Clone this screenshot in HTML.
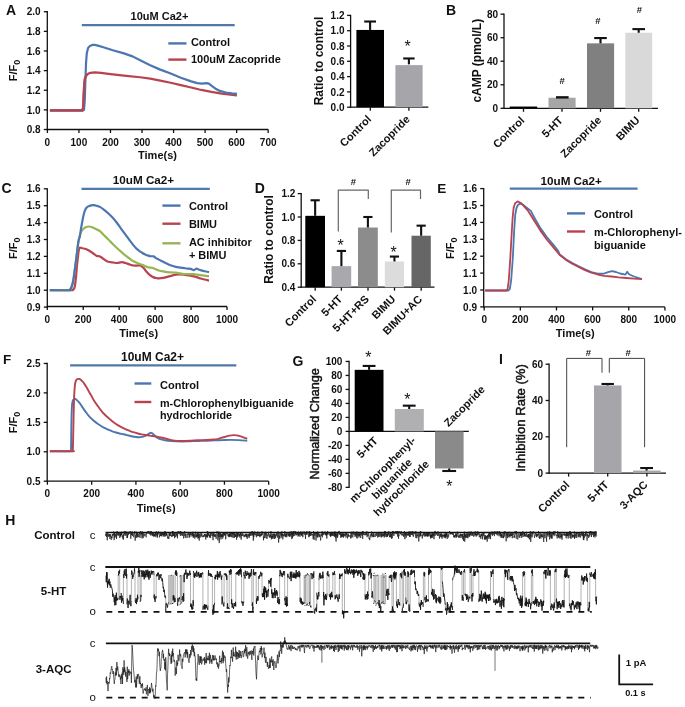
<!DOCTYPE html>
<html><head><meta charset="utf-8"><style>
html,body{margin:0;padding:0;background:#fff;}
svg{display:block;will-change:transform;}
text{font-family:"Liberation Sans", sans-serif;}
</style></head><body>
<svg width="685" height="707" viewBox="0 0 685 707">
<rect width="685" height="707" fill="#fff"/>
<text x="6.0" y="15.2" font-size="14" font-weight="bold" text-anchor="start" fill="#111">A</text>
<line x1="47.30" y1="11.10" x2="47.30" y2="130.10" stroke="#111" stroke-width="1.3"/>
<line x1="43.80" y1="129.50" x2="47.30" y2="129.50" stroke="#111" stroke-width="1.3"/>
<text x="40.6" y="133.1" font-size="10" font-weight="bold" text-anchor="end" fill="#111">0.8</text>
<line x1="43.80" y1="109.87" x2="47.30" y2="109.87" stroke="#111" stroke-width="1.3"/>
<text x="40.6" y="113.5" font-size="10" font-weight="bold" text-anchor="end" fill="#111">1.0</text>
<line x1="43.80" y1="90.24" x2="47.30" y2="90.24" stroke="#111" stroke-width="1.3"/>
<text x="40.6" y="93.8" font-size="10" font-weight="bold" text-anchor="end" fill="#111">1.2</text>
<line x1="43.80" y1="70.61" x2="47.30" y2="70.61" stroke="#111" stroke-width="1.3"/>
<text x="40.6" y="74.2" font-size="10" font-weight="bold" text-anchor="end" fill="#111">1.4</text>
<line x1="43.80" y1="50.98" x2="47.30" y2="50.98" stroke="#111" stroke-width="1.3"/>
<text x="40.6" y="54.6" font-size="10" font-weight="bold" text-anchor="end" fill="#111">1.6</text>
<line x1="43.80" y1="31.35" x2="47.30" y2="31.35" stroke="#111" stroke-width="1.3"/>
<text x="40.6" y="35.0" font-size="10" font-weight="bold" text-anchor="end" fill="#111">1.8</text>
<line x1="43.80" y1="11.72" x2="47.30" y2="11.72" stroke="#111" stroke-width="1.3"/>
<text x="40.6" y="15.3" font-size="10" font-weight="bold" text-anchor="end" fill="#111">2.0</text>
<line x1="46.70" y1="129.50" x2="268.20" y2="129.50" stroke="#111" stroke-width="1.3"/>
<line x1="47.40" y1="129.50" x2="47.40" y2="133.00" stroke="#111" stroke-width="1.3"/>
<text x="47.4" y="145.9" font-size="10" font-weight="bold" text-anchor="middle" fill="#111">0</text>
<line x1="78.94" y1="129.50" x2="78.94" y2="133.00" stroke="#111" stroke-width="1.3"/>
<text x="78.9" y="145.9" font-size="10" font-weight="bold" text-anchor="middle" fill="#111">100</text>
<line x1="110.48" y1="129.50" x2="110.48" y2="133.00" stroke="#111" stroke-width="1.3"/>
<text x="110.5" y="145.9" font-size="10" font-weight="bold" text-anchor="middle" fill="#111">200</text>
<line x1="142.02" y1="129.50" x2="142.02" y2="133.00" stroke="#111" stroke-width="1.3"/>
<text x="142.0" y="145.9" font-size="10" font-weight="bold" text-anchor="middle" fill="#111">300</text>
<line x1="173.56" y1="129.50" x2="173.56" y2="133.00" stroke="#111" stroke-width="1.3"/>
<text x="173.6" y="145.9" font-size="10" font-weight="bold" text-anchor="middle" fill="#111">400</text>
<line x1="205.10" y1="129.50" x2="205.10" y2="133.00" stroke="#111" stroke-width="1.3"/>
<text x="205.1" y="145.9" font-size="10" font-weight="bold" text-anchor="middle" fill="#111">500</text>
<line x1="236.64" y1="129.50" x2="236.64" y2="133.00" stroke="#111" stroke-width="1.3"/>
<text x="236.6" y="145.9" font-size="10" font-weight="bold" text-anchor="middle" fill="#111">600</text>
<line x1="268.18" y1="129.50" x2="268.18" y2="133.00" stroke="#111" stroke-width="1.3"/>
<text x="268.2" y="145.9" font-size="10" font-weight="bold" text-anchor="middle" fill="#111">700</text>
<text x="157.5" y="158.6" font-size="11" font-weight="bold" text-anchor="middle" fill="#111">Time(s)</text>
<text transform="translate(16.6,70.5) rotate(-90)" font-size="11" font-weight="bold" text-anchor="middle" fill="#111">F/F<tspan font-size="9.0" dy="3.2">0</tspan></text>
<line x1="81.80" y1="25.10" x2="234.70" y2="25.10" stroke="#5079aa" stroke-width="2.2"/>
<text x="159.5" y="19.8" font-size="11" font-weight="bold" text-anchor="middle" fill="#111">10uM Ca2+</text>
<line x1="168.30" y1="43.40" x2="186.50" y2="43.40" stroke="#4b76b0" stroke-width="2.4"/>
<text x="190.9" y="46.3" font-size="11" font-weight="bold" text-anchor="start" fill="#111">Control</text>
<line x1="168.30" y1="59.60" x2="186.50" y2="59.60" stroke="#b8434e" stroke-width="2.4"/>
<text x="190.9" y="63.4" font-size="11" font-weight="bold" text-anchor="start" fill="#111">100uM Zacopride</text>
<path d="M49.92,110.46 L82.41,110.46 L83.20,106.93 L83.67,95.15 L84.14,85.33 L84.77,79.44 L85.88,76.01 L87.77,74.05 L90.29,72.87 L94.71,72.38 L101.02,72.87 L110.48,74.05 L126.25,75.81 L140.13,77.28 L150.22,78.66 L160.31,80.62 L170.72,82.78 L180.81,85.14 L191.22,87.49 L201.32,89.95 L211.41,91.91 L221.82,93.68 L236.96,95.44" fill="none" stroke="#b8434e" stroke-width="2.2" stroke-linejoin="round" stroke-linecap="butt"/>
<path d="M49.92,110.46 L82.72,110.46 L83.99,109.87 L84.77,100.05 L85.41,80.43 L86.04,62.76 L86.83,52.94 L88.09,48.04 L89.98,45.88 L92.19,44.89 L94.71,44.89 L97.86,45.58 L102.59,47.05 L107.33,48.53 L113.63,50.49 L123.10,53.14 L132.56,56.38 L140.13,60.30 L150.22,65.21 L160.31,69.63 L170.72,73.55 L180.81,77.68 L191.22,81.41 L197.22,83.17 L201.95,83.57 L206.68,83.17 L208.88,83.57 L211.72,85.82 L216.14,89.06 L219.92,90.93 L225.92,92.50 L231.91,93.38 L236.96,93.87" fill="none" stroke="#4b76b0" stroke-width="2.2" stroke-linejoin="round" stroke-linecap="butt"/>
<path d="M49.92,110.46 L82.41,110.46 L83.20,106.93 L83.67,95.15 L84.14,85.33 L84.77,79.44 L85.88,76.01 L87.77,74.05" fill="none" stroke="#b8434e" stroke-width="2.2" stroke-linejoin="round" stroke-linecap="butt"/>
<line x1="350.60" y1="14.80" x2="350.60" y2="107.80" stroke="#111" stroke-width="1.3"/>
<line x1="347.10" y1="107.20" x2="350.60" y2="107.20" stroke="#111" stroke-width="1.3"/>
<text x="344.5" y="110.8" font-size="10" font-weight="bold" text-anchor="end" fill="#111">0.0</text>
<line x1="347.10" y1="91.90" x2="350.60" y2="91.90" stroke="#111" stroke-width="1.3"/>
<text x="344.5" y="95.5" font-size="10" font-weight="bold" text-anchor="end" fill="#111">0.2</text>
<line x1="347.10" y1="76.60" x2="350.60" y2="76.60" stroke="#111" stroke-width="1.3"/>
<text x="344.5" y="80.2" font-size="10" font-weight="bold" text-anchor="end" fill="#111">0.4</text>
<line x1="347.10" y1="61.30" x2="350.60" y2="61.30" stroke="#111" stroke-width="1.3"/>
<text x="344.5" y="64.9" font-size="10" font-weight="bold" text-anchor="end" fill="#111">0.6</text>
<line x1="347.10" y1="46.00" x2="350.60" y2="46.00" stroke="#111" stroke-width="1.3"/>
<text x="344.5" y="49.6" font-size="10" font-weight="bold" text-anchor="end" fill="#111">0.8</text>
<line x1="347.10" y1="30.70" x2="350.60" y2="30.70" stroke="#111" stroke-width="1.3"/>
<text x="344.5" y="34.3" font-size="10" font-weight="bold" text-anchor="end" fill="#111">1.0</text>
<line x1="347.10" y1="15.40" x2="350.60" y2="15.40" stroke="#111" stroke-width="1.3"/>
<text x="344.5" y="19.0" font-size="10" font-weight="bold" text-anchor="end" fill="#111">1.2</text>
<line x1="350.00" y1="107.20" x2="428.30" y2="107.20" stroke="#111" stroke-width="1.3"/>
<line x1="370.30" y1="107.20" x2="370.30" y2="110.70" stroke="#111" stroke-width="1.3"/>
<line x1="408.90" y1="107.20" x2="408.90" y2="110.70" stroke="#111" stroke-width="1.3"/>
<rect x="356.40" y="29.94" width="27.60" height="77.27" fill="#000"/>
<line x1="370.10" y1="29.94" x2="370.10" y2="21.52" stroke="#111" stroke-width="2.1"/>
<line x1="364.20" y1="21.52" x2="376.00" y2="21.52" stroke="#111" stroke-width="2.1"/>
<rect x="395.40" y="65.12" width="27.20" height="42.08" fill="#a5a5aa"/>
<line x1="408.90" y1="64.36" x2="408.90" y2="58.47" stroke="#111" stroke-width="2.1"/>
<line x1="403.20" y1="58.47" x2="414.60" y2="58.47" stroke="#111" stroke-width="2.1"/>
<text x="407.5" y="52.0" font-size="16" font-weight="normal" text-anchor="middle" fill="#111">*</text>
<text transform="translate(323.0,61.0) rotate(-90)" font-size="12" font-weight="bold" text-anchor="middle" fill="#111">Ratio to control</text>
<text transform="translate(372.0,119.9) rotate(-45)" font-size="11" font-weight="bold" text-anchor="end" fill="#111">Control</text>
<text transform="translate(410.6,119.9) rotate(-45)" font-size="11" font-weight="bold" text-anchor="end" fill="#111">Zacopride</text>
<text x="446.1" y="15.3" font-size="14" font-weight="bold" text-anchor="start" fill="#111">B</text>
<line x1="504.00" y1="13.60" x2="504.00" y2="108.90" stroke="#111" stroke-width="1.3"/>
<line x1="500.50" y1="108.30" x2="504.00" y2="108.30" stroke="#111" stroke-width="1.3"/>
<text x="498.1" y="111.9" font-size="10" font-weight="bold" text-anchor="end" fill="#111">0</text>
<line x1="500.50" y1="84.77" x2="504.00" y2="84.77" stroke="#111" stroke-width="1.3"/>
<text x="498.1" y="88.4" font-size="10" font-weight="bold" text-anchor="end" fill="#111">20</text>
<line x1="500.50" y1="61.24" x2="504.00" y2="61.24" stroke="#111" stroke-width="1.3"/>
<text x="498.1" y="64.8" font-size="10" font-weight="bold" text-anchor="end" fill="#111">40</text>
<line x1="500.50" y1="37.71" x2="504.00" y2="37.71" stroke="#111" stroke-width="1.3"/>
<text x="498.1" y="41.3" font-size="10" font-weight="bold" text-anchor="end" fill="#111">60</text>
<line x1="500.50" y1="14.18" x2="504.00" y2="14.18" stroke="#111" stroke-width="1.3"/>
<text x="498.1" y="17.8" font-size="10" font-weight="bold" text-anchor="end" fill="#111">80</text>
<line x1="503.40" y1="108.30" x2="658.00" y2="108.30" stroke="#111" stroke-width="1.3"/>
<line x1="523.50" y1="108.30" x2="523.50" y2="111.80" stroke="#111" stroke-width="1.3"/>
<line x1="562.00" y1="108.30" x2="562.00" y2="111.80" stroke="#111" stroke-width="1.3"/>
<line x1="600.50" y1="108.30" x2="600.50" y2="111.80" stroke="#111" stroke-width="1.3"/>
<line x1="638.70" y1="108.30" x2="638.70" y2="111.80" stroke="#111" stroke-width="1.3"/>
<rect x="509.70" y="106.54" width="27.50" height="1.76" fill="#000"/>
<rect x="548.50" y="97.71" width="27.10" height="10.59" fill="#a6a6a6"/>
<line x1="556.00" y1="97.36" x2="568.60" y2="97.36" stroke="#111" stroke-width="2.4"/>
<rect x="587.00" y="43.36" width="27.10" height="64.94" fill="#808080"/>
<line x1="600.50" y1="43.36" x2="600.50" y2="38.06" stroke="#111" stroke-width="2.1"/>
<line x1="594.20" y1="38.06" x2="606.80" y2="38.06" stroke="#111" stroke-width="2.1"/>
<rect x="625.30" y="32.77" width="26.90" height="75.53" fill="#d9d9d9"/>
<line x1="638.70" y1="32.77" x2="638.70" y2="29.12" stroke="#111" stroke-width="2.1"/>
<line x1="632.40" y1="29.12" x2="645.00" y2="29.12" stroke="#111" stroke-width="2.1"/>
<text x="562.2" y="83.8" font-size="9.5" font-weight="bold" text-anchor="middle" fill="#111">#</text>
<text x="597.8" y="23.7" font-size="9.5" font-weight="bold" text-anchor="middle" fill="#111">#</text>
<text x="639.5" y="13.1" font-size="9.5" font-weight="bold" text-anchor="middle" fill="#111">#</text>
<text transform="translate(480.8,60.7) rotate(-90)" font-size="12" font-weight="bold" text-anchor="middle" fill="#111">cAMP (pmol/L)</text>
<text transform="translate(525.1,121.0) rotate(-45)" font-size="11" font-weight="bold" text-anchor="end" fill="#111">Control</text>
<text transform="translate(563.6,121.0) rotate(-45)" font-size="11" font-weight="bold" text-anchor="end" fill="#111">5-HT</text>
<text transform="translate(602.1,121.0) rotate(-45)" font-size="11" font-weight="bold" text-anchor="end" fill="#111">Zacopride</text>
<text transform="translate(640.3,121.0) rotate(-45)" font-size="11" font-weight="bold" text-anchor="end" fill="#111">BIMU</text>
<text x="1.4" y="193.0" font-size="14" font-weight="bold" text-anchor="start" fill="#111">C</text>
<line x1="47.30" y1="188.20" x2="47.30" y2="307.70" stroke="#111" stroke-width="1.3"/>
<line x1="43.80" y1="307.10" x2="47.30" y2="307.10" stroke="#111" stroke-width="1.3"/>
<text x="40.6" y="310.7" font-size="10" font-weight="bold" text-anchor="end" fill="#111">0.9</text>
<line x1="43.80" y1="290.20" x2="47.30" y2="290.20" stroke="#111" stroke-width="1.3"/>
<text x="40.6" y="293.8" font-size="10" font-weight="bold" text-anchor="end" fill="#111">1.0</text>
<line x1="43.80" y1="273.30" x2="47.30" y2="273.30" stroke="#111" stroke-width="1.3"/>
<text x="40.6" y="276.9" font-size="10" font-weight="bold" text-anchor="end" fill="#111">1.1</text>
<line x1="43.80" y1="256.40" x2="47.30" y2="256.40" stroke="#111" stroke-width="1.3"/>
<text x="40.6" y="260.0" font-size="10" font-weight="bold" text-anchor="end" fill="#111">1.2</text>
<line x1="43.80" y1="239.50" x2="47.30" y2="239.50" stroke="#111" stroke-width="1.3"/>
<text x="40.6" y="243.1" font-size="10" font-weight="bold" text-anchor="end" fill="#111">1.3</text>
<line x1="43.80" y1="222.60" x2="47.30" y2="222.60" stroke="#111" stroke-width="1.3"/>
<text x="40.6" y="226.2" font-size="10" font-weight="bold" text-anchor="end" fill="#111">1.4</text>
<line x1="43.80" y1="205.70" x2="47.30" y2="205.70" stroke="#111" stroke-width="1.3"/>
<text x="40.6" y="209.3" font-size="10" font-weight="bold" text-anchor="end" fill="#111">1.5</text>
<line x1="43.80" y1="188.80" x2="47.30" y2="188.80" stroke="#111" stroke-width="1.3"/>
<text x="40.6" y="192.4" font-size="10" font-weight="bold" text-anchor="end" fill="#111">1.6</text>
<line x1="46.70" y1="306.50" x2="227.00" y2="306.50" stroke="#111" stroke-width="1.3"/>
<line x1="47.30" y1="306.50" x2="47.30" y2="310.00" stroke="#111" stroke-width="1.3"/>
<text x="47.3" y="322.7" font-size="10" font-weight="bold" text-anchor="middle" fill="#111">0</text>
<line x1="83.24" y1="306.50" x2="83.24" y2="310.00" stroke="#111" stroke-width="1.3"/>
<text x="83.2" y="322.7" font-size="10" font-weight="bold" text-anchor="middle" fill="#111">200</text>
<line x1="119.18" y1="306.50" x2="119.18" y2="310.00" stroke="#111" stroke-width="1.3"/>
<text x="119.2" y="322.7" font-size="10" font-weight="bold" text-anchor="middle" fill="#111">400</text>
<line x1="155.12" y1="306.50" x2="155.12" y2="310.00" stroke="#111" stroke-width="1.3"/>
<text x="155.1" y="322.7" font-size="10" font-weight="bold" text-anchor="middle" fill="#111">600</text>
<line x1="191.06" y1="306.50" x2="191.06" y2="310.00" stroke="#111" stroke-width="1.3"/>
<text x="191.1" y="322.7" font-size="10" font-weight="bold" text-anchor="middle" fill="#111">800</text>
<line x1="227.00" y1="306.50" x2="227.00" y2="310.00" stroke="#111" stroke-width="1.3"/>
<text x="227.0" y="322.7" font-size="10" font-weight="bold" text-anchor="middle" fill="#111">1000</text>
<text x="138.6" y="336.5" font-size="11" font-weight="bold" text-anchor="middle" fill="#111">Time(s)</text>
<text transform="translate(16.6,248.2) rotate(-90)" font-size="11" font-weight="bold" text-anchor="middle" fill="#111">F/F<tspan font-size="9.0" dy="3.2">0</tspan></text>
<line x1="81.50" y1="188.90" x2="209.80" y2="188.90" stroke="#5079aa" stroke-width="2.2"/>
<text x="143.5" y="184.0" font-size="11.7" font-weight="bold" text-anchor="middle" fill="#111">10uM Ca2+</text>
<line x1="162.40" y1="205.60" x2="180.50" y2="205.60" stroke="#4b76b0" stroke-width="2.4"/>
<text x="188.9" y="210.4" font-size="11" font-weight="bold" text-anchor="start" fill="#111">Control</text>
<line x1="162.40" y1="223.70" x2="180.50" y2="223.70" stroke="#b8434e" stroke-width="2.4"/>
<text x="188.9" y="228.2" font-size="11" font-weight="bold" text-anchor="start" fill="#111">BIMU</text>
<line x1="162.40" y1="243.30" x2="180.50" y2="243.30" stroke="#95b653" stroke-width="2.4"/>
<text x="188.9" y="245.8" font-size="11" font-weight="bold" text-anchor="start" fill="#111">AC inhibitor</text>
<text x="188.9" y="258.6" font-size="11" font-weight="bold" text-anchor="start" fill="#111">+ BIMU</text>
<path d="M49.82,290.20 C53.29,290.20 66.83,290.28 70.66,290.20 C74.49,290.12 72.22,290.03 72.82,289.69 C73.42,289.36 73.90,288.88 74.25,288.17 C74.61,287.47 74.67,287.38 74.97,285.47 C75.27,283.55 75.72,279.98 76.05,276.68 C76.38,273.38 76.65,268.79 76.95,265.70 C77.25,262.60 77.58,260.43 77.85,258.09 C78.12,255.75 78.24,253.41 78.57,251.67 C78.90,249.92 79.20,248.18 79.83,247.61 C80.45,247.05 81.47,248.09 82.34,248.29 C83.21,248.49 84.29,248.60 85.04,248.80 C85.79,248.99 86.06,249.10 86.83,249.47 C87.61,249.84 88.75,250.40 89.71,250.99 C90.67,251.58 91.42,252.20 92.58,253.02 C93.75,253.84 95.49,255.33 96.72,255.89 C97.95,256.46 98.87,255.92 99.95,256.40 C101.03,256.88 102.23,258.09 103.19,258.77 C104.15,259.44 104.83,259.95 105.70,260.46 C106.57,260.96 107.11,261.47 108.40,261.81 C109.69,262.15 112.02,262.29 113.43,262.48 C114.84,262.68 115.44,263.05 116.84,262.99 C118.25,262.93 120.47,262.15 121.88,262.15 C123.28,262.15 123.88,262.57 125.29,262.99 C126.70,263.41 128.94,264.26 130.32,264.68 C131.70,265.10 132.42,265.39 133.56,265.53 C134.69,265.67 136.04,265.53 137.15,265.53 C138.26,265.53 139.13,265.10 140.20,265.53 C141.28,265.95 142.63,267.10 143.62,268.06 C144.61,269.02 145.30,270.29 146.13,271.27 C146.97,272.26 147.81,273.19 148.65,273.98 C149.49,274.76 150.33,275.44 151.17,276.00 C152.01,276.57 152.84,277.02 153.68,277.36 C154.52,277.69 155.33,277.86 156.20,278.03 C157.07,278.20 157.73,278.40 158.89,278.37 C160.06,278.34 161.80,278.12 163.21,277.86 C164.61,277.61 165.99,277.19 167.34,276.85 C168.69,276.51 169.89,276.20 171.29,275.84 C172.70,275.47 174.35,274.88 175.79,274.65 C177.22,274.43 178.57,274.48 179.92,274.48 C181.27,274.48 182.31,274.48 183.87,274.65 C185.43,274.82 187.59,275.22 189.26,275.50 C190.94,275.78 192.59,276.03 193.94,276.34 C195.28,276.65 196.21,276.99 197.35,277.36 C198.49,277.72 199.57,278.17 200.76,278.54 C201.96,278.91 203.16,279.22 204.54,279.55 C205.92,279.89 208.28,280.40 209.03,280.57" fill="none" stroke="#b8434e" stroke-width="2.2" stroke-linejoin="round"/>
<path d="M49.82,290.20 C52.99,290.20 65.51,290.28 68.86,290.20 C72.22,290.12 69.49,290.26 69.94,289.69 C70.39,289.13 70.99,288.45 71.56,286.82 C72.13,285.19 72.58,284.59 73.36,279.89 C74.14,275.19 75.39,264.96 76.23,258.60 C77.07,252.23 77.67,245.92 78.39,241.70 C79.11,237.47 79.80,235.30 80.54,233.25 C81.29,231.19 82.01,230.37 82.88,229.36 C83.75,228.35 84.74,227.64 85.76,227.16 C86.77,226.68 87.91,226.49 88.99,226.49 C90.07,226.49 91.09,226.74 92.22,227.16 C93.36,227.59 94.53,228.37 95.82,229.02 C97.11,229.67 98.57,230.01 99.95,231.05 C101.33,232.09 102.68,233.87 104.09,235.28 C105.49,236.68 106.99,238.09 108.40,239.50 C109.81,240.91 111.12,242.32 112.53,243.73 C113.94,245.13 115.44,246.63 116.84,247.95 C118.25,249.27 119.57,250.43 120.98,251.67 C122.38,252.91 123.88,254.26 125.29,255.39 C126.70,256.51 128.05,257.44 129.42,258.43 C130.80,259.41 132.18,260.51 133.56,261.30 C134.93,262.09 136.28,262.60 137.69,263.16 C139.10,263.72 140.74,264.17 142.00,264.68 C143.26,265.19 144.13,265.72 145.24,266.20 C146.34,266.68 147.51,267.30 148.65,267.55 C149.79,267.81 150.99,267.50 152.07,267.72 C153.14,267.95 153.98,268.46 155.12,268.91 C156.26,269.36 157.55,270.00 158.89,270.43 C160.24,270.85 161.80,271.16 163.21,271.44 C164.61,271.72 165.99,271.95 167.34,272.12 C168.69,272.29 169.89,272.37 171.29,272.46 C172.70,272.54 174.35,272.48 175.79,272.62 C177.22,272.76 178.57,273.07 179.92,273.30 C181.27,273.53 182.31,273.84 183.87,273.98 C185.43,274.12 187.59,274.12 189.26,274.15 C190.94,274.17 192.59,274.06 193.94,274.15 C195.28,274.23 196.21,274.48 197.35,274.65 C198.49,274.82 199.57,274.99 200.76,275.16 C201.96,275.33 203.16,275.47 204.54,275.67 C205.92,275.86 208.28,276.23 209.03,276.34" fill="none" stroke="#95b653" stroke-width="2.2" stroke-linejoin="round"/>
<path d="M49.82,290.20 C52.99,290.20 65.51,290.28 68.86,290.20 C72.22,290.12 69.49,290.26 69.94,289.69 C70.39,289.13 70.99,288.45 71.56,286.82 C72.13,285.19 72.58,284.59 73.36,279.89 C74.14,275.19 75.39,264.96 76.23,258.60 C77.07,252.23 77.79,245.39 78.39,241.70 C78.99,238.01 79.41,238.51 79.83,236.46 C80.25,234.40 80.54,231.56 80.90,229.36 C81.26,227.16 81.56,225.53 81.98,223.28 C82.40,221.02 82.94,217.95 83.42,215.84 C83.90,213.73 84.35,211.95 84.86,210.60 C85.37,209.25 85.91,208.43 86.47,207.73 C87.04,207.02 87.49,206.77 88.27,206.38 C89.05,205.98 90.19,205.56 91.15,205.36 C92.11,205.16 93.06,205.11 94.02,205.19 C94.98,205.28 95.91,205.59 96.90,205.87 C97.89,206.15 98.75,206.24 99.95,206.88 C101.15,207.53 102.68,208.66 104.09,209.76 C105.49,210.85 106.99,212.18 108.40,213.47 C109.81,214.77 111.12,215.98 112.53,217.53 C113.94,219.08 115.44,220.94 116.84,222.77 C118.25,224.60 119.57,226.57 120.98,228.52 C122.38,230.46 123.88,232.51 125.29,234.43 C126.70,236.35 128.05,238.18 129.42,240.01 C130.80,241.84 132.45,244.03 133.56,245.42 C134.66,246.80 135.23,247.44 136.07,248.29 C136.91,249.13 137.60,249.75 138.59,250.49 C139.58,251.22 140.89,252.01 142.00,252.68 C143.11,253.36 144.25,254.06 145.24,254.54 C146.22,255.02 147.06,255.27 147.93,255.56 C148.80,255.84 149.49,256.09 150.45,256.23 C151.41,256.37 152.75,256.09 153.68,256.40 C154.61,256.71 155.15,257.55 156.02,258.09 C156.89,258.63 157.70,258.99 158.89,259.61 C160.09,260.23 161.80,261.10 163.21,261.81 C164.61,262.51 165.99,263.22 167.34,263.84 C168.69,264.46 169.89,265.02 171.29,265.53 C172.70,266.03 174.29,266.54 175.79,266.88 C177.28,267.22 178.93,267.36 180.28,267.55 C181.63,267.75 182.67,267.89 183.87,268.06 C185.07,268.23 186.33,268.43 187.47,268.57 C188.60,268.71 189.62,268.65 190.70,268.91 C191.78,269.16 192.98,270.15 193.94,270.09 C194.89,270.03 195.67,268.65 196.45,268.57 C197.23,268.48 197.89,269.30 198.61,269.58 C199.33,269.86 199.78,269.98 200.76,270.26 C201.75,270.54 203.16,270.96 204.54,271.27 C205.92,271.58 208.28,271.98 209.03,272.12" fill="none" stroke="#4b76b0" stroke-width="2.2" stroke-linejoin="round"/>
<text x="254.7" y="193.0" font-size="14" font-weight="bold" text-anchor="start" fill="#111">D</text>
<line x1="301.20" y1="193.00" x2="301.20" y2="287.80" stroke="#111" stroke-width="1.3"/>
<line x1="297.70" y1="287.20" x2="301.20" y2="287.20" stroke="#111" stroke-width="1.3"/>
<text x="295.3" y="290.8" font-size="10" font-weight="bold" text-anchor="end" fill="#111">0.4</text>
<line x1="297.70" y1="263.80" x2="301.20" y2="263.80" stroke="#111" stroke-width="1.3"/>
<text x="295.3" y="267.4" font-size="10" font-weight="bold" text-anchor="end" fill="#111">0.6</text>
<line x1="297.70" y1="240.40" x2="301.20" y2="240.40" stroke="#111" stroke-width="1.3"/>
<text x="295.3" y="244.0" font-size="10" font-weight="bold" text-anchor="end" fill="#111">0.8</text>
<line x1="297.70" y1="217.00" x2="301.20" y2="217.00" stroke="#111" stroke-width="1.3"/>
<text x="295.3" y="220.6" font-size="10" font-weight="bold" text-anchor="end" fill="#111">1.0</text>
<line x1="297.70" y1="193.60" x2="301.20" y2="193.60" stroke="#111" stroke-width="1.3"/>
<text x="295.3" y="197.2" font-size="10" font-weight="bold" text-anchor="end" fill="#111">1.2</text>
<line x1="300.60" y1="287.20" x2="434.50" y2="287.20" stroke="#111" stroke-width="1.3"/>
<line x1="315.20" y1="287.20" x2="315.20" y2="290.70" stroke="#111" stroke-width="1.3"/>
<line x1="341.40" y1="287.20" x2="341.40" y2="290.70" stroke="#111" stroke-width="1.3"/>
<line x1="368.00" y1="287.20" x2="368.00" y2="290.70" stroke="#111" stroke-width="1.3"/>
<line x1="394.50" y1="287.20" x2="394.50" y2="290.70" stroke="#111" stroke-width="1.3"/>
<line x1="421.20" y1="287.20" x2="421.20" y2="290.70" stroke="#111" stroke-width="1.3"/>
<rect x="305.30" y="215.83" width="19.70" height="71.37" fill="#000"/>
<line x1="315.15" y1="215.83" x2="315.15" y2="200.27" stroke="#111" stroke-width="2.1"/>
<line x1="310.55" y1="200.27" x2="319.75" y2="200.27" stroke="#111" stroke-width="2.1"/>
<rect x="331.60" y="266.14" width="19.60" height="21.06" fill="#a9a9ad"/>
<line x1="341.40" y1="266.14" x2="341.40" y2="250.93" stroke="#111" stroke-width="2.1"/>
<line x1="336.80" y1="250.93" x2="346.00" y2="250.93" stroke="#111" stroke-width="2.1"/>
<rect x="358.00" y="227.53" width="19.80" height="59.67" fill="#8c8c8c"/>
<line x1="367.90" y1="227.53" x2="367.90" y2="217.00" stroke="#111" stroke-width="2.1"/>
<line x1="363.30" y1="217.00" x2="372.50" y2="217.00" stroke="#111" stroke-width="2.1"/>
<rect x="384.80" y="261.46" width="19.30" height="25.74" fill="#dcdcdc"/>
<line x1="394.45" y1="261.46" x2="394.45" y2="256.55" stroke="#111" stroke-width="2.1"/>
<line x1="389.85" y1="256.55" x2="399.05" y2="256.55" stroke="#111" stroke-width="2.1"/>
<rect x="411.50" y="235.72" width="19.30" height="51.48" fill="#666"/>
<line x1="421.15" y1="235.72" x2="421.15" y2="225.66" stroke="#111" stroke-width="2.1"/>
<line x1="416.55" y1="225.66" x2="425.75" y2="225.66" stroke="#111" stroke-width="2.1"/>
<text x="340.5" y="251.0" font-size="16" font-weight="normal" text-anchor="middle" fill="#111">*</text>
<text x="393.5" y="257.6" font-size="16" font-weight="normal" text-anchor="middle" fill="#111">*</text>
<path d="M338.30,231.60 L338.30,190.20 L368.30,190.20 L368.30,199.00" fill="none" stroke="#666" stroke-width="1.2" stroke-linejoin="round" stroke-linecap="butt"/>
<path d="M391.30,232.50 L391.30,190.20 L420.50,190.20 L420.50,199.00" fill="none" stroke="#666" stroke-width="1.2" stroke-linejoin="round" stroke-linecap="butt"/>
<text x="353.5" y="184.5" font-size="9.5" font-weight="bold" text-anchor="middle" fill="#111">#</text>
<text x="408.2" y="184.5" font-size="9.5" font-weight="bold" text-anchor="middle" fill="#111">#</text>
<text transform="translate(273.0,239.4) rotate(-90)" font-size="12" font-weight="bold" text-anchor="middle" fill="#111">Ratio to control</text>
<text transform="translate(316.8,299.8) rotate(-45)" font-size="11" font-weight="bold" text-anchor="end" fill="#111">Control</text>
<text transform="translate(343.0,299.8) rotate(-45)" font-size="11" font-weight="bold" text-anchor="end" fill="#111">5-HT</text>
<text transform="translate(369.6,299.8) rotate(-45)" font-size="11" font-weight="bold" text-anchor="end" fill="#111">5-HT+RS</text>
<text transform="translate(396.1,299.8) rotate(-45)" font-size="11" font-weight="bold" text-anchor="end" fill="#111">BIMU</text>
<text transform="translate(422.8,299.8) rotate(-45)" font-size="11" font-weight="bold" text-anchor="end" fill="#111">BIMU+AC</text>
<text x="437.2" y="192.8" font-size="13.5" font-weight="bold" text-anchor="start" fill="#111">E</text>
<line x1="483.70" y1="188.00" x2="483.70" y2="307.50" stroke="#111" stroke-width="1.3"/>
<line x1="480.20" y1="306.90" x2="483.70" y2="306.90" stroke="#111" stroke-width="1.3"/>
<text x="477.0" y="310.5" font-size="10" font-weight="bold" text-anchor="end" fill="#111">0.9</text>
<line x1="480.20" y1="290.00" x2="483.70" y2="290.00" stroke="#111" stroke-width="1.3"/>
<text x="477.0" y="293.6" font-size="10" font-weight="bold" text-anchor="end" fill="#111">1.0</text>
<line x1="480.20" y1="273.10" x2="483.70" y2="273.10" stroke="#111" stroke-width="1.3"/>
<text x="477.0" y="276.7" font-size="10" font-weight="bold" text-anchor="end" fill="#111">1.1</text>
<line x1="480.20" y1="256.20" x2="483.70" y2="256.20" stroke="#111" stroke-width="1.3"/>
<text x="477.0" y="259.8" font-size="10" font-weight="bold" text-anchor="end" fill="#111">1.2</text>
<line x1="480.20" y1="239.30" x2="483.70" y2="239.30" stroke="#111" stroke-width="1.3"/>
<text x="477.0" y="242.9" font-size="10" font-weight="bold" text-anchor="end" fill="#111">1.3</text>
<line x1="480.20" y1="222.40" x2="483.70" y2="222.40" stroke="#111" stroke-width="1.3"/>
<text x="477.0" y="226.0" font-size="10" font-weight="bold" text-anchor="end" fill="#111">1.4</text>
<line x1="480.20" y1="205.50" x2="483.70" y2="205.50" stroke="#111" stroke-width="1.3"/>
<text x="477.0" y="209.1" font-size="10" font-weight="bold" text-anchor="end" fill="#111">1.5</text>
<line x1="480.20" y1="188.60" x2="483.70" y2="188.60" stroke="#111" stroke-width="1.3"/>
<text x="477.0" y="192.2" font-size="10" font-weight="bold" text-anchor="end" fill="#111">1.6</text>
<line x1="483.10" y1="306.90" x2="664.90" y2="306.90" stroke="#111" stroke-width="1.3"/>
<line x1="484.20" y1="306.90" x2="484.20" y2="310.40" stroke="#111" stroke-width="1.3"/>
<text x="484.2" y="323.0" font-size="10" font-weight="bold" text-anchor="middle" fill="#111">0</text>
<line x1="520.34" y1="306.90" x2="520.34" y2="310.40" stroke="#111" stroke-width="1.3"/>
<text x="520.3" y="323.0" font-size="10" font-weight="bold" text-anchor="middle" fill="#111">200</text>
<line x1="556.48" y1="306.90" x2="556.48" y2="310.40" stroke="#111" stroke-width="1.3"/>
<text x="556.5" y="323.0" font-size="10" font-weight="bold" text-anchor="middle" fill="#111">400</text>
<line x1="592.62" y1="306.90" x2="592.62" y2="310.40" stroke="#111" stroke-width="1.3"/>
<text x="592.6" y="323.0" font-size="10" font-weight="bold" text-anchor="middle" fill="#111">600</text>
<line x1="628.76" y1="306.90" x2="628.76" y2="310.40" stroke="#111" stroke-width="1.3"/>
<text x="628.8" y="323.0" font-size="10" font-weight="bold" text-anchor="middle" fill="#111">800</text>
<line x1="664.90" y1="306.90" x2="664.90" y2="310.40" stroke="#111" stroke-width="1.3"/>
<text x="664.9" y="323.0" font-size="10" font-weight="bold" text-anchor="middle" fill="#111">1000</text>
<text x="575.3" y="336.6" font-size="11" font-weight="bold" text-anchor="middle" fill="#111">Time(s)</text>
<text transform="translate(453.5,248.2) rotate(-90)" font-size="11" font-weight="bold" text-anchor="middle" fill="#111">F/F<tspan font-size="9.0" dy="3.2">0</tspan></text>
<line x1="509.80" y1="188.60" x2="637.60" y2="188.60" stroke="#5079aa" stroke-width="2.2"/>
<text x="571.2" y="185.2" font-size="11.7" font-weight="bold" text-anchor="middle" fill="#111">10uM Ca2+</text>
<line x1="567.00" y1="213.40" x2="585.10" y2="213.40" stroke="#4b76b0" stroke-width="2.4"/>
<text x="593.9" y="218.2" font-size="11" font-weight="bold" text-anchor="start" fill="#111">Control</text>
<line x1="567.00" y1="231.50" x2="585.10" y2="231.50" stroke="#b8434e" stroke-width="2.4"/>
<text x="593.9" y="235.6" font-size="11" font-weight="bold" text-anchor="start" fill="#111">m-Chlorophenyl-</text>
<text x="593.9" y="248.6" font-size="11" font-weight="bold" text-anchor="start" fill="#111">biguanide</text>
<path d="M485.20,290.50 L508.60,290.50 L509.80,289.00 L511.20,280.00 L512.80,258.00 L514.10,232.00 L515.20,215.00 L516.50,208.00 L518.00,205.00 L519.80,203.70 L522.60,204.50 L527.70,208.40 L530.90,210.90 L534.10,217.30 L540.40,228.10 L546.80,237.00 L553.20,244.60 L558.30,251.00 L559.50,254.20 L565.90,259.20 L572.30,263.10 L578.60,266.20 L585.00,269.40 L591.30,272.00 L597.70,273.60 L604.00,273.60 L608.00,272.20 L612.00,271.20 L616.00,272.00 L620.00,273.50 L625.50,274.60 L627.20,271.80 L629.00,274.20 L634.00,276.50 L642.00,279.00" fill="none" stroke="#4b76b0" stroke-width="1.8" stroke-linejoin="round" stroke-linecap="butt"/>
<path d="M485.20,290.50 L506.60,290.50 L507.60,289.00 L508.80,280.00 L510.30,258.00 L511.60,235.00 L512.60,218.00 L513.60,208.00 L515.00,203.50 L517.50,201.40 L521.40,203.30 L527.70,210.30 L534.10,220.40 L540.40,230.60 L546.80,239.50 L553.20,247.20 L559.50,254.80 L565.90,259.90 L572.30,263.70 L578.60,266.90 L585.00,270.10 L591.30,272.60 L597.70,274.50 L604.00,275.80 L611.40,276.50 L618.70,277.40 L626.00,278.00 L634.00,278.60 L642.00,279.00" fill="none" stroke="#b8434e" stroke-width="1.8" stroke-linejoin="round" stroke-linecap="butt"/>
<text x="3.0" y="364.0" font-size="13.5" font-weight="bold" text-anchor="start" fill="#111">F</text>
<line x1="47.20" y1="362.86" x2="47.20" y2="481.80" stroke="#111" stroke-width="1.3"/>
<line x1="43.70" y1="481.20" x2="47.20" y2="481.20" stroke="#111" stroke-width="1.3"/>
<text x="40.5" y="484.8" font-size="10" font-weight="bold" text-anchor="end" fill="#111">0.5</text>
<line x1="43.70" y1="451.76" x2="47.20" y2="451.76" stroke="#111" stroke-width="1.3"/>
<text x="40.5" y="455.4" font-size="10" font-weight="bold" text-anchor="end" fill="#111">1.0</text>
<line x1="43.70" y1="422.33" x2="47.20" y2="422.33" stroke="#111" stroke-width="1.3"/>
<text x="40.5" y="425.9" font-size="10" font-weight="bold" text-anchor="end" fill="#111">1.5</text>
<line x1="43.70" y1="392.89" x2="47.20" y2="392.89" stroke="#111" stroke-width="1.3"/>
<text x="40.5" y="396.5" font-size="10" font-weight="bold" text-anchor="end" fill="#111">2.0</text>
<line x1="43.70" y1="363.46" x2="47.20" y2="363.46" stroke="#111" stroke-width="1.3"/>
<text x="40.5" y="367.1" font-size="10" font-weight="bold" text-anchor="end" fill="#111">2.5</text>
<line x1="46.60" y1="481.20" x2="268.70" y2="481.20" stroke="#111" stroke-width="1.3"/>
<line x1="47.40" y1="481.20" x2="47.40" y2="484.70" stroke="#111" stroke-width="1.3"/>
<text x="47.4" y="496.6" font-size="10" font-weight="bold" text-anchor="middle" fill="#111">0</text>
<line x1="91.66" y1="481.20" x2="91.66" y2="484.70" stroke="#111" stroke-width="1.3"/>
<text x="91.7" y="496.6" font-size="10" font-weight="bold" text-anchor="middle" fill="#111">200</text>
<line x1="135.92" y1="481.20" x2="135.92" y2="484.70" stroke="#111" stroke-width="1.3"/>
<text x="135.9" y="496.6" font-size="10" font-weight="bold" text-anchor="middle" fill="#111">400</text>
<line x1="180.18" y1="481.20" x2="180.18" y2="484.70" stroke="#111" stroke-width="1.3"/>
<text x="180.2" y="496.6" font-size="10" font-weight="bold" text-anchor="middle" fill="#111">600</text>
<line x1="224.44" y1="481.20" x2="224.44" y2="484.70" stroke="#111" stroke-width="1.3"/>
<text x="224.4" y="496.6" font-size="10" font-weight="bold" text-anchor="middle" fill="#111">800</text>
<line x1="268.70" y1="481.20" x2="268.70" y2="484.70" stroke="#111" stroke-width="1.3"/>
<text x="268.7" y="496.6" font-size="10" font-weight="bold" text-anchor="middle" fill="#111">1000</text>
<text x="156.2" y="511.8" font-size="11" font-weight="bold" text-anchor="middle" fill="#111">Time(s)</text>
<text transform="translate(16.6,422.5) rotate(-90)" font-size="11" font-weight="bold" text-anchor="middle" fill="#111">F/F<tspan font-size="9.0" dy="3.2">0</tspan></text>
<line x1="70.10" y1="365.30" x2="236.30" y2="365.30" stroke="#5079aa" stroke-width="2.2"/>
<text x="152.5" y="361.4" font-size="12" font-weight="bold" text-anchor="middle" fill="#111">10uM Ca2+</text>
<line x1="134.50" y1="383.50" x2="151.30" y2="383.50" stroke="#4b76b0" stroke-width="2.4"/>
<text x="160.0" y="388.6" font-size="11" font-weight="bold" text-anchor="start" fill="#111">Control</text>
<line x1="134.50" y1="402.00" x2="151.30" y2="402.00" stroke="#b8434e" stroke-width="2.4"/>
<text x="160.0" y="407.2" font-size="10.8" font-weight="bold" text-anchor="start" fill="#111">m-Chlorophenylbiguanide</text>
<text x="160.0" y="419.4" font-size="10.8" font-weight="bold" text-anchor="start" fill="#111">hydrochloride</text>
<path d="M49.83,451.18 C53.26,451.18 66.91,451.27 70.42,451.18 C73.92,451.08 70.75,451.47 70.86,450.59 C70.97,449.70 71.01,449.61 71.08,445.88 C71.15,442.15 71.21,433.61 71.30,428.22 C71.39,422.82 71.50,417.42 71.63,413.50 C71.76,409.57 71.87,406.83 72.07,404.67 C72.28,402.51 72.54,401.46 72.85,400.55 C73.16,399.64 73.55,399.47 73.96,399.19 C74.36,398.92 74.73,398.67 75.28,398.90 C75.84,399.13 76.57,399.90 77.28,400.55 C77.98,401.20 78.75,401.85 79.49,402.79 C80.23,403.72 80.96,405.04 81.70,406.14 C82.44,407.24 83.18,408.33 83.91,409.38 C84.65,410.43 85.39,411.46 86.13,412.44 C86.87,413.42 87.49,414.26 88.34,415.27 C89.19,416.27 90.26,417.47 91.22,418.44 C92.18,419.42 93.02,420.20 94.09,421.09 C95.16,421.99 96.42,422.95 97.64,423.80 C98.85,424.66 100.18,425.48 101.40,426.22 C102.61,426.95 103.72,427.60 104.94,428.22 C106.16,428.84 107.48,429.40 108.70,429.92 C109.92,430.44 111.02,430.91 112.24,431.34 C113.46,431.77 114.79,432.16 116.00,432.51 C117.22,432.87 118.33,433.17 119.54,433.46 C120.76,433.74 122.05,433.95 123.31,434.22 C124.56,434.50 125.85,434.81 127.07,435.10 C128.29,435.40 129.43,435.72 130.61,435.99 C131.79,436.25 132.93,436.49 134.15,436.69 C135.37,436.90 136.81,437.15 137.91,437.22 C139.02,437.30 139.79,437.30 140.79,437.17 C141.78,437.03 143.00,436.71 143.89,436.40 C144.77,436.09 145.40,435.64 146.10,435.28 C146.80,434.92 147.46,434.59 148.09,434.22 C148.72,433.85 149.35,433.28 149.86,433.04 C150.38,432.81 150.75,432.73 151.19,432.81 C151.63,432.89 152.04,433.15 152.52,433.52 C153.00,433.88 153.44,434.40 154.07,434.99 C154.69,435.58 155.54,436.50 156.28,437.05 C157.02,437.60 157.64,437.89 158.49,438.28 C159.34,438.68 160.12,439.02 161.37,439.40 C162.62,439.78 164.36,440.29 166.02,440.58 C167.68,440.87 168.64,441.02 171.33,441.17 C174.02,441.32 179.04,441.45 182.17,441.46 C185.31,441.47 187.48,441.31 190.14,441.23 C192.79,441.15 195.34,441.08 198.11,440.99 C200.87,440.90 204.04,440.80 206.74,440.70 C209.43,440.60 211.68,440.50 214.26,440.40 C216.84,440.30 219.57,440.20 222.23,440.11 C224.88,440.02 227.43,439.87 230.19,439.87 C232.96,439.87 235.98,439.97 238.82,440.11 C241.66,440.25 245.83,440.60 247.23,440.70" fill="none" stroke="#4b76b0" stroke-width="1.9" stroke-linejoin="round"/>
<path d="M49.83,451.18 C53.56,451.18 68.39,451.27 72.19,451.18 C75.98,451.08 72.50,451.47 72.63,450.59 C72.76,449.70 72.85,449.12 72.96,445.88 C73.07,442.64 73.16,437.05 73.29,431.16 C73.42,425.27 73.59,416.44 73.73,410.56 C73.88,404.67 73.99,399.96 74.18,395.84 C74.36,391.72 74.58,388.28 74.84,385.83 C75.10,383.38 75.36,382.22 75.73,381.12 C76.10,380.02 76.61,379.61 77.05,379.24 C77.50,378.86 77.98,378.92 78.38,378.88 C78.79,378.84 79.05,378.83 79.49,379.00 C79.93,379.18 80.56,379.54 81.04,379.94 C81.52,380.35 81.89,380.89 82.37,381.42 C82.84,381.95 83.29,382.24 83.91,383.12 C84.54,384.01 85.39,385.50 86.13,386.71 C86.87,387.93 87.49,388.95 88.34,390.42 C89.19,391.89 90.26,393.83 91.22,395.54 C92.18,397.26 93.02,399.01 94.09,400.72 C95.16,402.44 96.42,404.15 97.64,405.85 C98.85,407.54 100.18,409.42 101.40,410.91 C102.61,412.40 103.72,413.58 104.94,414.79 C106.16,416.01 107.48,417.13 108.70,418.21 C109.92,419.29 111.02,420.31 112.24,421.27 C113.46,422.23 114.79,423.16 116.00,423.98 C117.22,424.79 118.33,425.47 119.54,426.16 C120.76,426.84 122.05,427.49 123.31,428.10 C124.56,428.71 125.85,429.28 127.07,429.81 C128.29,430.34 129.43,430.84 130.61,431.28 C131.79,431.72 132.93,432.08 134.15,432.46 C135.37,432.83 136.69,433.20 137.91,433.52 C139.13,433.83 140.24,434.09 141.45,434.34 C142.67,434.58 143.92,434.79 145.21,434.99 C146.51,435.18 147.98,435.35 149.20,435.52 C150.42,435.68 151.04,435.75 152.52,435.99 C153.99,436.22 156.39,436.64 158.05,436.93 C159.71,437.22 161.15,437.45 162.48,437.75 C163.80,438.06 164.54,438.36 166.02,438.75 C167.49,439.15 169.45,439.74 171.33,440.11 C173.21,440.48 175.27,440.86 177.30,440.99 C179.33,441.12 181.36,440.92 183.50,440.87 C185.64,440.82 187.74,440.80 190.14,440.70 C192.54,440.60 195.19,440.41 197.88,440.29 C200.58,440.16 203.71,440.06 206.29,439.93 C208.88,439.80 211.53,439.66 213.38,439.52 C215.22,439.38 216.07,439.37 217.36,439.11 C218.65,438.84 219.76,438.33 221.12,437.93 C222.49,437.53 224.18,437.07 225.55,436.69 C226.91,436.32 227.98,435.96 229.31,435.69 C230.64,435.43 232.26,435.15 233.51,435.10 C234.77,435.06 235.76,435.22 236.83,435.40 C237.90,435.58 238.82,435.84 239.93,436.16 C241.04,436.49 242.25,436.91 243.47,437.34 C244.69,437.77 246.61,438.52 247.23,438.75" fill="none" stroke="#b8434e" stroke-width="1.9" stroke-linejoin="round"/>
<text x="292.4" y="365.5" font-size="14" font-weight="bold" text-anchor="start" fill="#111">G</text>
<line x1="349.10" y1="360.85" x2="349.10" y2="487.96" stroke="#111" stroke-width="1.3"/>
<line x1="345.60" y1="361.45" x2="349.10" y2="361.45" stroke="#111" stroke-width="1.3"/>
<text x="342.4" y="365.1" font-size="10" font-weight="bold" text-anchor="end" fill="#111">100</text>
<line x1="345.60" y1="375.44" x2="349.10" y2="375.44" stroke="#111" stroke-width="1.3"/>
<text x="342.4" y="379.0" font-size="10" font-weight="bold" text-anchor="end" fill="#111">80</text>
<line x1="345.60" y1="389.43" x2="349.10" y2="389.43" stroke="#111" stroke-width="1.3"/>
<text x="342.4" y="393.0" font-size="10" font-weight="bold" text-anchor="end" fill="#111">60</text>
<line x1="345.60" y1="403.42" x2="349.10" y2="403.42" stroke="#111" stroke-width="1.3"/>
<text x="342.4" y="407.0" font-size="10" font-weight="bold" text-anchor="end" fill="#111">40</text>
<line x1="345.60" y1="417.41" x2="349.10" y2="417.41" stroke="#111" stroke-width="1.3"/>
<text x="342.4" y="421.0" font-size="10" font-weight="bold" text-anchor="end" fill="#111">20</text>
<line x1="345.60" y1="431.40" x2="349.10" y2="431.40" stroke="#111" stroke-width="1.3"/>
<text x="342.4" y="435.0" font-size="10" font-weight="bold" text-anchor="end" fill="#111">0</text>
<line x1="345.60" y1="445.39" x2="349.10" y2="445.39" stroke="#111" stroke-width="1.3"/>
<text x="342.4" y="449.0" font-size="10" font-weight="bold" text-anchor="end" fill="#111">-20</text>
<line x1="345.60" y1="459.38" x2="349.10" y2="459.38" stroke="#111" stroke-width="1.3"/>
<text x="342.4" y="463.0" font-size="10" font-weight="bold" text-anchor="end" fill="#111">-40</text>
<line x1="345.60" y1="473.37" x2="349.10" y2="473.37" stroke="#111" stroke-width="1.3"/>
<text x="342.4" y="477.0" font-size="10" font-weight="bold" text-anchor="end" fill="#111">-60</text>
<line x1="345.60" y1="487.36" x2="349.10" y2="487.36" stroke="#111" stroke-width="1.3"/>
<text x="342.4" y="491.0" font-size="10" font-weight="bold" text-anchor="end" fill="#111">-80</text>
<line x1="349.10" y1="431.40" x2="468.80" y2="431.40" stroke="#111" stroke-width="1.3"/>
<rect x="354.70" y="369.84" width="28.80" height="61.56" fill="#000"/>
<line x1="369.10" y1="369.84" x2="369.10" y2="365.93" stroke="#111" stroke-width="2.1"/>
<line x1="362.70" y1="365.93" x2="375.50" y2="365.93" stroke="#111" stroke-width="2.1"/>
<rect x="394.80" y="409.02" width="29.00" height="22.38" fill="#b0b0b2"/>
<line x1="409.20" y1="409.02" x2="409.20" y2="405.66" stroke="#111" stroke-width="2.1"/>
<line x1="402.80" y1="405.66" x2="415.60" y2="405.66" stroke="#111" stroke-width="2.1"/>
<rect x="435.00" y="431.40" width="28.60" height="37.07" fill="#8a8a8a"/>
<line x1="449.20" y1="468.47" x2="449.20" y2="470.99" stroke="#111" stroke-width="2.1"/>
<line x1="442.30" y1="470.99" x2="456.10" y2="470.99" stroke="#111" stroke-width="2.1"/>
<text x="368.4" y="362.8" font-size="16" font-weight="normal" text-anchor="middle" fill="#111">*</text>
<text x="407.4" y="404.5" font-size="16" font-weight="normal" text-anchor="middle" fill="#111">*</text>
<text x="449.3" y="491.5" font-size="16" font-weight="normal" text-anchor="middle" fill="#111">*</text>
<text transform="translate(318.6,423.9) rotate(-90)" font-size="12.6" font-weight="normal" text-anchor="middle" fill="#111" stroke="#111" stroke-width="0.45">Normalized Change</text>
<text transform="translate(378.5,441.5) rotate(-45)" font-size="11" font-weight="bold" text-anchor="end" fill="#111">5-HT</text>
<text transform="translate(394.5,481.5) rotate(-45)" x="0" y="-13.2" font-size="11" font-weight="bold" text-anchor="middle" fill="#111">m-Chlorophenyl-</text>
<text transform="translate(394.5,481.5) rotate(-45)" x="0" y="0.0" font-size="11" font-weight="bold" text-anchor="middle" fill="#111">biguanide</text>
<text transform="translate(394.5,481.5) rotate(-45)" x="0" y="13.2" font-size="11" font-weight="bold" text-anchor="middle" fill="#111">hydrochloride</text>
<text transform="translate(448.5,427.3) rotate(-45)" font-size="11" font-weight="bold" text-anchor="start" fill="#111">Zacopride</text>
<text x="499.0" y="364.2" font-size="14" font-weight="bold" text-anchor="start" fill="#111">I</text>
<line x1="549.10" y1="363.60" x2="549.10" y2="473.70" stroke="#111" stroke-width="1.3"/>
<line x1="545.60" y1="473.10" x2="549.10" y2="473.10" stroke="#111" stroke-width="1.3"/>
<text x="543.0" y="476.7" font-size="10" font-weight="bold" text-anchor="end" fill="#111">0</text>
<line x1="545.60" y1="436.80" x2="549.10" y2="436.80" stroke="#111" stroke-width="1.3"/>
<text x="543.0" y="440.4" font-size="10" font-weight="bold" text-anchor="end" fill="#111">20</text>
<line x1="545.60" y1="400.50" x2="549.10" y2="400.50" stroke="#111" stroke-width="1.3"/>
<text x="543.0" y="404.1" font-size="10" font-weight="bold" text-anchor="end" fill="#111">40</text>
<line x1="545.60" y1="364.20" x2="549.10" y2="364.20" stroke="#111" stroke-width="1.3"/>
<text x="543.0" y="367.8" font-size="10" font-weight="bold" text-anchor="end" fill="#111">60</text>
<line x1="548.50" y1="473.10" x2="666.00" y2="473.10" stroke="#111" stroke-width="1.3"/>
<line x1="568.60" y1="473.10" x2="568.60" y2="476.60" stroke="#111" stroke-width="1.3"/>
<line x1="607.70" y1="473.10" x2="607.70" y2="476.60" stroke="#111" stroke-width="1.3"/>
<line x1="646.90" y1="473.10" x2="646.90" y2="476.60" stroke="#111" stroke-width="1.3"/>
<rect x="594.00" y="385.44" width="27.50" height="87.66" fill="#a6a6aa"/>
<line x1="607.70" y1="385.44" x2="607.70" y2="383.98" stroke="#111" stroke-width="2.1"/>
<line x1="601.50" y1="383.98" x2="613.90" y2="383.98" stroke="#111" stroke-width="2.1"/>
<rect x="633.10" y="470.56" width="27.50" height="2.54" fill="#a6a6aa"/>
<line x1="646.60" y1="470.56" x2="646.60" y2="468.02" stroke="#111" stroke-width="2.1"/>
<line x1="640.20" y1="468.02" x2="653.00" y2="468.02" stroke="#111" stroke-width="2.1"/>
<path d="M566.70,447.20 L566.70,358.40 L602.00,358.40 L602.00,372.70" fill="none" stroke="#444" stroke-width="1.0" stroke-linejoin="round" stroke-linecap="butt"/>
<path d="M609.30,372.70 L609.30,358.40 L644.60,358.40 L644.60,447.20" fill="none" stroke="#444" stroke-width="1.0" stroke-linejoin="round" stroke-linecap="butt"/>
<text x="588.3" y="355.8" font-size="9.5" font-weight="bold" text-anchor="middle" fill="#111">#</text>
<text x="628.2" y="355.8" font-size="9.5" font-weight="bold" text-anchor="middle" fill="#111">#</text>
<text transform="translate(524.6,418.0) rotate(-90)" font-size="13.1" font-weight="normal" text-anchor="middle" fill="#111" stroke="#111" stroke-width="0.45">Inhibition Rate (%)</text>
<text transform="translate(570.1,485.5) rotate(-45)" font-size="11" font-weight="bold" text-anchor="end" fill="#111">Control</text>
<text transform="translate(609.2,485.5) rotate(-45)" font-size="11" font-weight="bold" text-anchor="end" fill="#111">5-HT</text>
<text transform="translate(648.4,485.5) rotate(-45)" font-size="11" font-weight="bold" text-anchor="end" fill="#111">3-AQC</text>
<text x="5.3" y="524.5" font-size="14" font-weight="bold" text-anchor="start" fill="#111">H</text>
<text x="34.2" y="539.2" font-size="11.5" font-weight="bold" text-anchor="start" fill="#111">Control</text>
<text x="40.8" y="594.6" font-size="11.5" font-weight="bold" text-anchor="start" fill="#111">5-HT</text>
<text x="35.7" y="672.5" font-size="11.5" font-weight="bold" text-anchor="start" fill="#111">3-AQC</text>
<text x="89.8" y="538.8" font-size="11.5" font-weight="normal" text-anchor="start" fill="#111">c</text>
<text x="89.8" y="571.4" font-size="11.5" font-weight="normal" text-anchor="start" fill="#111">c</text>
<text x="89.8" y="647.3" font-size="11.5" font-weight="normal" text-anchor="start" fill="#111">c</text>
<text x="89.6" y="614.7" font-size="11.5" font-weight="normal" text-anchor="start" fill="#111">o</text>
<text x="89.6" y="701.0" font-size="11.5" font-weight="normal" text-anchor="start" fill="#111">o</text>
<line x1="105.50" y1="532.60" x2="596.50" y2="532.60" stroke="#111" stroke-width="1.5"/>
<line x1="105.30" y1="567.00" x2="590.30" y2="567.00" stroke="#111" stroke-width="1.8"/>
<line x1="105.90" y1="643.30" x2="590.20" y2="643.30" stroke="#111" stroke-width="1.8"/>
<line x1="106.30" y1="611.80" x2="591.80" y2="611.80" stroke="#111" stroke-width="1.8" stroke-dasharray="6.0 5.8"/>
<line x1="106.30" y1="697.60" x2="590.80" y2="697.60" stroke="#111" stroke-width="1.8" stroke-dasharray="6.0 5.8"/>
<path d="M619.20,654.40 L619.20,684.40 L653.10,684.40" fill="none" stroke="#111" stroke-width="1.8" stroke-linejoin="round" stroke-linecap="butt"/>
<text x="625.8" y="665.6" font-size="9.5" font-weight="bold" text-anchor="start" fill="#111">1 pA</text>
<text x="625.2" y="696.2" font-size="9.2" font-weight="bold" text-anchor="start" fill="#111">0.1 s</text>
<path d="M105.50,534.85 L105.72,534.27 L105.94,536.03 L106.16,533.38 L106.38,536.50 L106.60,537.01 L106.82,533.25 L107.04,535.86 L107.26,540.28 L107.48,536.18 L107.70,532.98 L107.92,534.73 L108.14,534.95 L108.36,536.09 L108.58,536.72 L108.80,534.06 L109.02,535.39 L109.24,534.60 L109.46,535.89 L109.68,534.03 L109.90,538.93 L110.12,535.98 L110.34,536.78 L110.56,534.43 L110.78,534.12 L111.00,536.55 L111.22,539.86 L111.44,538.34 L111.66,536.43 L111.88,538.34 L112.10,538.15 L112.32,535.64 L112.54,534.04 L112.76,535.86 L112.98,534.23 L113.20,535.08 L113.42,533.05 L113.64,531.50 L113.86,533.84 L114.08,540.09 L114.30,537.63 L114.52,532.84 L114.74,537.79 L114.96,537.51 L115.18,533.99 L115.40,535.25 L115.62,534.99 L115.84,536.17 L116.06,536.88 L116.28,531.45 L116.50,539.00 L116.72,535.76 L116.94,533.55 L117.16,533.50 L117.38,531.65 L117.60,531.29 L117.82,535.47 L118.04,532.30 L118.26,532.27 L118.48,535.36 L118.70,535.52 L118.92,532.73 L119.14,532.31 L119.36,534.10 L119.58,535.65 L119.80,537.97 L120.02,531.88 L120.24,534.96 L120.46,535.94 L120.68,533.01 L120.90,536.77 L121.12,535.22 L121.34,532.97 L121.56,535.03 L121.78,531.56 L122.00,534.37 L122.22,534.97 L122.44,535.41 L122.66,537.05 L122.88,538.66 L123.10,535.17 L123.32,539.61 L123.54,534.31 L123.76,535.24 L123.98,532.60 L124.20,531.02 L124.42,532.62 L124.64,534.07 L124.86,532.75 L125.08,535.92 L125.30,531.29 L125.52,531.59 L125.74,533.04 L125.96,534.51 L126.18,535.18 L126.40,531.62 L126.62,532.83 L126.84,531.77 L127.06,538.09 L127.28,534.47 L127.50,538.01 L127.72,534.98 L127.94,532.87 L128.16,535.11 L128.38,533.55 L128.60,533.69 L128.82,533.79 L129.04,531.61 L129.26,533.80 L129.48,533.56 L129.70,531.94 L129.92,532.86 L130.14,531.11 L130.36,531.12 L130.58,533.84 L130.80,538.78 L131.02,533.45 L131.24,532.55 L131.46,534.78 L131.68,533.62 L131.90,534.68 L132.12,531.29 L132.34,535.79 L132.56,534.44 L132.78,535.24 L133.00,533.44 L133.22,534.17 L133.44,536.54 L133.66,537.23 L133.88,536.13 L134.10,535.95 L134.32,532.93 L134.54,531.80 L134.76,531.09 L134.98,535.46 L135.20,540.65 L135.42,535.53 L135.64,535.34 L135.86,535.50 L136.08,537.79 L136.30,531.61 L136.52,535.25 L136.74,533.33 L136.96,537.67 L137.18,533.07 L137.40,534.63 L137.62,534.17 L137.84,536.92 L138.06,533.61 L138.28,534.59 L138.50,535.53 L138.72,537.19 L138.94,535.78 L139.16,534.98 L139.38,532.48 L139.60,533.51 L139.82,533.68 L140.04,537.81 L140.26,531.10 L140.48,532.43 L140.70,531.68 L140.92,534.02 L141.14,534.69 L141.36,532.39 L141.58,533.92 L141.80,532.59 L142.02,538.33 L142.24,531.27 L142.46,534.32 L142.68,535.83 L142.90,535.83 L143.12,538.13 L143.34,533.12 L143.56,533.89 L143.78,535.57 L144.00,536.40 L144.22,535.16 L144.44,534.44 L144.66,535.49 L144.88,535.37 L145.10,533.49 L145.32,534.36 L145.54,534.60 L145.76,536.22 L145.98,536.53 L146.20,537.25 L146.42,535.17 L146.64,533.06 L146.86,533.81 L147.08,532.32 L147.30,533.14 L147.52,532.65 L147.74,531.07 L147.96,531.73 L148.18,531.27 L148.40,531.20 L148.62,531.15 L148.84,533.80 L149.06,531.50 L149.28,531.50 L149.50,533.13 L149.72,534.01 L149.94,534.63 L150.16,533.29 L150.38,531.35 L150.60,534.70 L150.82,535.52 L151.04,533.77 L151.26,531.05 L151.48,533.61 L151.70,534.71 L151.92,534.79 L152.14,532.37 L152.36,536.09 L152.58,535.60 L152.80,532.95 L153.02,535.16 L153.24,535.60 L153.46,533.34 L153.68,536.61 L153.90,536.69 L154.12,533.40 L154.34,536.05 L154.56,536.31 L154.78,534.02 L155.00,535.89 L155.22,535.20 L155.44,532.43 L155.66,533.95 L155.88,537.16 L156.10,533.53 L156.32,531.20 L156.54,532.41 L156.76,535.40 L156.98,535.74 L157.20,531.85 L157.42,537.59 L157.64,532.82 L157.86,534.59 L158.08,533.86 L158.30,533.90 L158.52,531.42 L158.74,531.60 L158.96,532.87 L159.18,532.90 L159.40,537.38 L159.62,535.60 L159.84,535.23 L160.06,535.40 L160.28,531.95 L160.50,535.58 L160.72,534.62 L160.94,536.11 L161.16,532.45 L161.38,536.25 L161.60,533.34 L161.82,533.15 L162.04,532.98 L162.26,533.31 L162.48,535.22 L162.70,533.08 L162.92,534.32 L163.14,536.64 L163.36,536.25 L163.58,533.18 L163.80,535.05 L164.02,533.12 L164.24,535.67 L164.46,533.48 L164.68,531.29 L164.90,536.87 L165.12,533.95 L165.34,531.36 L165.56,531.61 L165.78,535.92 L166.00,533.14 L166.22,532.62 L166.44,535.00 L166.66,532.60 L166.88,535.68 L167.10,534.51 L167.32,535.63 L167.54,537.75 L167.76,536.80 L167.98,538.78 L168.20,537.47 L168.42,537.11 L168.64,536.68 L168.86,538.79 L169.08,533.30 L169.30,535.57 L169.52,532.20 L169.74,536.16 L169.96,535.13 L170.18,536.00 L170.40,534.11 L170.62,532.17 L170.84,535.44 L171.06,534.93 L171.28,534.99 L171.50,535.01 L171.72,537.07 L171.94,536.05 L172.16,532.58 L172.38,531.01 L172.60,536.26 L172.82,531.91 L173.04,531.06 L173.26,533.86 L173.48,535.61 L173.70,533.28 L173.92,536.07 L174.14,534.56 L174.36,533.66 L174.58,538.17 L174.80,532.25 L175.02,533.29 L175.24,536.99 L175.46,536.89 L175.68,535.23 L175.90,534.46 L176.12,532.49 L176.34,535.33 L176.56,534.53 L176.78,533.69 L177.00,536.49 L177.22,533.76 L177.44,538.33 L177.66,534.72 L177.88,531.36 L178.10,533.61 L178.32,532.00 L178.54,531.30 L178.76,532.38 L178.98,533.37 L179.20,531.75 L179.42,532.04 L179.64,534.24 L179.86,533.54 L180.08,531.46 L180.30,535.21 L180.52,535.97 L180.74,531.06 L180.96,532.94 L181.18,531.91 L181.40,532.76 L181.62,533.74 L181.84,535.27 L182.06,532.32 L182.28,535.95 L182.50,535.61 L182.72,534.06 L182.94,534.06 L183.16,532.79 L183.38,533.32 L183.60,538.35 L183.82,537.61 L184.04,534.81 L184.26,533.55 L184.48,533.35 L184.70,531.07 L184.92,535.85 L185.14,533.96 L185.36,537.76 L185.58,536.61 L185.80,533.78 L186.02,533.77 L186.24,534.22 L186.46,535.21 L186.68,535.56 L186.90,538.09 L187.12,537.64 L187.34,536.83 L187.56,535.60 L187.78,533.58 L188.00,535.05 L188.22,533.46 L188.44,532.75 L188.66,532.89 L188.88,534.96 L189.10,537.59 L189.32,535.96 L189.54,533.59 L189.76,537.25 L189.98,535.88 L190.20,533.03 L190.42,534.95 L190.64,535.09 L190.86,533.72 L191.08,533.07 L191.30,535.09 L191.52,534.84 L191.74,533.95 L191.96,536.53 L192.18,535.81 L192.40,532.27 L192.62,535.62 L192.84,534.70 L193.06,531.70 L193.28,537.81 L193.50,533.82 L193.72,536.16 L193.94,536.80 L194.16,534.11 L194.38,534.65 L194.60,534.63 L194.82,538.65 L195.04,535.05 L195.26,531.83 L195.48,534.14 L195.70,534.08 L195.92,537.15 L196.14,534.91 L196.36,537.23 L196.58,536.01 L196.80,533.42 L197.02,536.07 L197.24,535.16 L197.46,536.56 L197.68,533.30 L197.90,538.63 L198.12,532.28 L198.34,535.60 L198.56,537.81 L198.78,533.71 L199.00,536.36 L199.22,540.62 L199.44,536.25 L199.66,533.74 L199.88,534.06 L200.10,537.59 L200.32,536.61 L200.54,535.80 L200.76,534.42 L200.98,532.44 L201.20,536.25 L201.42,536.58 L201.64,533.63 L201.86,533.96 L202.08,534.84 L202.30,536.13 L202.52,536.03 L202.74,537.07 L202.96,535.92 L203.18,537.17 L203.40,536.92 L203.62,535.06 L203.84,535.67 L204.06,534.93 L204.28,535.18 L204.50,534.09 L204.72,536.67 L204.94,534.62 L205.16,534.52 L205.38,533.98 L205.60,538.42 L205.82,539.54 L206.04,534.11 L206.26,534.27 L206.48,537.20 L206.70,534.97 L206.92,537.04 L207.14,533.69 L207.36,531.11 L207.58,537.54 L207.80,531.65 L208.02,534.27 L208.24,533.24 L208.46,535.56 L208.68,533.96 L208.90,535.18 L209.12,534.77 L209.34,536.46 L209.56,535.11 L209.78,537.67 L210.00,535.30 L210.22,533.20 L210.44,537.74 L210.66,537.18 L210.88,532.72 L211.10,532.21 L211.32,533.80 L211.54,533.41 L211.76,535.22 L211.98,534.98 L212.20,535.91 L212.42,533.43 L212.64,534.60 L212.86,538.11 L213.08,540.16 L213.30,535.19 L213.52,531.91 L213.74,536.31 L213.96,534.86 L214.18,533.50 L214.40,535.28 L214.62,536.60 L214.84,534.82 L215.06,536.79 L215.28,536.89 L215.50,535.40 L215.72,534.06 L215.94,537.04 L216.16,538.76 L216.38,536.36 L216.60,535.90 L216.82,533.83 L217.04,531.21 L217.26,533.25 L217.48,536.03 L217.70,536.78 L217.92,540.36 L218.14,535.59 L218.36,532.81 L218.58,537.07 L218.80,531.51 L219.02,534.93 L219.24,543.07 L219.46,537.13 L219.68,532.20 L219.90,533.41 L220.12,534.05 L220.34,537.16 L220.56,532.33 L220.78,535.43 L221.00,539.49 L221.22,535.11 L221.44,534.11 L221.66,536.95 L221.88,534.49 L222.10,536.51 L222.32,536.11 L222.54,534.57 L222.76,538.62 L222.98,532.86 L223.20,536.75 L223.42,532.67 L223.64,534.13 L223.86,532.53 L224.08,534.95 L224.30,532.38 L224.52,534.84 L224.74,532.63 L224.96,535.91 L225.18,532.72 L225.40,534.54 L225.62,539.30 L225.84,538.81 L226.06,534.62 L226.28,534.25 L226.50,532.97 L226.72,533.28 L226.94,534.34 L227.16,534.53 L227.38,533.10 L227.60,531.93 L227.82,533.31 L228.04,536.10 L228.26,535.38 L228.48,534.27 L228.70,536.74 L228.92,534.21 L229.14,537.18 L229.36,533.51 L229.58,534.76 L229.80,536.75 L230.02,532.34 L230.24,536.44 L230.46,535.23 L230.68,533.25 L230.90,534.80 L231.12,535.87 L231.34,536.99 L231.56,533.41 L231.78,534.02 L232.00,532.90 L232.22,537.62 L232.44,532.29 L232.66,534.04 L232.88,533.27 L233.10,534.92 L233.32,534.10 L233.54,533.22 L233.76,537.75 L233.98,535.40 L234.20,532.95 L234.42,537.71 L234.64,536.48 L234.86,533.50 L235.08,534.86 L235.30,534.95 L235.52,536.86 L235.74,534.46 L235.96,536.84 L236.18,532.29 L236.40,534.49 L236.62,539.67 L236.84,534.95 L237.06,533.50 L237.28,531.97 L237.50,537.33 L237.72,533.23 L237.94,535.22 L238.16,534.66 L238.38,533.95 L238.60,533.06 L238.82,536.51 L239.04,536.33 L239.26,533.85 L239.48,535.78 L239.70,534.20 L239.92,537.56 L240.14,535.35 L240.36,532.78 L240.58,535.15 L240.80,532.55 L241.02,539.57 L241.24,539.48 L241.46,534.59 L241.68,535.90 L241.90,534.66 L242.12,531.86 L242.34,533.66 L242.56,535.25 L242.78,536.05 L243.00,534.27 L243.22,534.15 L243.44,535.27 L243.66,535.00 L243.88,535.20 L244.10,537.17 L244.32,534.70 L244.54,535.17 L244.76,536.52 L244.98,536.88 L245.20,536.32 L245.42,533.82 L245.64,535.85 L245.86,535.43 L246.08,536.43 L246.30,534.18 L246.52,537.30 L246.74,533.74 L246.96,535.48 L247.18,538.83 L247.40,536.96 L247.62,535.94 L247.84,534.37 L248.06,535.26 L248.28,534.48 L248.50,536.34 L248.72,536.54 L248.94,533.88 L249.16,538.02 L249.38,533.57 L249.60,532.77 L249.82,535.77 L250.04,535.50 L250.26,533.29 L250.48,532.52 L250.70,535.78 L250.92,534.57 L251.14,532.23 L251.36,531.38 L251.58,531.72 L251.80,535.14 L252.02,535.74 L252.24,533.66 L252.46,534.76 L252.68,531.07 L252.90,532.07 L253.12,536.35 L253.34,540.61 L253.56,532.03 L253.78,537.24 L254.00,533.02 L254.22,535.09 L254.44,533.27 L254.66,531.36 L254.88,531.69 L255.10,531.89 L255.32,532.04 L255.54,534.27 L255.76,535.30 L255.98,533.90 L256.20,535.89 L256.42,537.24 L256.64,532.49 L256.86,532.92 L257.08,532.27 L257.30,533.38 L257.52,536.11 L257.74,531.60 L257.96,533.16 L258.18,533.80 L258.40,533.47 L258.62,535.86 L258.84,534.67 L259.06,536.25 L259.28,536.06 L259.50,532.00 L259.72,534.95 L259.94,537.19 L260.16,534.89 L260.38,535.54 L260.60,534.26 L260.82,533.58 L261.04,536.14 L261.26,534.01 L261.48,535.38 L261.70,533.19 L261.92,531.31 L262.14,535.01 L262.36,533.27 L262.58,531.87 L262.80,532.33 L263.02,534.01 L263.24,534.20 L263.46,540.28 L263.68,536.90 L263.90,536.57 L264.12,538.06 L264.34,535.65 L264.56,533.03 L264.78,533.30 L265.00,538.13 L265.22,536.01 L265.44,531.76 L265.66,534.13 L265.88,535.61 L266.10,534.60 L266.32,532.69 L266.54,538.30 L266.76,538.16 L266.98,537.61 L267.20,538.55 L267.42,534.92 L267.64,535.58 L267.86,534.39 L268.08,535.08 L268.30,535.23 L268.52,531.86 L268.74,534.89 L268.96,536.61 L269.18,536.23 L269.40,536.37 L269.62,537.61 L269.84,534.13 L270.06,535.20 L270.28,536.35 L270.50,534.92 L270.72,537.59 L270.94,531.05 L271.16,532.95 L271.38,539.34 L271.60,536.29 L271.82,536.24 L272.04,537.17 L272.26,533.74 L272.48,538.59 L272.70,535.97 L272.92,536.73 L273.14,536.58 L273.36,533.77 L273.58,534.76 L273.80,538.67 L274.02,533.92 L274.24,534.78 L274.46,533.55 L274.68,538.94 L274.90,537.23 L275.12,534.40 L275.34,538.11 L275.56,537.04 L275.78,534.73 L276.00,534.35 L276.22,535.95 L276.44,532.92 L276.66,532.97 L276.88,533.91 L277.10,533.71 L277.32,537.59 L277.54,535.16 L277.76,531.72 L277.98,533.63 L278.20,531.62 L278.42,538.02 L278.64,542.62 L278.86,537.32 L279.08,533.13 L279.30,536.80 L279.52,535.93 L279.74,538.92 L279.96,536.45 L280.18,535.84 L280.40,533.21 L280.62,533.59 L280.84,535.07 L281.06,535.30 L281.28,537.76 L281.50,532.93 L281.72,536.04 L281.94,531.21 L282.16,533.48 L282.38,534.89 L282.60,533.98 L282.82,539.38 L283.04,534.20 L283.26,535.84 L283.48,536.26 L283.70,535.50 L283.92,534.59 L284.14,535.83 L284.36,534.99 L284.58,532.13 L284.80,531.08 L285.02,536.64 L285.24,533.99 L285.46,534.78 L285.68,537.20 L285.90,536.92 L286.12,532.16 L286.34,535.71 L286.56,534.15 L286.78,537.24 L287.00,536.12 L287.22,532.90 L287.44,532.25 L287.66,533.56 L287.88,534.48 L288.10,535.42 L288.32,533.83 L288.54,533.73 L288.76,535.82 L288.98,533.43 L289.20,536.64 L289.42,531.83 L289.64,535.76 L289.86,536.46 L290.08,536.92 L290.30,533.96 L290.52,535.64 L290.74,531.41 L290.96,531.80 L291.18,533.11 L291.40,534.56 L291.62,531.47 L291.84,539.11 L292.06,532.23 L292.28,535.56 L292.50,537.87 L292.72,531.94 L292.94,534.86 L293.16,531.23 L293.38,536.42 L293.60,531.26 L293.82,531.40 L294.04,532.95 L294.26,532.74 L294.48,531.48 L294.70,535.93 L294.92,535.19 L295.14,531.29 L295.36,532.38 L295.58,534.00 L295.80,531.48 L296.02,534.96 L296.24,534.01 L296.46,535.26 L296.68,533.76 L296.90,534.97 L297.12,533.04 L297.34,534.03 L297.56,533.65 L297.78,532.96 L298.00,536.59 L298.22,535.17 L298.44,531.55 L298.66,535.94 L298.88,533.53 L299.10,534.79 L299.32,532.41 L299.54,532.25 L299.76,532.82 L299.98,536.74 L300.20,533.32 L300.42,532.91 L300.64,534.43 L300.86,531.36 L301.08,533.86 L301.30,535.15 L301.52,532.34 L301.74,536.04 L301.96,534.76 L302.18,534.12 L302.40,532.87 L302.62,532.30 L302.84,537.23 L303.06,531.63 L303.28,533.21 L303.50,532.91 L303.72,531.87 L303.94,533.12 L304.16,534.18 L304.38,534.74 L304.60,531.63 L304.82,532.04 L305.04,532.19 L305.26,532.39 L305.48,538.95 L305.70,533.76 L305.92,532.34 L306.14,533.13 L306.36,534.55 L306.58,531.16 L306.80,531.42 L307.02,534.74 L307.24,531.89 L307.46,532.42 L307.68,532.74 L307.90,531.98 L308.12,531.58 L308.34,532.89 L308.56,536.57 L308.78,537.19 L309.00,537.11 L309.22,533.66 L309.44,536.41 L309.66,531.01 L309.88,534.11 L310.10,532.48 L310.32,535.90 L310.54,535.50 L310.76,533.45 L310.98,535.60 L311.20,531.96 L311.42,532.43 L311.64,533.70 L311.86,534.92 L312.08,535.44 L312.30,535.35 L312.52,534.08 L312.74,534.06 L312.96,535.29 L313.18,539.06 L313.40,534.81 L313.62,531.10 L313.84,535.88 L314.06,539.89 L314.28,535.23 L314.50,532.96 L314.72,535.30 L314.94,535.93 L315.16,534.08 L315.38,534.17 L315.60,533.29 L315.82,534.21 L316.04,540.47 L316.26,533.08 L316.48,533.90 L316.70,532.52 L316.92,534.04 L317.14,537.08 L317.36,531.45 L317.58,535.70 L317.80,537.63 L318.02,533.33 L318.24,534.34 L318.46,532.00 L318.68,531.80 L318.90,536.44 L319.12,534.46 L319.34,536.55 L319.56,536.92 L319.78,535.20 L320.00,534.07 L320.22,537.42 L320.44,538.18 L320.66,540.45 L320.88,536.58 L321.10,535.13 L321.32,534.37 L321.54,535.76 L321.76,534.91 L321.98,531.55 L322.20,536.88 L322.42,537.27 L322.64,531.51 L322.86,534.59 L323.08,532.14 L323.30,533.42 L323.52,534.40 L323.74,535.11 L323.96,534.52 L324.18,533.36 L324.40,531.99 L324.62,533.32 L324.84,531.82 L325.06,531.39 L325.28,534.51 L325.50,532.78 L325.72,534.63 L325.94,532.06 L326.16,535.77 L326.38,532.34 L326.60,533.93 L326.82,538.55 L327.04,533.44 L327.26,534.12 L327.48,531.11 L327.70,534.67 L327.92,533.45 L328.14,533.24 L328.36,531.83 L328.58,532.60 L328.80,533.36 L329.02,534.56 L329.24,534.18 L329.46,533.92 L329.68,533.90 L329.90,533.48 L330.12,535.97 L330.34,532.31 L330.56,536.74 L330.78,533.70 L331.00,536.27 L331.22,533.68 L331.44,535.60 L331.66,533.00 L331.88,531.70 L332.10,535.11 L332.32,532.89 L332.54,535.82 L332.76,534.61 L332.98,532.50 L333.20,532.42 L333.42,534.84 L333.64,536.19 L333.86,533.31 L334.08,532.35 L334.30,533.68 L334.52,536.66 L334.74,531.41 L334.96,535.71 L335.18,531.67 L335.40,537.59 L335.62,533.62 L335.84,536.28 L336.06,541.51 L336.28,533.31 L336.50,535.39 L336.72,534.63 L336.94,536.90 L337.16,537.82 L337.38,532.98 L337.60,537.44 L337.82,534.62 L338.04,535.27 L338.26,532.23 L338.48,531.53 L338.70,531.62 L338.92,533.59 L339.14,531.20 L339.36,531.08 L339.58,534.67 L339.80,534.16 L340.02,534.62 L340.24,532.63 L340.46,534.18 L340.68,536.97 L340.90,537.87 L341.12,533.00 L341.34,536.64 L341.56,533.87 L341.78,536.87 L342.00,535.89 L342.22,536.24 L342.44,535.48 L342.66,532.02 L342.88,536.65 L343.10,534.07 L343.32,537.65 L343.54,533.62 L343.76,536.20 L343.98,536.53 L344.20,533.41 L344.42,535.43 L344.64,535.25 L344.86,536.05 L345.08,534.76 L345.30,535.32 L345.52,533.12 L345.74,534.85 L345.96,537.59 L346.18,535.49 L346.40,532.02 L346.62,535.10 L346.84,533.32 L347.06,533.90 L347.28,534.81 L347.50,538.46 L347.72,537.00 L347.94,533.90 L348.16,533.63 L348.38,536.57 L348.60,534.65 L348.82,536.23 L349.04,536.50 L349.26,536.25 L349.48,536.56 L349.70,535.94 L349.92,535.31 L350.14,535.91 L350.36,535.70 L350.58,536.50 L350.80,538.56 L351.02,533.27 L351.24,537.59 L351.46,531.92 L351.68,532.41 L351.90,534.09 L352.12,531.65 L352.34,532.36 L352.56,534.61 L352.78,537.38 L353.00,533.75 L353.22,533.81 L353.44,533.60 L353.66,531.46 L353.88,534.55 L354.10,533.25 L354.32,533.78 L354.54,534.57 L354.76,533.72 L354.98,536.72 L355.20,535.54 L355.42,534.53 L355.64,532.73 L355.86,535.76 L356.08,532.22 L356.30,536.69 L356.52,537.47 L356.74,535.23 L356.96,531.29 L357.18,538.54 L357.40,533.53 L357.62,533.34 L357.84,534.46 L358.06,533.95 L358.28,536.03 L358.50,534.25 L358.72,533.08 L358.94,537.50 L359.16,535.63 L359.38,533.82 L359.60,536.02 L359.82,533.33 L360.04,535.00 L360.26,532.12 L360.48,537.25 L360.70,538.05 L360.92,536.36 L361.14,535.96 L361.36,534.20 L361.58,532.25 L361.80,535.26 L362.02,533.45 L362.24,533.05 L362.46,531.23 L362.68,538.88 L362.90,531.91 L363.12,534.76 L363.34,531.39 L363.56,531.86 L363.78,534.54 L364.00,534.16 L364.22,534.36 L364.44,533.65 L364.66,534.85 L364.88,535.27 L365.10,533.90 L365.32,534.43 L365.54,533.50 L365.76,533.94 L365.98,535.17 L366.20,531.92 L366.42,532.12 L366.64,534.69 L366.86,531.31 L367.08,537.12 L367.30,534.37 L367.52,534.56 L367.74,535.00 L367.96,535.80 L368.18,533.32 L368.40,532.13 L368.62,534.74 L368.84,536.98 L369.06,538.85 L369.28,538.25 L369.50,537.96 L369.72,540.13 L369.94,536.80 L370.16,535.22 L370.38,534.25 L370.60,534.47 L370.82,536.69 L371.04,537.32 L371.26,534.89 L371.48,531.65 L371.70,535.37 L371.92,532.93 L372.14,535.74 L372.36,534.90 L372.58,535.09 L372.80,537.14 L373.02,534.43 L373.24,533.88 L373.46,537.10 L373.68,533.03 L373.90,534.33 L374.12,534.83 L374.34,534.70 L374.56,536.68 L374.78,536.71 L375.00,536.32 L375.22,536.86 L375.44,536.08 L375.66,533.78 L375.88,534.81 L376.10,533.73 L376.32,533.11 L376.54,534.23 L376.76,536.05 L376.98,535.03 L377.20,532.13 L377.42,535.20 L377.64,537.40 L377.86,537.55 L378.08,535.75 L378.30,536.37 L378.52,532.61 L378.74,536.45 L378.96,535.16 L379.18,531.84 L379.40,533.57 L379.62,534.19 L379.84,536.91 L380.06,535.88 L380.28,532.96 L380.50,534.14 L380.72,536.13 L380.94,536.13 L381.16,536.15 L381.38,537.47 L381.60,532.80 L381.82,536.26 L382.04,534.79 L382.26,535.52 L382.48,536.51 L382.70,533.54 L382.92,535.07 L383.14,533.57 L383.36,534.99 L383.58,536.17 L383.80,533.72 L384.02,533.49 L384.24,537.52 L384.46,531.14 L384.68,535.24 L384.90,531.77 L385.12,536.74 L385.34,532.98 L385.56,531.18 L385.78,533.89 L386.00,533.15 L386.22,535.48 L386.44,537.17 L386.66,533.83 L386.88,534.41 L387.10,535.85 L387.32,534.01 L387.54,536.84 L387.76,531.93 L387.98,535.15 L388.20,535.50 L388.42,533.40 L388.64,531.50 L388.86,534.61 L389.08,531.57 L389.30,533.08 L389.52,537.24 L389.74,535.89 L389.96,535.20 L390.18,537.03 L390.40,533.00 L390.62,536.29 L390.84,537.36 L391.06,534.60 L391.28,533.51 L391.50,535.64 L391.72,538.89 L391.94,533.79 L392.16,537.89 L392.38,531.17 L392.60,534.34 L392.82,531.33 L393.04,532.76 L393.26,531.27 L393.48,533.16 L393.70,533.90 L393.92,536.01 L394.14,531.74 L394.36,532.48 L394.58,532.09 L394.80,533.36 L395.02,533.90 L395.24,531.91 L395.46,531.30 L395.68,532.70 L395.90,531.77 L396.12,531.10 L396.34,534.19 L396.56,533.97 L396.78,531.32 L397.00,531.74 L397.22,532.38 L397.44,531.06 L397.66,536.64 L397.88,532.08 L398.10,532.19 L398.32,531.04 L398.54,538.73 L398.76,535.06 L398.98,535.85 L399.20,533.55 L399.42,532.96 L399.64,531.26 L399.86,532.01 L400.08,533.28 L400.30,533.20 L400.52,531.97 L400.74,534.40 L400.96,533.13 L401.18,531.01 L401.40,533.60 L401.62,533.94 L401.84,535.22 L402.06,534.28 L402.28,535.58 L402.50,534.44 L402.72,534.56 L402.94,533.44 L403.16,532.89 L403.38,534.97 L403.60,536.72 L403.82,534.28 L404.04,534.60 L404.26,534.94 L404.48,531.01 L404.70,536.25 L404.92,539.21 L405.14,533.62 L405.36,535.61 L405.58,532.46 L405.80,534.54 L406.02,534.87 L406.24,537.61 L406.46,532.49 L406.68,534.69 L406.90,535.27 L407.12,534.83 L407.34,534.09 L407.56,535.33 L407.78,533.49 L408.00,532.60 L408.22,535.57 L408.44,534.08 L408.66,532.42 L408.88,535.48 L409.10,531.05 L409.32,531.84 L409.54,535.41 L409.76,537.06 L409.98,533.11 L410.20,536.77 L410.42,535.48 L410.64,534.77 L410.86,531.21 L411.08,533.94 L411.30,532.87 L411.52,534.93 L411.74,534.04 L411.96,533.73 L412.18,531.23 L412.40,534.39 L412.62,535.00 L412.84,531.11 L413.06,536.24 L413.28,535.50 L413.50,536.57 L413.72,534.66 L413.94,532.15 L414.16,533.12 L414.38,533.62 L414.60,533.22 L414.82,533.51 L415.04,534.08 L415.26,531.06 L415.48,535.57 L415.70,535.27 L415.92,537.97 L416.14,531.75 L416.36,531.61 L416.58,532.68 L416.80,538.23 L417.02,536.75 L417.24,535.07 L417.46,534.66 L417.68,536.22 L417.90,532.52 L418.12,532.86 L418.34,533.32 L418.56,534.89 L418.78,541.45 L419.00,536.11 L419.22,533.33 L419.44,534.11 L419.66,536.76 L419.88,535.95 L420.10,535.37 L420.32,531.42 L420.54,536.24 L420.76,531.10 L420.98,534.27 L421.20,535.45 L421.42,534.93 L421.64,535.34 L421.86,535.30 L422.08,537.64 L422.30,538.49 L422.52,535.97 L422.74,534.42 L422.96,536.23 L423.18,534.80 L423.40,533.24 L423.62,532.72 L423.84,534.95 L424.06,532.54 L424.28,532.54 L424.50,534.72 L424.72,536.57 L424.94,533.45 L425.16,533.78 L425.38,533.10 L425.60,536.22 L425.82,533.84 L426.04,534.51 L426.26,536.08 L426.48,532.04 L426.70,533.96 L426.92,533.93 L427.14,536.58 L427.36,532.96 L427.58,536.32 L427.80,533.32 L428.02,535.10 L428.24,536.40 L428.46,532.59 L428.68,534.72 L428.90,535.08 L429.12,535.88 L429.34,532.42 L429.56,534.32 L429.78,534.16 L430.00,532.27 L430.22,536.92 L430.44,534.90 L430.66,538.50 L430.88,534.90 L431.10,537.71 L431.32,533.53 L431.54,537.73 L431.76,534.66 L431.98,535.99 L432.20,535.75 L432.42,532.66 L432.64,537.82 L432.86,535.15 L433.08,533.60 L433.30,533.94 L433.52,536.01 L433.74,533.24 L433.96,539.16 L434.18,535.60 L434.40,531.41 L434.62,531.44 L434.84,532.59 L435.06,535.94 L435.28,533.49 L435.50,531.26 L435.72,533.63 L435.94,534.36 L436.16,534.38 L436.38,534.35 L436.60,532.54 L436.82,532.77 L437.04,534.75 L437.26,535.27 L437.48,535.96 L437.70,532.41 L437.92,531.27 L438.14,531.87 L438.36,535.56 L438.58,535.43 L438.80,532.97 L439.02,532.51 L439.24,535.07 L439.46,538.60 L439.68,536.42 L439.90,534.32 L440.12,534.11 L440.34,536.47 L440.56,534.71 L440.78,533.67 L441.00,537.25 L441.22,533.06 L441.44,536.44 L441.66,535.81 L441.88,536.62 L442.10,538.69 L442.32,534.34 L442.54,536.26 L442.76,536.80 L442.98,536.19 L443.20,534.66 L443.42,535.61 L443.64,536.02 L443.86,534.98 L444.08,537.60 L444.30,533.52 L444.52,537.43 L444.74,534.49 L444.96,536.32 L445.18,536.49 L445.40,534.47 L445.62,538.24 L445.84,532.96 L446.06,536.86 L446.28,533.23 L446.50,536.23 L446.72,536.15 L446.94,532.69 L447.16,538.84 L447.38,537.05 L447.60,536.08 L447.82,535.53 L448.04,534.22 L448.26,537.55 L448.48,537.12 L448.70,536.57 L448.92,533.48 L449.14,532.71 L449.36,532.12 L449.58,531.11 L449.80,532.39 L450.02,534.07 L450.24,534.30 L450.46,534.24 L450.68,532.87 L450.90,534.15 L451.12,534.06 L451.34,532.25 L451.56,532.66 L451.78,533.79 L452.00,532.92 L452.22,534.58 L452.44,533.07 L452.66,532.35 L452.88,532.32 L453.10,534.79 L453.32,533.56 L453.54,533.75 L453.76,537.25 L453.98,535.48 L454.20,536.93 L454.42,535.14 L454.64,537.58 L454.86,537.82 L455.08,537.56 L455.30,536.97 L455.52,534.58 L455.74,535.94 L455.96,532.04 L456.18,537.38 L456.40,533.93 L456.62,537.34 L456.84,535.58 L457.06,535.65 L457.28,536.42 L457.50,531.65 L457.72,533.27 L457.94,532.59 L458.16,534.01 L458.38,535.87 L458.60,537.64 L458.82,535.79 L459.04,536.41 L459.26,537.30 L459.48,535.21 L459.70,535.56 L459.92,534.40 L460.14,538.06 L460.36,536.35 L460.58,533.69 L460.80,535.24 L461.02,535.88 L461.24,534.48 L461.46,535.04 L461.68,534.66 L461.90,537.73 L462.12,534.15 L462.34,536.57 L462.56,533.95 L462.78,539.40 L463.00,537.84 L463.22,536.06 L463.44,536.55 L463.66,541.06 L463.88,533.48 L464.10,535.03 L464.32,536.59 L464.54,531.70 L464.76,541.64 L464.98,536.78 L465.20,533.63 L465.42,537.70 L465.64,534.68 L465.86,535.24 L466.08,537.40 L466.30,536.27 L466.52,535.00 L466.74,533.19 L466.96,538.05 L467.18,536.30 L467.40,536.66 L467.62,533.48 L467.84,538.22 L468.06,534.39 L468.28,532.31 L468.50,533.21 L468.72,533.47 L468.94,536.87 L469.16,531.65 L469.38,534.07 L469.60,536.44 L469.82,534.16 L470.04,534.94 L470.26,533.53 L470.48,532.14 L470.70,535.43 L470.92,531.95 L471.14,531.30 L471.36,534.36 L471.58,534.98 L471.80,535.67 L472.02,534.01 L472.24,532.74 L472.46,535.55 L472.68,534.36 L472.90,534.08 L473.12,533.01 L473.34,534.88 L473.56,535.96 L473.78,536.76 L474.00,533.67 L474.22,532.92 L474.44,534.86 L474.66,535.55 L474.88,535.21 L475.10,531.26 L475.32,531.40 L475.54,535.19 L475.76,533.11 L475.98,534.66 L476.20,536.64 L476.42,533.74 L476.64,535.02 L476.86,534.10 L477.08,535.74 L477.30,531.07 L477.52,534.03 L477.74,534.64 L477.96,531.77 L478.18,531.89 L478.40,534.47 L478.62,533.98 L478.84,534.03 L479.06,533.03 L479.28,537.29 L479.50,536.07 L479.72,535.63 L479.94,534.25 L480.16,536.80 L480.38,536.05 L480.60,535.68 L480.82,538.83 L481.04,533.94 L481.26,533.94 L481.48,533.90 L481.70,536.31 L481.92,533.76 L482.14,534.37 L482.36,535.42 L482.58,539.27 L482.80,535.94 L483.02,532.38 L483.24,536.04 L483.46,532.33 L483.68,533.83 L483.90,533.53 L484.12,533.12 L484.34,536.76 L484.56,539.59 L484.78,537.16 L485.00,535.20 L485.22,539.28 L485.44,538.14 L485.66,535.39 L485.88,539.74 L486.10,535.93 L486.32,536.93 L486.54,538.35 L486.76,538.01 L486.98,536.00 L487.20,541.71 L487.42,537.17 L487.64,534.93 L487.86,537.85 L488.08,536.59 L488.30,535.76 L488.52,536.03 L488.74,533.59 L488.96,538.92 L489.18,532.00 L489.40,536.93 L489.62,534.50 L489.84,532.55 L490.06,533.72 L490.28,533.35 L490.50,539.12 L490.72,535.12 L490.94,532.38 L491.16,534.53 L491.38,534.29 L491.60,533.33 L491.82,531.52 L492.04,533.30 L492.26,532.96 L492.48,535.79 L492.70,532.03 L492.92,531.94 L493.14,532.29 L493.36,532.64 L493.58,534.58 L493.80,534.69 L494.02,531.61 L494.24,534.11 L494.46,536.14 L494.68,533.76 L494.90,531.15 L495.12,533.06 L495.34,533.88 L495.56,533.12 L495.78,532.29 L496.00,532.56 L496.22,531.98 L496.44,534.45 L496.66,531.61 L496.88,532.81 L497.10,532.01 L497.32,535.37 L497.54,534.22 L497.76,531.00 L497.98,531.57 L498.20,533.21 L498.42,532.36 L498.64,534.87 L498.86,535.56 L499.08,536.26 L499.30,533.19 L499.52,531.04 L499.74,532.33 L499.96,534.77 L500.18,533.01 L500.40,536.18 L500.62,534.20 L500.84,532.92 L501.06,537.72 L501.28,533.87 L501.50,536.67 L501.72,534.30 L501.94,537.98 L502.16,537.02 L502.38,535.80 L502.60,535.96 L502.82,536.25 L503.04,532.47 L503.26,538.25 L503.48,535.76 L503.70,537.69 L503.92,533.09 L504.14,534.12 L504.36,531.39 L504.58,535.40 L504.80,536.63 L505.02,533.26 L505.24,531.31 L505.46,531.73 L505.68,531.93 L505.90,532.58 L506.12,541.29 L506.34,536.56 L506.56,533.60 L506.78,532.86 L507.00,535.75 L507.22,533.52 L507.44,535.18 L507.66,538.16 L507.88,533.09 L508.10,534.35 L508.32,537.07 L508.54,536.70 L508.76,536.21 L508.98,532.54 L509.20,531.70 L509.42,536.17 L509.64,534.46 L509.86,537.41 L510.08,536.81 L510.30,534.90 L510.52,533.52 L510.74,535.93 L510.96,532.45 L511.18,532.59 L511.40,536.00 L511.62,533.94 L511.84,535.13 L512.06,533.28 L512.28,538.17 L512.50,533.54 L512.72,532.88 L512.94,533.93 L513.16,534.36 L513.38,534.70 L513.60,533.65 L513.82,533.81 L514.04,537.86 L514.26,536.07 L514.48,537.29 L514.70,534.35 L514.92,531.23 L515.14,532.69 L515.36,533.53 L515.58,533.93 L515.80,531.66 L516.02,531.25 L516.24,538.66 L516.46,531.22 L516.68,532.48 L516.90,533.21 L517.12,532.79 L517.34,534.78 L517.56,537.43 L517.78,539.40 L518.00,537.91 L518.22,537.48 L518.44,534.37 L518.66,533.74 L518.88,534.22 L519.10,533.40 L519.32,536.84 L519.54,536.56 L519.76,537.86 L519.98,534.53 L520.20,535.10 L520.42,533.42 L520.64,536.14 L520.86,532.80 L521.08,535.58 L521.30,532.50 L521.52,535.75 L521.74,537.91 L521.96,536.39 L522.18,533.99 L522.40,535.01 L522.62,534.24 L522.84,531.21 L523.06,536.95 L523.28,533.52 L523.50,533.28 L523.72,533.30 L523.94,533.72 L524.16,532.49 L524.38,536.48 L524.60,532.50 L524.82,535.72 L525.04,536.08 L525.26,533.85 L525.48,535.76 L525.70,536.22 L525.92,535.50 L526.14,536.90 L526.36,535.74 L526.58,531.85 L526.80,532.72 L527.02,536.19 L527.24,535.96 L527.46,534.77 L527.68,537.03 L527.90,536.10 L528.12,537.71 L528.34,536.17 L528.56,533.98 L528.78,537.50 L529.00,534.35 L529.22,538.82 L529.44,538.07 L529.66,539.41 L529.88,533.68 L530.10,536.74 L530.32,531.09 L530.54,536.97 L530.76,541.88 L530.98,536.66 L531.20,535.60 L531.42,535.98 L531.64,536.30 L531.86,531.82 L532.08,537.37 L532.30,531.68 L532.52,533.89 L532.74,533.02 L532.96,532.35 L533.18,532.53 L533.40,532.93 L533.62,531.34 L533.84,533.83 L534.06,534.80 L534.28,535.31 L534.50,537.85 L534.72,536.58 L534.94,534.51 L535.16,533.83 L535.38,532.96 L535.60,533.25 L535.82,535.20 L536.04,535.72 L536.26,534.51 L536.48,537.16 L536.70,533.57 L536.92,535.28 L537.14,536.53 L537.36,533.95 L537.58,534.18 L537.80,536.14 L538.02,534.62 L538.24,534.74 L538.46,531.05 L538.68,534.41 L538.90,534.08 L539.12,537.98 L539.34,536.53 L539.56,538.75 L539.78,533.91 L540.00,532.67 L540.22,534.16 L540.44,534.08 L540.66,536.96 L540.88,538.52 L541.10,534.59 L541.32,536.52 L541.54,535.92 L541.76,533.59 L541.98,536.96 L542.20,535.61 L542.42,537.34 L542.64,535.22 L542.86,534.65 L543.08,533.62 L543.30,535.05 L543.52,540.25 L543.74,541.92 L543.96,535.79 L544.18,532.96 L544.40,535.01 L544.62,536.11 L544.84,537.40 L545.06,538.24 L545.28,535.02 L545.50,535.19 L545.72,534.73 L545.94,533.13 L546.16,535.69 L546.38,537.34 L546.60,541.70 L546.82,532.97 L547.04,531.74 L547.26,533.69 L547.48,535.26 L547.70,531.77 L547.92,536.28 L548.14,536.70 L548.36,535.47 L548.58,534.41 L548.80,531.91 L549.02,533.16 L549.24,535.21 L549.46,531.21 L549.68,539.48 L549.90,532.60 L550.12,531.76 L550.34,534.02 L550.56,533.12 L550.78,537.50 L551.00,534.39 L551.22,533.02 L551.44,538.41 L551.66,534.50 L551.88,534.62 L552.10,538.67 L552.32,534.68 L552.54,533.44 L552.76,534.50 L552.98,532.73 L553.20,534.63 L553.42,531.80 L553.64,534.52 L553.86,531.44 L554.08,536.19 L554.30,535.38 L554.52,532.71 L554.74,532.65 L554.96,531.00 L555.18,533.82 L555.40,534.53 L555.62,534.65 L555.84,534.74 L556.06,535.14 L556.28,535.97 L556.50,535.74 L556.72,534.56 L556.94,535.17 L557.16,538.42 L557.38,534.56 L557.60,531.07 L557.82,532.34 L558.04,536.00 L558.26,533.33 L558.48,537.35 L558.70,535.56 L558.92,537.81 L559.14,537.58 L559.36,532.26 L559.58,532.70 L559.80,534.87 L560.02,538.67 L560.24,536.03 L560.46,536.81 L560.68,535.41 L560.90,532.28 L561.12,536.58 L561.34,533.84 L561.56,537.84 L561.78,535.30 L562.00,539.72 L562.22,534.95 L562.44,535.10 L562.66,533.75 L562.88,534.71 L563.10,535.40 L563.32,533.64 L563.54,534.62 L563.76,534.61 L563.98,533.97 L564.20,534.74 L564.42,534.62 L564.64,533.24 L564.86,535.93 L565.08,534.69 L565.30,535.50 L565.52,533.77 L565.74,534.21 L565.96,535.72 L566.18,538.33 L566.40,532.17 L566.62,535.72 L566.84,533.96 L567.06,535.72 L567.28,533.05 L567.50,535.18 L567.72,536.11 L567.94,532.36 L568.16,538.47 L568.38,534.34 L568.60,534.76 L568.82,535.44 L569.04,532.38 L569.26,535.40 L569.48,531.87 L569.70,533.89 L569.92,531.19 L570.14,538.18 L570.36,531.40 L570.58,535.04 L570.80,533.16 L571.02,538.81 L571.24,533.72 L571.46,534.08 L571.68,533.43 L571.90,535.36 L572.12,535.16 L572.34,537.58 L572.56,534.62 L572.78,536.26 L573.00,535.07 L573.22,537.36 L573.44,535.98 L573.66,534.92 L573.88,535.94 L574.10,534.45 L574.32,531.43 L574.54,538.94 L574.76,535.60 L574.98,537.99 L575.20,534.24 L575.42,533.79 L575.64,536.27 L575.86,535.96 L576.08,533.02 L576.30,533.57 L576.52,532.53 L576.74,537.98 L576.96,532.27 L577.18,533.87 L577.40,533.38 L577.62,534.20 L577.84,534.42 L578.06,536.51 L578.28,536.73 L578.50,536.14 L578.72,533.19 L578.94,537.30 L579.16,534.42 L579.38,535.43 L579.60,532.67 L579.82,532.77 L580.04,536.88 L580.26,536.51 L580.48,537.46 L580.70,533.51 L580.92,534.81 L581.14,534.62 L581.36,534.58 L581.58,531.60 L581.80,535.87 L582.02,536.23 L582.24,535.02 L582.46,533.54 L582.68,535.67 L582.90,535.57 L583.12,531.63 L583.34,539.49 L583.56,532.19 L583.78,540.17 L584.00,536.03 L584.22,537.88 L584.44,533.99 L584.66,534.87 L584.88,534.81 L585.10,535.75 L585.32,534.74 L585.54,532.20 L585.76,536.33 L585.98,531.20 L586.20,531.28 L586.42,534.96 L586.64,535.42 L586.86,535.04 L587.08,540.61 L587.30,535.75 L587.52,533.76 L587.74,535.83 L587.96,534.82 L588.18,535.00 L588.40,535.23 L588.62,537.82 L588.84,535.69 L589.06,535.55 L589.28,531.46 L589.50,531.87 L589.72,536.62 L589.94,533.44 L590.16,533.55 L590.38,531.15 L590.60,531.83 L590.82,531.01 L591.04,534.81 L591.26,533.55 L591.48,537.04 L591.70,534.69 L591.92,531.37 L592.14,533.69 L592.36,533.36 L592.58,534.65 L592.80,534.33 L593.02,534.17 L593.24,531.80 L593.46,536.18 L593.68,537.11 L593.90,534.11 L594.12,531.70 L594.34,536.09 L594.56,532.68 L594.78,532.07 L595.00,537.48 L595.22,531.19 L595.44,532.93 L595.66,535.47 L595.88,533.66 L596.10,531.41 L596.32,535.35 L596.54,536.31 L596.76,535.70" fill="none" stroke="#1a1a1a" stroke-width="0.7" stroke-linejoin="round" stroke-linecap="butt"/>
<rect x="167.90" y="575.00" width="5.10" height="29.00" fill="#d2d2d2"/>
<rect x="179.60" y="575.00" width="2.20" height="29.00" fill="#d2d2d2"/>
<rect x="303.60" y="575.00" width="7.40" height="29.00" fill="#d2d2d2"/>
<rect x="373.00" y="575.00" width="5.80" height="29.00" fill="#d2d2d2"/>
<rect x="381.00" y="575.00" width="5.10" height="29.00" fill="#d2d2d2"/>
<line x1="107.30" y1="583.74" x2="107.30" y2="583.69" stroke="#1a1a1a" stroke-width="0.8"/>
<line x1="110.20" y1="581.61" x2="110.20" y2="587.82" stroke="#a0a0a0" stroke-width="0.8"/>
<line x1="114.60" y1="598.51" x2="114.60" y2="597.38" stroke="#1a1a1a" stroke-width="0.8"/>
<line x1="118.20" y1="597.88" x2="118.20" y2="574.97" stroke="#a0a0a0" stroke-width="0.8"/>
<line x1="119.70" y1="569.61" x2="119.70" y2="595.80" stroke="#a0a0a0" stroke-width="0.8"/>
<line x1="121.20" y1="596.99" x2="121.20" y2="592.98" stroke="#a0a0a0" stroke-width="0.8"/>
<line x1="123.40" y1="603.88" x2="123.40" y2="574.27" stroke="#a0a0a0" stroke-width="0.8"/>
<line x1="127.00" y1="574.76" x2="127.00" y2="604.29" stroke="#a0a0a0" stroke-width="0.8"/>
<line x1="131.40" y1="601.41" x2="131.40" y2="574.94" stroke="#a0a0a0" stroke-width="0.8"/>
<line x1="135.00" y1="571.04" x2="135.00" y2="601.18" stroke="#a0a0a0" stroke-width="0.8"/>
<line x1="138.00" y1="596.86" x2="138.00" y2="572.25" stroke="#a0a0a0" stroke-width="0.8"/>
<line x1="140.10" y1="572.01" x2="140.10" y2="601.76" stroke="#a0a0a0" stroke-width="0.8"/>
<line x1="141.20" y1="597.06" x2="141.20" y2="577.09" stroke="#a0a0a0" stroke-width="0.8"/>
<line x1="154.00" y1="575.34" x2="154.00" y2="598.27" stroke="#a0a0a0" stroke-width="0.8"/>
<line x1="156.20" y1="598.33" x2="156.20" y2="576.16" stroke="#a0a0a0" stroke-width="0.8"/>
<line x1="161.30" y1="574.22" x2="161.30" y2="577.36" stroke="#a0a0a0" stroke-width="0.8"/>
<line x1="165.70" y1="598.39" x2="165.70" y2="611.58" stroke="#a0a0a0" stroke-width="0.8"/>
<line x1="168.97" y1="575.00" x2="168.97" y2="604.00" stroke="#a0a0a0" stroke-width="0.8"/>
<line x1="171.01" y1="575.00" x2="171.01" y2="604.00" stroke="#a0a0a0" stroke-width="0.8"/>
<line x1="173.68" y1="575.00" x2="173.68" y2="604.00" stroke="#a0a0a0" stroke-width="0.8"/>
<line x1="173.00" y1="575.00" x2="173.00" y2="600.50" stroke="#a0a0a0" stroke-width="0.8"/>
<line x1="175.20" y1="602.05" x2="175.20" y2="572.01" stroke="#a0a0a0" stroke-width="0.8"/>
<line x1="177.40" y1="572.96" x2="177.40" y2="603.87" stroke="#a0a0a0" stroke-width="0.8"/>
<line x1="180.52" y1="575.00" x2="180.52" y2="604.00" stroke="#a0a0a0" stroke-width="0.8"/>
<line x1="180.89" y1="575.00" x2="180.89" y2="604.00" stroke="#a0a0a0" stroke-width="0.8"/>
<line x1="181.76" y1="575.00" x2="181.76" y2="604.00" stroke="#a0a0a0" stroke-width="0.8"/>
<line x1="181.80" y1="575.00" x2="181.80" y2="598.97" stroke="#a0a0a0" stroke-width="0.8"/>
<line x1="183.90" y1="601.11" x2="183.90" y2="574.59" stroke="#a0a0a0" stroke-width="0.8"/>
<line x1="190.50" y1="573.15" x2="190.50" y2="603.95" stroke="#a0a0a0" stroke-width="0.8"/>
<line x1="193.40" y1="605.79" x2="193.40" y2="570.99" stroke="#a0a0a0" stroke-width="0.8"/>
<line x1="202.90" y1="574.19" x2="202.90" y2="609.83" stroke="#a0a0a0" stroke-width="0.8"/>
<line x1="208.00" y1="605.59" x2="208.00" y2="575.00" stroke="#a0a0a0" stroke-width="0.8"/>
<line x1="212.40" y1="576.61" x2="212.40" y2="609.28" stroke="#a0a0a0" stroke-width="0.8"/>
<line x1="214.60" y1="602.83" x2="214.60" y2="576.98" stroke="#a0a0a0" stroke-width="0.8"/>
<line x1="221.90" y1="575.41" x2="221.90" y2="604.42" stroke="#a0a0a0" stroke-width="0.8"/>
<line x1="224.10" y1="602.21" x2="224.10" y2="574.70" stroke="#a0a0a0" stroke-width="0.8"/>
<line x1="227.00" y1="575.44" x2="227.00" y2="607.33" stroke="#a0a0a0" stroke-width="0.8"/>
<line x1="229.20" y1="609.09" x2="229.20" y2="570.53" stroke="#a0a0a0" stroke-width="0.8"/>
<line x1="231.40" y1="574.25" x2="231.40" y2="604.12" stroke="#a0a0a0" stroke-width="0.8"/>
<line x1="235.80" y1="606.48" x2="235.80" y2="573.02" stroke="#a0a0a0" stroke-width="0.8"/>
<line x1="241.60" y1="577.18" x2="241.60" y2="600.98" stroke="#a0a0a0" stroke-width="0.8"/>
<line x1="243.80" y1="602.29" x2="243.80" y2="572.08" stroke="#a0a0a0" stroke-width="0.8"/>
<line x1="251.80" y1="573.76" x2="251.80" y2="604.00" stroke="#a0a0a0" stroke-width="0.8"/>
<line x1="253.30" y1="608.34" x2="253.30" y2="574.62" stroke="#a0a0a0" stroke-width="0.8"/>
<line x1="256.20" y1="572.96" x2="256.20" y2="600.58" stroke="#a0a0a0" stroke-width="0.8"/>
<line x1="258.40" y1="596.37" x2="258.40" y2="577.36" stroke="#a0a0a0" stroke-width="0.8"/>
<line x1="262.00" y1="572.95" x2="262.00" y2="593.67" stroke="#a0a0a0" stroke-width="0.8"/>
<line x1="268.60" y1="591.22" x2="268.60" y2="581.56" stroke="#a0a0a0" stroke-width="0.8"/>
<line x1="271.50" y1="577.94" x2="271.50" y2="593.67" stroke="#a0a0a0" stroke-width="0.8"/>
<line x1="277.40" y1="592.46" x2="277.40" y2="600.30" stroke="#a0a0a0" stroke-width="0.8"/>
<line x1="279.60" y1="604.10" x2="279.60" y2="575.14" stroke="#a0a0a0" stroke-width="0.8"/>
<line x1="284.70" y1="572.14" x2="284.70" y2="600.46" stroke="#a0a0a0" stroke-width="0.8"/>
<line x1="287.60" y1="605.98" x2="287.60" y2="577.41" stroke="#a0a0a0" stroke-width="0.8"/>
<line x1="300.00" y1="576.03" x2="300.00" y2="601.83" stroke="#a0a0a0" stroke-width="0.8"/>
<line x1="304.30" y1="575.00" x2="304.30" y2="604.00" stroke="#a0a0a0" stroke-width="0.8"/>
<line x1="305.38" y1="575.00" x2="305.38" y2="604.00" stroke="#a0a0a0" stroke-width="0.8"/>
<line x1="309.67" y1="575.00" x2="309.67" y2="604.00" stroke="#a0a0a0" stroke-width="0.8"/>
<line x1="310.40" y1="575.00" x2="310.40" y2="604.00" stroke="#a0a0a0" stroke-width="0.8"/>
<line x1="311.00" y1="575.00" x2="311.00" y2="574.50" stroke="#1a1a1a" stroke-width="0.8"/>
<line x1="313.90" y1="571.23" x2="313.90" y2="612.72" stroke="#a0a0a0" stroke-width="0.8"/>
<line x1="316.80" y1="603.61" x2="316.80" y2="592.68" stroke="#a0a0a0" stroke-width="0.8"/>
<line x1="319.00" y1="596.48" x2="319.00" y2="579.94" stroke="#a0a0a0" stroke-width="0.8"/>
<line x1="323.40" y1="578.05" x2="323.40" y2="596.60" stroke="#a0a0a0" stroke-width="0.8"/>
<line x1="327.00" y1="593.36" x2="327.00" y2="572.62" stroke="#a0a0a0" stroke-width="0.8"/>
<line x1="329.20" y1="574.36" x2="329.20" y2="594.21" stroke="#a0a0a0" stroke-width="0.8"/>
<line x1="332.80" y1="596.99" x2="332.80" y2="572.27" stroke="#a0a0a0" stroke-width="0.8"/>
<line x1="335.00" y1="574.04" x2="335.00" y2="599.36" stroke="#a0a0a0" stroke-width="0.8"/>
<line x1="339.40" y1="598.93" x2="339.40" y2="578.86" stroke="#a0a0a0" stroke-width="0.8"/>
<line x1="342.30" y1="573.23" x2="342.30" y2="614.38" stroke="#a0a0a0" stroke-width="0.8"/>
<line x1="344.50" y1="611.36" x2="344.50" y2="572.75" stroke="#a0a0a0" stroke-width="0.8"/>
<line x1="362.80" y1="574.87" x2="362.80" y2="578.77" stroke="#a0a0a0" stroke-width="0.8"/>
<line x1="365.00" y1="578.53" x2="365.00" y2="594.29" stroke="#a0a0a0" stroke-width="0.8"/>
<line x1="368.60" y1="596.09" x2="368.60" y2="575.71" stroke="#a0a0a0" stroke-width="0.8"/>
<line x1="371.50" y1="572.93" x2="371.50" y2="596.17" stroke="#a0a0a0" stroke-width="0.8"/>
<line x1="375.09" y1="575.00" x2="375.09" y2="604.00" stroke="#a0a0a0" stroke-width="0.8"/>
<line x1="378.80" y1="575.00" x2="378.80" y2="605.67" stroke="#a0a0a0" stroke-width="0.8"/>
<line x1="381.01" y1="575.00" x2="381.01" y2="604.00" stroke="#a0a0a0" stroke-width="0.8"/>
<line x1="382.93" y1="575.00" x2="382.93" y2="604.00" stroke="#a0a0a0" stroke-width="0.8"/>
<line x1="383.41" y1="575.00" x2="383.41" y2="604.00" stroke="#a0a0a0" stroke-width="0.8"/>
<line x1="385.23" y1="575.00" x2="385.23" y2="604.00" stroke="#a0a0a0" stroke-width="0.8"/>
<line x1="386.10" y1="575.00" x2="386.10" y2="594.73" stroke="#a0a0a0" stroke-width="0.8"/>
<line x1="389.10" y1="595.01" x2="389.10" y2="576.32" stroke="#a0a0a0" stroke-width="0.8"/>
<line x1="392.00" y1="574.84" x2="392.00" y2="609.54" stroke="#a0a0a0" stroke-width="0.8"/>
<line x1="393.40" y1="609.47" x2="393.40" y2="576.39" stroke="#a0a0a0" stroke-width="0.8"/>
<line x1="396.40" y1="575.44" x2="396.40" y2="601.26" stroke="#a0a0a0" stroke-width="0.8"/>
<line x1="400.00" y1="605.68" x2="400.00" y2="575.30" stroke="#a0a0a0" stroke-width="0.8"/>
<line x1="402.20" y1="571.59" x2="402.20" y2="612.25" stroke="#a0a0a0" stroke-width="0.8"/>
<line x1="403.60" y1="603.49" x2="403.60" y2="571.69" stroke="#a0a0a0" stroke-width="0.8"/>
<line x1="405.80" y1="576.13" x2="405.80" y2="597.50" stroke="#a0a0a0" stroke-width="0.8"/>
<line x1="407.30" y1="600.22" x2="407.30" y2="573.63" stroke="#a0a0a0" stroke-width="0.8"/>
<line x1="408.80" y1="575.11" x2="408.80" y2="610.80" stroke="#a0a0a0" stroke-width="0.8"/>
<line x1="410.20" y1="610.20" x2="410.20" y2="574.86" stroke="#a0a0a0" stroke-width="0.8"/>
<line x1="414.60" y1="577.03" x2="414.60" y2="581.74" stroke="#a0a0a0" stroke-width="0.8"/>
<line x1="419.00" y1="596.06" x2="419.00" y2="602.37" stroke="#a0a0a0" stroke-width="0.8"/>
<line x1="423.40" y1="606.89" x2="423.40" y2="575.82" stroke="#a0a0a0" stroke-width="0.8"/>
<line x1="424.80" y1="572.80" x2="424.80" y2="600.13" stroke="#a0a0a0" stroke-width="0.8"/>
<line x1="428.50" y1="601.42" x2="428.50" y2="570.25" stroke="#a0a0a0" stroke-width="0.8"/>
<line x1="431.40" y1="571.21" x2="431.40" y2="594.59" stroke="#a0a0a0" stroke-width="0.8"/>
<line x1="435.80" y1="596.76" x2="435.80" y2="601.58" stroke="#a0a0a0" stroke-width="0.8"/>
<line x1="440.90" y1="602.22" x2="440.90" y2="567.96" stroke="#a0a0a0" stroke-width="0.8"/>
<line x1="442.30" y1="569.01" x2="442.30" y2="581.34" stroke="#a0a0a0" stroke-width="0.8"/>
<line x1="445.30" y1="605.03" x2="445.30" y2="609.18" stroke="#a0a0a0" stroke-width="0.8"/>
<line x1="452.60" y1="609.96" x2="452.60" y2="580.39" stroke="#a0a0a0" stroke-width="0.8"/>
<line x1="454.70" y1="568.27" x2="454.70" y2="574.25" stroke="#a0a0a0" stroke-width="0.8"/>
<line x1="459.90" y1="573.27" x2="459.90" y2="572.39" stroke="#1a1a1a" stroke-width="0.8"/>
<line x1="462.00" y1="573.71" x2="462.00" y2="595.01" stroke="#a0a0a0" stroke-width="0.8"/>
<line x1="463.50" y1="600.68" x2="463.50" y2="571.01" stroke="#a0a0a0" stroke-width="0.8"/>
<line x1="465.00" y1="573.03" x2="465.00" y2="595.13" stroke="#a0a0a0" stroke-width="0.8"/>
<line x1="470.00" y1="598.53" x2="470.00" y2="565.91" stroke="#a0a0a0" stroke-width="0.8"/>
<line x1="471.50" y1="571.64" x2="471.50" y2="596.24" stroke="#a0a0a0" stroke-width="0.8"/>
<line x1="473.00" y1="596.37" x2="473.00" y2="575.01" stroke="#a0a0a0" stroke-width="0.8"/>
<line x1="478.80" y1="570.90" x2="478.80" y2="602.04" stroke="#a0a0a0" stroke-width="0.8"/>
<line x1="490.50" y1="600.20" x2="490.50" y2="571.49" stroke="#a0a0a0" stroke-width="0.8"/>
<line x1="493.40" y1="574.08" x2="493.40" y2="599.21" stroke="#a0a0a0" stroke-width="0.8"/>
<line x1="504.40" y1="600.26" x2="504.40" y2="574.11" stroke="#a0a0a0" stroke-width="0.8"/>
<line x1="509.50" y1="572.34" x2="509.50" y2="577.45" stroke="#a0a0a0" stroke-width="0.8"/>
<line x1="513.10" y1="579.47" x2="513.10" y2="580.39" stroke="#1a1a1a" stroke-width="0.8"/>
<line x1="519.00" y1="597.59" x2="519.00" y2="602.86" stroke="#a0a0a0" stroke-width="0.8"/>
<line x1="522.60" y1="595.82" x2="522.60" y2="572.87" stroke="#a0a0a0" stroke-width="0.8"/>
<line x1="524.80" y1="572.21" x2="524.80" y2="604.32" stroke="#a0a0a0" stroke-width="0.8"/>
<line x1="531.40" y1="602.26" x2="531.40" y2="570.41" stroke="#a0a0a0" stroke-width="0.8"/>
<line x1="532.80" y1="576.19" x2="532.80" y2="603.72" stroke="#a0a0a0" stroke-width="0.8"/>
<line x1="543.80" y1="602.65" x2="543.80" y2="571.78" stroke="#a0a0a0" stroke-width="0.8"/>
<line x1="550.40" y1="575.80" x2="550.40" y2="605.82" stroke="#a0a0a0" stroke-width="0.8"/>
<line x1="554.70" y1="607.90" x2="554.70" y2="572.10" stroke="#a0a0a0" stroke-width="0.8"/>
<line x1="556.20" y1="568.57" x2="556.20" y2="602.53" stroke="#a0a0a0" stroke-width="0.8"/>
<line x1="564.20" y1="607.45" x2="564.20" y2="576.81" stroke="#a0a0a0" stroke-width="0.8"/>
<line x1="569.30" y1="576.57" x2="569.30" y2="605.06" stroke="#a0a0a0" stroke-width="0.8"/>
<line x1="581.00" y1="603.59" x2="581.00" y2="580.95" stroke="#a0a0a0" stroke-width="0.8"/>
<line x1="587.60" y1="577.84" x2="587.60" y2="610.38" stroke="#a0a0a0" stroke-width="0.8"/>
<line x1="589.80" y1="606.44" x2="589.80" y2="572.74" stroke="#a0a0a0" stroke-width="0.8"/>
<line x1="595.60" y1="574.84" x2="595.60" y2="596.84" stroke="#a0a0a0" stroke-width="0.8"/>
<path d="M105.80,575.99 L106.05,576.10 L106.30,582.28 L106.55,572.20 L106.80,579.51 L107.05,572.33 L107.30,583.74" fill="none" stroke="#151515" stroke-width="0.9" stroke-linejoin="round" stroke-linecap="butt"/>
<path d="M107.30,583.69 L107.56,587.61 L107.83,581.29 L108.09,584.35 L108.35,582.03 L108.62,580.49 L108.88,583.49 L109.15,578.73 L109.41,581.79 L109.67,585.37 L109.94,583.20 L110.20,581.61" fill="none" stroke="#151515" stroke-width="0.9" stroke-linejoin="round" stroke-linecap="butt"/>
<path d="M110.20,587.82 L110.57,584.46 L110.93,584.38 L111.30,587.35 L111.67,587.18 L112.03,588.82 L112.40,590.23 L112.77,596.79 L113.13,593.72 L113.50,595.39 L113.87,597.82 L114.23,602.10 L114.60,598.51" fill="none" stroke="#151515" stroke-width="0.9" stroke-linejoin="round" stroke-linecap="butt"/>
<path d="M114.60,597.38 L114.86,605.43 L115.11,595.20 L115.37,598.05 L115.63,600.73 L115.89,604.94 L116.14,596.53 L116.40,592.69 L116.66,600.72 L116.91,597.64 L117.17,597.99 L117.43,600.20 L117.69,599.58 L117.94,599.76 L118.20,597.88" fill="none" stroke="#151515" stroke-width="0.9" stroke-linejoin="round" stroke-linecap="butt"/>
<path d="M118.20,574.97 L118.45,575.46 L118.70,572.07 L118.95,570.96 L119.20,573.69 L119.45,573.10 L119.70,569.61" fill="none" stroke="#151515" stroke-width="0.9" stroke-linejoin="round" stroke-linecap="butt"/>
<path d="M119.70,595.80 L119.95,599.73 L120.20,596.75 L120.45,596.15 L120.70,597.55 L120.95,596.91 L121.20,596.99" fill="none" stroke="#151515" stroke-width="0.9" stroke-linejoin="round" stroke-linecap="butt"/>
<path d="M121.20,592.98 L121.48,602.55 L121.75,598.52 L122.03,595.72 L122.30,600.55 L122.58,598.80 L122.85,598.05 L123.12,600.72 L123.40,603.88" fill="none" stroke="#151515" stroke-width="0.9" stroke-linejoin="round" stroke-linecap="butt"/>
<path d="M123.40,574.27 L123.66,576.65 L123.91,577.96 L124.17,570.65 L124.43,571.80 L124.69,574.79 L124.94,569.07 L125.20,572.39 L125.46,575.97 L125.71,575.40 L125.97,574.33 L126.23,568.64 L126.49,578.41 L126.74,574.27 L127.00,574.76" fill="none" stroke="#151515" stroke-width="0.9" stroke-linejoin="round" stroke-linecap="butt"/>
<path d="M127.00,604.29 L127.26,598.54 L127.52,599.27 L127.78,599.84 L128.04,607.99 L128.29,600.84 L128.55,602.37 L128.81,602.34 L129.07,604.48 L129.33,604.30 L129.59,603.70 L129.85,599.72 L130.11,594.84 L130.36,603.43 L130.62,603.70 L130.88,606.20 L131.14,602.73 L131.40,601.41" fill="none" stroke="#151515" stroke-width="0.9" stroke-linejoin="round" stroke-linecap="butt"/>
<path d="M131.40,574.94 L131.66,570.43 L131.91,571.60 L132.17,571.69 L132.43,574.66 L132.69,578.81 L132.94,575.76 L133.20,576.63 L133.46,574.55 L133.71,574.64 L133.97,572.97 L134.23,573.35 L134.49,568.41 L134.74,571.23 L135.00,571.04" fill="none" stroke="#151515" stroke-width="0.9" stroke-linejoin="round" stroke-linecap="butt"/>
<path d="M135.00,601.18 L135.25,600.72 L135.50,601.97 L135.75,603.05 L136.00,598.21 L136.25,601.74 L136.50,604.08 L136.75,598.98 L137.00,601.83 L137.25,598.57 L137.50,594.81 L137.75,599.31 L138.00,596.86" fill="none" stroke="#151515" stroke-width="0.9" stroke-linejoin="round" stroke-linecap="butt"/>
<path d="M138.00,572.25 L138.26,570.93 L138.53,572.74 L138.79,567.08 L139.05,576.79 L139.31,575.13 L139.57,571.19 L139.84,569.91 L140.10,572.01" fill="none" stroke="#151515" stroke-width="0.9" stroke-linejoin="round" stroke-linecap="butt"/>
<path d="M140.10,601.76 L140.38,601.10 L140.65,601.04 L140.92,594.88 L141.20,597.06" fill="none" stroke="#151515" stroke-width="0.9" stroke-linejoin="round" stroke-linecap="butt"/>
<path d="M141.20,577.09 L141.45,574.55 L141.70,570.50 L141.95,572.00 L142.20,570.67 L142.45,571.65 L142.71,576.72 L142.96,573.49 L143.21,576.60 L143.46,574.44 L143.71,570.50 L143.96,572.49 L144.21,579.34 L144.46,572.21 L144.71,571.55 L144.96,576.89 L145.22,574.21 L145.47,573.99 L145.72,577.43 L145.97,569.88 L146.22,574.98 L146.47,571.53 L146.72,570.71 L146.97,572.09 L147.22,576.70 L147.47,573.67 L147.73,569.70 L147.98,571.40 L148.23,577.58 L148.48,576.40 L148.73,571.44 L148.98,579.69 L149.23,573.14 L149.48,571.19 L149.73,573.68 L149.98,576.20 L150.24,577.78 L150.49,576.42 L150.74,573.00 L150.99,572.68 L151.24,570.58 L151.49,573.83 L151.74,572.60 L151.99,574.58 L152.24,571.02 L152.49,572.78 L152.75,571.93 L153.00,571.17 L153.25,571.21 L153.50,571.60 L153.75,571.22 L154.00,575.34" fill="none" stroke="#151515" stroke-width="0.9" stroke-linejoin="round" stroke-linecap="butt"/>
<path d="M154.00,598.27 L154.28,594.49 L154.55,599.36 L154.82,598.76 L155.10,601.88 L155.38,597.48 L155.65,597.44 L155.92,596.17 L156.20,598.33" fill="none" stroke="#151515" stroke-width="0.9" stroke-linejoin="round" stroke-linecap="butt"/>
<path d="M156.20,576.16 L156.45,575.41 L156.71,574.40 L156.97,576.33 L157.22,575.22 L157.47,575.58 L157.73,572.80 L157.98,575.49 L158.24,572.66 L158.50,573.02 L158.75,575.38 L159.00,579.96 L159.26,577.35 L159.52,575.01 L159.77,574.58 L160.03,577.33 L160.28,578.25 L160.53,577.87 L160.79,574.56 L161.05,575.44 L161.30,574.22" fill="none" stroke="#151515" stroke-width="0.9" stroke-linejoin="round" stroke-linecap="butt"/>
<path d="M161.30,577.36 L161.67,577.91 L162.03,581.11 L162.40,578.66 L162.77,582.63 L163.13,588.12 L163.50,586.92 L163.87,592.05 L164.23,589.76 L164.60,593.67 L164.97,597.22 L165.33,595.83 L165.70,598.39" fill="none" stroke="#151515" stroke-width="0.9" stroke-linejoin="round" stroke-linecap="butt"/>
<path d="M165.70,611.58 L165.97,603.19 L166.25,603.12 L166.53,603.47 L166.80,605.09 L167.07,604.93 L167.35,607.62 L167.62,607.11 L167.90,603.93" fill="none" stroke="#151515" stroke-width="0.9" stroke-linejoin="round" stroke-linecap="butt"/>
<path d="M167.90,603.45 L169.00,602.67" fill="none" stroke="#151515" stroke-width="0.9" stroke-linejoin="round" stroke-linecap="butt"/>
<path d="M169.91,604.45 L170.72,603.54" fill="none" stroke="#151515" stroke-width="0.9" stroke-linejoin="round" stroke-linecap="butt"/>
<path d="M170.72,575.67 L171.71,575.06" fill="none" stroke="#151515" stroke-width="0.9" stroke-linejoin="round" stroke-linecap="butt"/>
<path d="M171.71,604.11 L172.93,603.17" fill="none" stroke="#151515" stroke-width="0.9" stroke-linejoin="round" stroke-linecap="butt"/>
<path d="M172.93,574.76 L173.00,574.68" fill="none" stroke="#151515" stroke-width="0.9" stroke-linejoin="round" stroke-linecap="butt"/>
<path d="M173.00,600.50 L173.28,595.31 L173.55,599.59 L173.82,595.59 L174.10,596.40 L174.38,602.24 L174.65,601.97 L174.92,597.99 L175.20,602.05" fill="none" stroke="#151515" stroke-width="0.9" stroke-linejoin="round" stroke-linecap="butt"/>
<path d="M175.20,572.01 L175.47,574.65 L175.75,570.48 L176.03,572.52 L176.30,570.56 L176.57,575.91 L176.85,572.47 L177.12,572.66 L177.40,572.96" fill="none" stroke="#151515" stroke-width="0.9" stroke-linejoin="round" stroke-linecap="butt"/>
<path d="M177.40,603.87 L177.68,605.71 L177.95,598.28 L178.22,600.57 L178.50,600.87 L178.78,601.49 L179.05,598.30 L179.32,597.37 L179.60,599.13" fill="none" stroke="#151515" stroke-width="0.9" stroke-linejoin="round" stroke-linecap="butt"/>
<path d="M179.60,576.26 L180.71,575.63" fill="none" stroke="#151515" stroke-width="0.9" stroke-linejoin="round" stroke-linecap="butt"/>
<path d="M179.60,604.59 L180.71,603.96" fill="none" stroke="#151515" stroke-width="0.9" stroke-linejoin="round" stroke-linecap="butt"/>
<path d="M181.36,602.12 L181.80,602.33" fill="none" stroke="#151515" stroke-width="0.9" stroke-linejoin="round" stroke-linecap="butt"/>
<path d="M181.80,598.97 L182.06,599.84 L182.33,597.37 L182.59,596.09 L182.85,597.60 L183.11,601.77 L183.38,598.00 L183.64,593.29 L183.90,601.11" fill="none" stroke="#151515" stroke-width="0.9" stroke-linejoin="round" stroke-linecap="butt"/>
<path d="M183.90,574.59 L184.15,582.15 L184.41,572.90 L184.66,573.78 L184.92,573.31 L185.17,574.88 L185.42,572.65 L185.68,570.54 L185.93,569.50 L186.18,573.71 L186.44,572.80 L186.69,572.64 L186.95,578.96 L187.20,575.86 L187.45,576.55 L187.71,572.83 L187.96,574.70 L188.22,573.51 L188.47,573.52 L188.72,575.75 L188.98,575.41 L189.23,574.71 L189.48,574.35 L189.74,570.63 L189.99,572.27 L190.25,574.89 L190.50,573.15" fill="none" stroke="#151515" stroke-width="0.9" stroke-linejoin="round" stroke-linecap="butt"/>
<path d="M190.50,603.95 L190.76,606.94 L191.03,603.56 L191.29,604.22 L191.55,608.33 L191.82,605.05 L192.08,609.78 L192.35,607.38 L192.61,608.14 L192.87,608.99 L193.14,600.29 L193.40,605.79" fill="none" stroke="#151515" stroke-width="0.9" stroke-linejoin="round" stroke-linecap="butt"/>
<path d="M193.40,570.99 L193.65,572.92 L193.90,573.76 L194.15,576.90 L194.40,573.90 L194.65,577.83 L194.90,572.77 L195.15,573.87 L195.40,574.22 L195.65,576.20 L195.90,573.88 L196.15,572.56 L196.40,573.23 L196.65,570.73 L196.90,576.94 L197.15,575.74 L197.40,575.00 L197.65,574.64 L197.90,572.59 L198.15,573.05 L198.40,575.88 L198.65,572.16 L198.90,572.18 L199.15,577.68 L199.40,577.63 L199.65,574.68 L199.90,575.24 L200.15,574.44 L200.40,577.32 L200.65,572.97 L200.90,574.19 L201.15,575.13 L201.40,577.35 L201.65,573.42 L201.90,574.54 L202.15,572.86 L202.40,572.48 L202.65,572.48 L202.90,574.19" fill="none" stroke="#151515" stroke-width="0.9" stroke-linejoin="round" stroke-linecap="butt"/>
<path d="M202.90,609.83 L203.16,605.68 L203.41,605.92 L203.66,606.44 L203.92,608.43 L204.18,609.33 L204.43,604.22 L204.69,608.43 L204.94,604.89 L205.19,609.37 L205.45,604.98 L205.71,604.67 L205.96,605.63 L206.22,607.34 L206.47,604.90 L206.72,608.05 L206.98,607.89 L207.24,607.72 L207.49,608.20 L207.75,609.79 L208.00,605.59" fill="none" stroke="#151515" stroke-width="0.9" stroke-linejoin="round" stroke-linecap="butt"/>
<path d="M208.00,575.00 L208.26,574.93 L208.52,570.25 L208.78,575.90 L209.04,573.22 L209.29,573.34 L209.55,573.97 L209.81,575.23 L210.07,575.76 L210.33,576.12 L210.59,573.40 L210.85,576.61 L211.11,575.97 L211.36,574.10 L211.62,574.95 L211.88,576.85 L212.14,576.00 L212.40,576.61" fill="none" stroke="#151515" stroke-width="0.9" stroke-linejoin="round" stroke-linecap="butt"/>
<path d="M212.40,609.28 L212.68,611.97 L212.95,614.79 L213.22,610.18 L213.50,604.83 L213.78,613.50 L214.05,607.52 L214.32,605.40 L214.60,602.83" fill="none" stroke="#151515" stroke-width="0.9" stroke-linejoin="round" stroke-linecap="butt"/>
<path d="M214.60,576.98 L214.85,578.52 L215.10,578.31 L215.36,575.12 L215.61,579.33 L215.86,575.82 L216.11,574.64 L216.36,576.16 L216.61,576.49 L216.87,576.11 L217.12,576.92 L217.37,570.96 L217.62,579.61 L217.87,574.69 L218.12,577.50 L218.38,574.16 L218.63,576.37 L218.88,575.59 L219.13,572.36 L219.38,576.88 L219.63,577.46 L219.89,573.43 L220.14,571.18 L220.39,574.51 L220.64,574.06 L220.89,576.25 L221.14,575.96 L221.40,579.71 L221.65,577.49 L221.90,575.41" fill="none" stroke="#151515" stroke-width="0.9" stroke-linejoin="round" stroke-linecap="butt"/>
<path d="M221.90,604.42 L222.18,596.50 L222.45,601.65 L222.72,601.60 L223.00,603.71 L223.28,604.83 L223.55,604.56 L223.82,606.43 L224.10,602.21" fill="none" stroke="#151515" stroke-width="0.9" stroke-linejoin="round" stroke-linecap="butt"/>
<path d="M224.10,574.70 L224.36,573.70 L224.63,574.03 L224.89,574.74 L225.15,573.35 L225.42,574.49 L225.68,573.92 L225.95,576.35 L226.21,573.74 L226.47,574.70 L226.74,579.97 L227.00,575.44" fill="none" stroke="#151515" stroke-width="0.9" stroke-linejoin="round" stroke-linecap="butt"/>
<path d="M227.00,607.33 L227.28,608.80 L227.55,603.38 L227.82,607.84 L228.10,607.95 L228.38,607.14 L228.65,608.53 L228.92,608.04 L229.20,609.09" fill="none" stroke="#151515" stroke-width="0.9" stroke-linejoin="round" stroke-linecap="butt"/>
<path d="M229.20,570.53 L229.47,572.99 L229.75,570.75 L230.03,574.85 L230.30,572.31 L230.57,569.02 L230.85,572.25 L231.12,569.70 L231.40,574.25" fill="none" stroke="#151515" stroke-width="0.9" stroke-linejoin="round" stroke-linecap="butt"/>
<path d="M231.40,604.12 L231.66,599.32 L231.92,603.99 L232.18,607.65 L232.44,605.86 L232.69,603.36 L232.95,606.68 L233.21,606.49 L233.47,608.81 L233.73,607.34 L233.99,605.95 L234.25,602.96 L234.51,605.74 L234.76,605.78 L235.02,605.04 L235.28,606.09 L235.54,601.93 L235.80,606.48" fill="none" stroke="#151515" stroke-width="0.9" stroke-linejoin="round" stroke-linecap="butt"/>
<path d="M235.80,573.02 L236.05,573.82 L236.30,572.78 L236.56,572.31 L236.81,573.59 L237.06,574.80 L237.31,572.27 L237.57,573.75 L237.82,571.25 L238.07,573.96 L238.32,573.04 L238.57,570.07 L238.83,575.66 L239.08,570.96 L239.33,573.18 L239.58,570.00 L239.83,569.04 L240.09,574.51 L240.34,569.80 L240.59,568.26 L240.84,572.51 L241.10,569.46 L241.35,572.53 L241.60,577.18" fill="none" stroke="#151515" stroke-width="0.9" stroke-linejoin="round" stroke-linecap="butt"/>
<path d="M241.60,600.98 L241.88,602.93 L242.15,603.45 L242.43,602.64 L242.70,601.69 L242.97,605.89 L243.25,601.79 L243.53,602.92 L243.80,602.29" fill="none" stroke="#151515" stroke-width="0.9" stroke-linejoin="round" stroke-linecap="butt"/>
<path d="M243.80,572.08 L244.05,575.73 L244.30,575.13 L244.55,576.48 L244.80,576.58 L245.05,578.57 L245.30,570.67 L245.55,573.73 L245.80,573.92 L246.05,573.03 L246.30,575.94 L246.55,574.82 L246.80,575.32 L247.05,571.28 L247.30,572.82 L247.55,574.85 L247.80,573.98 L248.05,573.62 L248.30,574.73 L248.55,574.37 L248.80,572.58 L249.05,578.79 L249.30,573.46 L249.55,576.48 L249.80,576.36 L250.05,577.20 L250.30,573.70 L250.55,572.73 L250.80,576.00 L251.05,575.59 L251.30,569.64 L251.55,569.05 L251.80,573.76" fill="none" stroke="#151515" stroke-width="0.9" stroke-linejoin="round" stroke-linecap="butt"/>
<path d="M251.80,604.00 L252.05,604.31 L252.30,606.07 L252.55,602.51 L252.80,611.80 L253.05,607.32 L253.30,608.34" fill="none" stroke="#151515" stroke-width="0.9" stroke-linejoin="round" stroke-linecap="butt"/>
<path d="M253.30,574.62 L253.56,569.28 L253.83,574.54 L254.09,572.75 L254.35,575.00 L254.62,573.74 L254.88,575.52 L255.15,572.00 L255.41,573.17 L255.67,574.01 L255.94,572.29 L256.20,572.96" fill="none" stroke="#151515" stroke-width="0.9" stroke-linejoin="round" stroke-linecap="butt"/>
<path d="M256.20,600.58 L256.47,603.95 L256.75,598.45 L257.02,601.12 L257.30,596.08 L257.57,597.83 L257.85,599.84 L258.12,600.48 L258.40,596.37" fill="none" stroke="#151515" stroke-width="0.9" stroke-linejoin="round" stroke-linecap="butt"/>
<path d="M258.40,577.36 L258.66,576.33 L258.91,578.98 L259.17,578.13 L259.43,577.24 L259.69,575.10 L259.94,576.59 L260.20,574.05 L260.46,574.12 L260.71,571.81 L260.97,573.05 L261.23,573.12 L261.49,575.77 L261.74,576.23 L262.00,572.95" fill="none" stroke="#151515" stroke-width="0.9" stroke-linejoin="round" stroke-linecap="butt"/>
<path d="M262.00,593.67 L262.25,595.35 L262.51,597.10 L262.76,593.67 L263.02,594.73 L263.27,592.73 L263.52,597.09 L263.78,588.76 L264.03,594.79 L264.28,586.21 L264.54,599.72 L264.79,597.09 L265.05,586.93 L265.30,592.22 L265.55,589.26 L265.81,588.07 L266.06,592.61 L266.32,591.03 L266.57,597.46 L266.82,592.23 L267.08,590.27 L267.33,593.71 L267.58,595.34 L267.84,596.72 L268.09,595.66 L268.35,588.98 L268.60,591.22" fill="none" stroke="#151515" stroke-width="0.9" stroke-linejoin="round" stroke-linecap="butt"/>
<path d="M268.60,581.56 L268.86,580.08 L269.13,583.66 L269.39,581.21 L269.65,581.81 L269.92,581.13 L270.18,582.07 L270.45,578.58 L270.71,586.73 L270.97,580.69 L271.24,580.32 L271.50,577.94" fill="none" stroke="#151515" stroke-width="0.9" stroke-linejoin="round" stroke-linecap="butt"/>
<path d="M271.50,593.67 L271.76,589.34 L272.01,595.05 L272.27,597.96 L272.53,596.00 L272.78,592.47 L273.04,598.21 L273.30,593.32 L273.55,593.79 L273.81,594.16 L274.07,592.36 L274.32,595.36 L274.58,589.83 L274.83,588.02 L275.09,597.96 L275.35,591.49 L275.60,592.76 L275.86,595.07 L276.12,592.38 L276.37,590.00 L276.63,593.29 L276.89,590.79 L277.14,595.78 L277.40,592.46" fill="none" stroke="#151515" stroke-width="0.9" stroke-linejoin="round" stroke-linecap="butt"/>
<path d="M277.40,600.30 L277.67,602.93 L277.95,597.01 L278.23,597.15 L278.50,602.83 L278.77,604.20 L279.05,601.19 L279.33,599.16 L279.60,604.10" fill="none" stroke="#151515" stroke-width="0.9" stroke-linejoin="round" stroke-linecap="butt"/>
<path d="M279.60,575.14 L279.86,576.28 L280.11,569.86 L280.37,573.67 L280.62,571.63 L280.88,571.48 L281.13,575.27 L281.38,575.61 L281.64,572.90 L281.89,573.40 L282.15,577.08 L282.41,575.45 L282.66,573.69 L282.92,575.12 L283.17,574.22 L283.43,571.11 L283.68,572.80 L283.94,574.60 L284.19,575.37 L284.44,571.25 L284.70,572.14" fill="none" stroke="#151515" stroke-width="0.9" stroke-linejoin="round" stroke-linecap="butt"/>
<path d="M284.70,600.46 L284.96,598.09 L285.23,604.77 L285.49,603.13 L285.75,605.31 L286.02,596.37 L286.28,599.89 L286.55,606.61 L286.81,598.36 L287.07,597.30 L287.34,602.53 L287.60,605.98" fill="none" stroke="#151515" stroke-width="0.9" stroke-linejoin="round" stroke-linecap="butt"/>
<path d="M287.60,577.41 L287.85,573.80 L288.11,577.22 L288.36,576.89 L288.61,576.56 L288.87,576.85 L289.12,577.84 L289.37,578.60 L289.62,579.06 L289.88,578.37 L290.13,575.63 L290.38,571.78 L290.64,577.20 L290.89,572.57 L291.14,581.12 L291.40,573.35 L291.65,571.79 L291.90,571.78 L292.16,576.85 L292.41,576.65 L292.66,577.44 L292.91,576.62 L293.17,574.20 L293.42,577.81 L293.67,574.40 L293.93,572.56 L294.18,578.02 L294.43,577.17 L294.69,573.85 L294.94,575.40 L295.19,578.29 L295.44,578.09 L295.70,573.54 L295.95,578.48 L296.20,570.10 L296.46,576.17 L296.71,576.84 L296.96,575.70 L297.22,576.23 L297.47,572.33 L297.72,575.67 L297.98,577.10 L298.23,573.87 L298.48,576.28 L298.73,575.59 L298.99,570.87 L299.24,574.59 L299.49,577.29 L299.75,572.45 L300.00,576.03" fill="none" stroke="#151515" stroke-width="0.9" stroke-linejoin="round" stroke-linecap="butt"/>
<path d="M300.00,601.83 L300.26,597.70 L300.51,600.33 L300.77,603.26 L301.03,602.82 L301.29,598.43 L301.54,603.58 L301.80,601.85 L302.06,601.29 L302.31,604.84 L302.57,602.85 L302.83,601.92 L303.09,603.44 L303.34,602.68 L303.60,604.23" fill="none" stroke="#151515" stroke-width="0.9" stroke-linejoin="round" stroke-linecap="butt"/>
<path d="M303.60,603.82 L304.51,602.47" fill="none" stroke="#151515" stroke-width="0.9" stroke-linejoin="round" stroke-linecap="butt"/>
<path d="M304.51,577.15 L305.40,577.15" fill="none" stroke="#151515" stroke-width="0.9" stroke-linejoin="round" stroke-linecap="butt"/>
<path d="M304.51,605.66 L305.40,605.27" fill="none" stroke="#151515" stroke-width="0.9" stroke-linejoin="round" stroke-linecap="butt"/>
<path d="M305.40,574.95 L306.35,575.78" fill="none" stroke="#151515" stroke-width="0.9" stroke-linejoin="round" stroke-linecap="butt"/>
<path d="M306.35,575.62 L307.36,573.99" fill="none" stroke="#151515" stroke-width="0.9" stroke-linejoin="round" stroke-linecap="butt"/>
<path d="M306.35,605.63 L307.36,603.47" fill="none" stroke="#151515" stroke-width="0.9" stroke-linejoin="round" stroke-linecap="butt"/>
<path d="M307.36,573.21 L308.47,575.24" fill="none" stroke="#151515" stroke-width="0.9" stroke-linejoin="round" stroke-linecap="butt"/>
<path d="M307.36,604.38 L308.47,605.96" fill="none" stroke="#151515" stroke-width="0.9" stroke-linejoin="round" stroke-linecap="butt"/>
<path d="M309.37,602.01 L310.09,605.80" fill="none" stroke="#151515" stroke-width="0.9" stroke-linejoin="round" stroke-linecap="butt"/>
<path d="M310.09,574.16 L310.91,573.76" fill="none" stroke="#151515" stroke-width="0.9" stroke-linejoin="round" stroke-linecap="butt"/>
<path d="M310.09,606.16 L310.91,606.81" fill="none" stroke="#151515" stroke-width="0.9" stroke-linejoin="round" stroke-linecap="butt"/>
<path d="M310.91,605.45 L311.00,607.69" fill="none" stroke="#151515" stroke-width="0.9" stroke-linejoin="round" stroke-linecap="butt"/>
<path d="M311.00,574.50 L311.26,572.99 L311.53,573.27 L311.79,574.44 L312.05,579.15 L312.32,574.53 L312.58,573.78 L312.85,574.97 L313.11,576.23 L313.37,573.60 L313.64,577.83 L313.90,571.23" fill="none" stroke="#151515" stroke-width="0.9" stroke-linejoin="round" stroke-linecap="butt"/>
<path d="M313.90,612.72 L314.16,611.32 L314.43,612.07 L314.69,613.50 L314.95,608.87 L315.22,610.56 L315.48,610.18 L315.75,607.94 L316.01,607.52 L316.27,607.49 L316.54,611.68 L316.80,603.61" fill="none" stroke="#151515" stroke-width="0.9" stroke-linejoin="round" stroke-linecap="butt"/>
<path d="M316.80,592.68 L317.07,596.19 L317.35,599.37 L317.62,595.73 L317.90,599.25 L318.18,595.84 L318.45,594.62 L318.73,591.96 L319.00,596.48" fill="none" stroke="#151515" stroke-width="0.9" stroke-linejoin="round" stroke-linecap="butt"/>
<path d="M319.00,579.94 L319.26,576.20 L319.52,573.62 L319.78,577.33 L320.04,572.86 L320.29,573.39 L320.55,578.54 L320.81,576.93 L321.07,578.20 L321.33,576.54 L321.59,575.73 L321.85,576.39 L322.11,575.26 L322.36,578.40 L322.62,573.06 L322.88,571.67 L323.14,574.06 L323.40,578.05" fill="none" stroke="#151515" stroke-width="0.9" stroke-linejoin="round" stroke-linecap="butt"/>
<path d="M323.40,596.60 L323.66,592.04 L323.91,605.35 L324.17,595.59 L324.43,597.50 L324.69,599.49 L324.94,598.95 L325.20,597.57 L325.46,593.97 L325.71,599.34 L325.97,595.46 L326.23,597.54 L326.49,599.95 L326.74,597.00 L327.00,593.36" fill="none" stroke="#151515" stroke-width="0.9" stroke-linejoin="round" stroke-linecap="butt"/>
<path d="M327.00,572.62 L327.27,575.38 L327.55,575.63 L327.82,571.03 L328.10,574.11 L328.38,574.67 L328.65,576.44 L328.93,574.92 L329.20,574.36" fill="none" stroke="#151515" stroke-width="0.9" stroke-linejoin="round" stroke-linecap="butt"/>
<path d="M329.20,594.21 L329.46,596.21 L329.71,596.99 L329.97,594.59 L330.23,594.27 L330.49,599.49 L330.74,594.89 L331.00,592.98 L331.26,596.74 L331.51,591.80 L331.77,592.20 L332.03,597.36 L332.29,595.05 L332.54,597.03 L332.80,596.99" fill="none" stroke="#151515" stroke-width="0.9" stroke-linejoin="round" stroke-linecap="butt"/>
<path d="M332.80,572.27 L333.07,575.15 L333.35,573.14 L333.62,574.49 L333.90,574.57 L334.18,573.81 L334.45,571.05 L334.73,574.68 L335.00,574.04" fill="none" stroke="#151515" stroke-width="0.9" stroke-linejoin="round" stroke-linecap="butt"/>
<path d="M335.00,599.36 L335.26,595.29 L335.52,598.51 L335.78,597.46 L336.04,596.90 L336.29,597.31 L336.55,597.35 L336.81,594.48 L337.07,596.60 L337.33,596.81 L337.59,599.20 L337.85,597.60 L338.11,601.63 L338.36,599.55 L338.62,598.81 L338.88,598.53 L339.14,594.35 L339.40,598.93" fill="none" stroke="#151515" stroke-width="0.9" stroke-linejoin="round" stroke-linecap="butt"/>
<path d="M339.40,578.86 L339.66,573.69 L339.93,578.99 L340.19,577.39 L340.45,576.65 L340.72,575.03 L340.98,576.05 L341.25,574.22 L341.51,575.96 L341.77,576.12 L342.04,576.14 L342.30,573.23" fill="none" stroke="#151515" stroke-width="0.9" stroke-linejoin="round" stroke-linecap="butt"/>
<path d="M342.30,614.38 L342.57,610.32 L342.85,613.02 L343.12,613.50 L343.40,611.47 L343.68,618.28 L343.95,612.31 L344.23,613.07 L344.50,611.36" fill="none" stroke="#151515" stroke-width="0.9" stroke-linejoin="round" stroke-linecap="butt"/>
<path d="M344.50,572.75 L344.75,569.14 L345.00,573.45 L345.25,571.17 L345.50,570.84 L345.75,573.72 L346.00,574.05 L346.25,571.04 L346.51,569.69 L346.76,567.46 L347.01,569.75 L347.26,573.11 L347.51,573.44 L347.76,569.15 L348.01,572.11 L348.26,574.37 L348.51,570.28 L348.76,570.74 L349.01,569.96 L349.26,572.93 L349.51,567.73 L349.76,571.70 L350.02,573.06 L350.27,571.87 L350.52,574.16 L350.77,573.39 L351.02,570.85 L351.27,569.74 L351.52,569.61 L351.77,573.10 L352.02,571.69 L352.27,572.26 L352.52,569.93 L352.77,574.60 L353.02,573.96 L353.27,573.70 L353.52,569.48 L353.78,577.85 L354.03,573.90 L354.28,569.56 L354.53,574.18 L354.78,571.71 L355.03,570.24 L355.28,570.28 L355.53,573.12 L355.78,572.69 L356.03,572.48 L356.28,571.51 L356.53,569.69 L356.78,572.57 L357.03,571.40 L357.28,571.54 L357.54,573.37 L357.79,575.81 L358.04,570.58 L358.29,574.17 L358.54,570.34 L358.79,573.89 L359.04,573.45 L359.29,572.08 L359.54,572.53 L359.79,570.25 L360.04,571.24 L360.29,574.14 L360.54,573.73 L360.79,577.07 L361.05,569.73 L361.30,570.95 L361.55,572.23 L361.80,572.13 L362.05,570.87 L362.30,571.06 L362.55,571.78 L362.80,574.87" fill="none" stroke="#151515" stroke-width="0.9" stroke-linejoin="round" stroke-linecap="butt"/>
<path d="M362.80,578.77 L363.07,577.31 L363.35,579.70 L363.62,573.13 L363.90,577.06 L364.18,577.58 L364.45,579.69 L364.73,573.87 L365.00,578.53" fill="none" stroke="#151515" stroke-width="0.9" stroke-linejoin="round" stroke-linecap="butt"/>
<path d="M365.00,594.29 L365.26,599.49 L365.51,599.01 L365.77,595.87 L366.03,598.19 L366.29,594.04 L366.54,597.55 L366.80,597.66 L367.06,599.70 L367.31,595.91 L367.57,591.56 L367.83,599.03 L368.09,594.26 L368.34,595.63 L368.60,596.09" fill="none" stroke="#151515" stroke-width="0.9" stroke-linejoin="round" stroke-linecap="butt"/>
<path d="M368.60,575.71 L368.86,571.90 L369.13,574.59 L369.39,572.17 L369.65,568.87 L369.92,573.03 L370.18,573.16 L370.45,570.74 L370.71,568.50 L370.97,578.37 L371.24,576.79 L371.50,572.93" fill="none" stroke="#151515" stroke-width="0.9" stroke-linejoin="round" stroke-linecap="butt"/>
<path d="M371.50,596.17 L371.75,597.39 L372.00,596.51 L372.25,591.25 L372.50,591.50 L372.75,597.09 L373.00,598.44" fill="none" stroke="#151515" stroke-width="0.9" stroke-linejoin="round" stroke-linecap="butt"/>
<path d="M373.00,574.98 L373.68,576.11" fill="none" stroke="#151515" stroke-width="0.9" stroke-linejoin="round" stroke-linecap="butt"/>
<path d="M373.00,603.86 L373.68,603.26" fill="none" stroke="#151515" stroke-width="0.9" stroke-linejoin="round" stroke-linecap="butt"/>
<path d="M373.68,573.88 L374.55,572.82" fill="none" stroke="#151515" stroke-width="0.9" stroke-linejoin="round" stroke-linecap="butt"/>
<path d="M374.55,575.57 L375.38,575.13" fill="none" stroke="#151515" stroke-width="0.9" stroke-linejoin="round" stroke-linecap="butt"/>
<path d="M374.55,600.47 L375.38,602.15" fill="none" stroke="#151515" stroke-width="0.9" stroke-linejoin="round" stroke-linecap="butt"/>
<path d="M375.38,605.22 L376.58,604.86" fill="none" stroke="#151515" stroke-width="0.9" stroke-linejoin="round" stroke-linecap="butt"/>
<path d="M376.58,576.18 L377.71,574.64" fill="none" stroke="#151515" stroke-width="0.9" stroke-linejoin="round" stroke-linecap="butt"/>
<path d="M376.58,603.80 L377.71,602.38" fill="none" stroke="#151515" stroke-width="0.9" stroke-linejoin="round" stroke-linecap="butt"/>
<path d="M377.71,603.93 L378.80,603.93" fill="none" stroke="#151515" stroke-width="0.9" stroke-linejoin="round" stroke-linecap="butt"/>
<path d="M378.80,605.67 L379.07,600.09 L379.35,608.10 L379.62,605.86 L379.90,603.70 L380.18,605.18 L380.45,607.07 L380.73,611.73 L381.00,606.15" fill="none" stroke="#151515" stroke-width="0.9" stroke-linejoin="round" stroke-linecap="butt"/>
<path d="M381.00,603.12 L382.26,602.58" fill="none" stroke="#151515" stroke-width="0.9" stroke-linejoin="round" stroke-linecap="butt"/>
<path d="M382.26,574.15 L383.39,574.09" fill="none" stroke="#151515" stroke-width="0.9" stroke-linejoin="round" stroke-linecap="butt"/>
<path d="M382.26,602.23 L383.39,601.55" fill="none" stroke="#151515" stroke-width="0.9" stroke-linejoin="round" stroke-linecap="butt"/>
<path d="M383.39,577.29 L384.59,577.13" fill="none" stroke="#151515" stroke-width="0.9" stroke-linejoin="round" stroke-linecap="butt"/>
<path d="M383.39,603.51 L384.59,603.87" fill="none" stroke="#151515" stroke-width="0.9" stroke-linejoin="round" stroke-linecap="butt"/>
<path d="M384.59,574.29 L385.81,573.04" fill="none" stroke="#151515" stroke-width="0.9" stroke-linejoin="round" stroke-linecap="butt"/>
<path d="M386.10,594.73 L386.35,595.82 L386.60,590.91 L386.85,592.92 L387.10,589.04 L387.35,593.61 L387.60,593.65 L387.85,599.87 L388.10,588.79 L388.35,594.29 L388.60,594.92 L388.85,593.36 L389.10,595.01" fill="none" stroke="#151515" stroke-width="0.9" stroke-linejoin="round" stroke-linecap="butt"/>
<path d="M389.10,576.32 L389.36,577.73 L389.63,577.03 L389.89,577.18 L390.15,575.25 L390.42,577.84 L390.68,576.70 L390.95,574.74 L391.21,579.87 L391.47,581.92 L391.74,579.77 L392.00,574.84" fill="none" stroke="#151515" stroke-width="0.9" stroke-linejoin="round" stroke-linecap="butt"/>
<path d="M392.00,609.54 L392.28,611.58 L392.56,606.46 L392.84,609.81 L393.12,611.83 L393.40,609.47" fill="none" stroke="#151515" stroke-width="0.9" stroke-linejoin="round" stroke-linecap="butt"/>
<path d="M393.40,576.39 L393.65,572.48 L393.90,578.23 L394.15,573.32 L394.40,576.37 L394.65,571.36 L394.90,579.54 L395.15,573.97 L395.40,573.08 L395.65,577.70 L395.90,573.40 L396.15,572.01 L396.40,575.44" fill="none" stroke="#151515" stroke-width="0.9" stroke-linejoin="round" stroke-linecap="butt"/>
<path d="M396.40,601.26 L396.66,604.84 L396.91,606.16 L397.17,603.99 L397.43,607.94 L397.69,604.21 L397.94,602.31 L398.20,599.13 L398.46,602.96 L398.71,603.23 L398.97,604.87 L399.23,602.06 L399.49,602.48 L399.74,605.33 L400.00,605.68" fill="none" stroke="#151515" stroke-width="0.9" stroke-linejoin="round" stroke-linecap="butt"/>
<path d="M400.00,575.30 L400.27,574.06 L400.55,573.03 L400.82,574.49 L401.10,576.90 L401.38,574.11 L401.65,578.21 L401.93,572.86 L402.20,571.59" fill="none" stroke="#151515" stroke-width="0.9" stroke-linejoin="round" stroke-linecap="butt"/>
<path d="M402.20,612.25 L402.48,608.30 L402.76,607.71 L403.04,607.90 L403.32,607.04 L403.60,603.49" fill="none" stroke="#151515" stroke-width="0.9" stroke-linejoin="round" stroke-linecap="butt"/>
<path d="M403.60,571.69 L403.88,569.89 L404.15,574.58 L404.43,569.09 L404.70,575.55 L404.98,571.78 L405.25,572.21 L405.53,575.16 L405.80,576.13" fill="none" stroke="#151515" stroke-width="0.9" stroke-linejoin="round" stroke-linecap="butt"/>
<path d="M405.80,597.50 L406.05,603.77 L406.30,602.28 L406.55,604.15 L406.80,602.41 L407.05,601.09 L407.30,600.22" fill="none" stroke="#151515" stroke-width="0.9" stroke-linejoin="round" stroke-linecap="butt"/>
<path d="M407.30,573.63 L407.55,572.43 L407.80,571.34 L408.05,577.09 L408.30,576.08 L408.55,572.31 L408.80,575.11" fill="none" stroke="#151515" stroke-width="0.9" stroke-linejoin="round" stroke-linecap="butt"/>
<path d="M408.80,610.80 L409.08,604.46 L409.36,606.57 L409.64,611.64 L409.92,610.24 L410.20,610.20" fill="none" stroke="#151515" stroke-width="0.9" stroke-linejoin="round" stroke-linecap="butt"/>
<path d="M410.20,574.86 L410.46,573.63 L410.72,574.83 L410.98,570.35 L411.24,574.67 L411.49,572.70 L411.75,569.56 L412.01,572.47 L412.27,573.08 L412.53,573.51 L412.79,571.16 L413.05,572.28 L413.31,571.21 L413.56,570.47 L413.82,571.75 L414.08,572.97 L414.34,570.27 L414.60,577.03" fill="none" stroke="#151515" stroke-width="0.9" stroke-linejoin="round" stroke-linecap="butt"/>
<path d="M414.60,581.74 L414.97,584.20 L415.33,581.50 L415.70,590.12 L416.07,588.71 L416.43,589.31 L416.80,590.35 L417.17,593.97 L417.53,591.03 L417.90,593.49 L418.27,595.77 L418.63,594.26 L419.00,596.06" fill="none" stroke="#151515" stroke-width="0.9" stroke-linejoin="round" stroke-linecap="butt"/>
<path d="M419.00,602.37 L419.26,605.62 L419.52,604.35 L419.78,605.29 L420.04,607.11 L420.29,604.57 L420.55,609.81 L420.81,602.60 L421.07,604.96 L421.33,599.98 L421.59,604.78 L421.85,602.42 L422.11,603.79 L422.36,603.02 L422.62,602.01 L422.88,602.73 L423.14,606.53 L423.40,606.89" fill="none" stroke="#151515" stroke-width="0.9" stroke-linejoin="round" stroke-linecap="butt"/>
<path d="M423.40,575.82 L423.68,575.42 L423.96,572.64 L424.24,571.93 L424.52,576.34 L424.80,572.80" fill="none" stroke="#151515" stroke-width="0.9" stroke-linejoin="round" stroke-linecap="butt"/>
<path d="M424.80,600.13 L425.06,597.01 L425.33,602.41 L425.59,602.21 L425.86,601.32 L426.12,601.19 L426.39,595.36 L426.65,601.98 L426.91,601.44 L427.18,599.51 L427.44,599.48 L427.71,600.62 L427.97,600.43 L428.24,599.51 L428.50,601.42" fill="none" stroke="#151515" stroke-width="0.9" stroke-linejoin="round" stroke-linecap="butt"/>
<path d="M428.50,570.25 L428.76,575.08 L429.03,567.50 L429.29,571.72 L429.55,573.74 L429.82,569.32 L430.08,572.83 L430.35,570.82 L430.61,570.01 L430.87,572.32 L431.14,571.21 L431.40,571.21" fill="none" stroke="#151515" stroke-width="0.9" stroke-linejoin="round" stroke-linecap="butt"/>
<path d="M431.40,594.59 L431.77,591.94 L432.13,594.77 L432.50,588.85 L432.87,596.37 L433.23,593.86 L433.60,599.67 L433.97,589.46 L434.33,598.16 L434.70,598.66 L435.07,595.99 L435.43,594.26 L435.80,596.76" fill="none" stroke="#151515" stroke-width="0.9" stroke-linejoin="round" stroke-linecap="butt"/>
<path d="M435.80,601.58 L436.06,594.88 L436.31,603.18 L436.56,598.37 L436.82,601.15 L437.07,597.96 L437.33,598.10 L437.58,597.84 L437.84,598.13 L438.09,599.84 L438.35,600.68 L438.61,601.59 L438.86,596.53 L439.12,600.12 L439.37,603.06 L439.62,597.31 L439.88,598.50 L440.13,603.67 L440.39,597.37 L440.64,599.18 L440.90,602.22" fill="none" stroke="#151515" stroke-width="0.9" stroke-linejoin="round" stroke-linecap="butt"/>
<path d="M440.90,567.96 L441.18,568.12 L441.46,569.64 L441.74,568.72 L442.02,567.16 L442.30,569.01" fill="none" stroke="#151515" stroke-width="0.9" stroke-linejoin="round" stroke-linecap="butt"/>
<path d="M442.30,581.34 L442.68,584.64 L443.05,588.57 L443.43,596.77 L443.80,593.37 L444.18,594.24 L444.55,597.96 L444.93,601.40 L445.30,605.03" fill="none" stroke="#151515" stroke-width="0.9" stroke-linejoin="round" stroke-linecap="butt"/>
<path d="M445.30,609.18 L445.55,610.24 L445.80,607.78 L446.06,608.01 L446.31,608.96 L446.56,614.57 L446.81,613.43 L447.06,607.64 L447.31,602.16 L447.57,610.33 L447.82,604.10 L448.07,607.95 L448.32,609.58 L448.57,607.88 L448.82,608.95 L449.08,609.87 L449.33,611.70 L449.58,607.62 L449.83,608.02 L450.08,606.29 L450.33,612.76 L450.59,610.49 L450.84,604.61 L451.09,607.33 L451.34,602.31 L451.59,605.61 L451.84,607.10 L452.10,606.10 L452.35,607.06 L452.60,609.96" fill="none" stroke="#151515" stroke-width="0.9" stroke-linejoin="round" stroke-linecap="butt"/>
<path d="M452.60,580.39 L453.02,577.33 L453.44,577.09 L453.86,576.65 L454.28,574.40 L454.70,568.27" fill="none" stroke="#151515" stroke-width="0.9" stroke-linejoin="round" stroke-linecap="butt"/>
<path d="M454.70,574.25 L454.96,565.63 L455.22,570.36 L455.48,569.89 L455.74,566.92 L456.00,568.99 L456.26,572.06 L456.52,568.66 L456.78,572.98 L457.04,572.49 L457.30,566.79 L457.56,569.63 L457.82,571.26 L458.08,573.04 L458.34,570.17 L458.60,570.03 L458.86,570.24 L459.12,569.47 L459.38,571.57 L459.64,570.94 L459.90,573.27" fill="none" stroke="#151515" stroke-width="0.9" stroke-linejoin="round" stroke-linecap="butt"/>
<path d="M459.90,572.39 L460.16,573.05 L460.42,573.81 L460.69,572.45 L460.95,575.02 L461.21,573.45 L461.48,570.99 L461.74,572.04 L462.00,573.71" fill="none" stroke="#151515" stroke-width="0.9" stroke-linejoin="round" stroke-linecap="butt"/>
<path d="M462.00,595.01 L462.25,600.53 L462.50,595.35 L462.75,597.62 L463.00,597.02 L463.25,599.13 L463.50,600.68" fill="none" stroke="#151515" stroke-width="0.9" stroke-linejoin="round" stroke-linecap="butt"/>
<path d="M463.50,571.01 L463.75,571.71 L464.00,571.89 L464.25,569.88 L464.50,569.24 L464.75,572.43 L465.00,573.03" fill="none" stroke="#151515" stroke-width="0.9" stroke-linejoin="round" stroke-linecap="butt"/>
<path d="M465.00,595.13 L465.25,593.70 L465.50,595.70 L465.75,595.74 L466.00,595.14 L466.25,596.47 L466.50,599.88 L466.75,593.99 L467.00,594.78 L467.25,598.89 L467.50,599.11 L467.75,595.41 L468.00,596.37 L468.25,601.79 L468.50,600.58 L468.75,600.03 L469.00,597.40 L469.25,596.82 L469.50,597.63 L469.75,596.81 L470.00,598.53" fill="none" stroke="#151515" stroke-width="0.9" stroke-linejoin="round" stroke-linecap="butt"/>
<path d="M470.00,565.91 L470.25,572.96 L470.50,571.88 L470.75,571.02 L471.00,568.91 L471.25,566.97 L471.50,571.64" fill="none" stroke="#151515" stroke-width="0.9" stroke-linejoin="round" stroke-linecap="butt"/>
<path d="M471.50,596.24 L471.75,594.93 L472.00,601.41 L472.25,594.12 L472.50,596.71 L472.75,593.03 L473.00,596.37" fill="none" stroke="#151515" stroke-width="0.9" stroke-linejoin="round" stroke-linecap="butt"/>
<path d="M473.00,575.01 L473.25,575.75 L473.50,572.52 L473.76,570.42 L474.01,569.16 L474.26,572.08 L474.51,576.05 L474.77,572.14 L475.02,575.62 L475.27,573.75 L475.52,571.92 L475.77,571.24 L476.03,572.12 L476.28,570.98 L476.53,570.64 L476.78,570.88 L477.03,570.48 L477.29,568.41 L477.54,572.05 L477.79,569.51 L478.04,572.53 L478.30,571.40 L478.55,570.59 L478.80,570.90" fill="none" stroke="#151515" stroke-width="0.9" stroke-linejoin="round" stroke-linecap="butt"/>
<path d="M478.80,602.04 L479.05,599.63 L479.31,598.44 L479.56,600.99 L479.82,593.88 L480.07,597.38 L480.33,598.28 L480.58,595.09 L480.83,600.61 L481.09,596.96 L481.34,590.66 L481.60,594.74 L481.85,596.16 L482.11,601.68 L482.36,599.05 L482.62,597.70 L482.87,598.64 L483.12,594.28 L483.38,593.55 L483.63,596.87 L483.89,598.93 L484.14,596.87 L484.40,594.42 L484.65,598.30 L484.90,595.93 L485.16,591.78 L485.41,599.59 L485.67,593.39 L485.92,600.52 L486.18,599.08 L486.43,603.38 L486.68,594.75 L486.94,598.09 L487.19,595.66 L487.45,598.40 L487.70,594.82 L487.96,596.16 L488.21,594.78 L488.47,600.73 L488.72,594.92 L488.97,600.98 L489.23,597.44 L489.48,594.20 L489.74,598.16 L489.99,597.24 L490.25,597.69 L490.50,600.20" fill="none" stroke="#151515" stroke-width="0.9" stroke-linejoin="round" stroke-linecap="butt"/>
<path d="M490.50,571.49 L490.76,571.32 L491.03,572.00 L491.29,573.94 L491.55,576.92 L491.82,571.67 L492.08,573.91 L492.35,572.65 L492.61,570.42 L492.87,570.52 L493.14,569.41 L493.40,574.08" fill="none" stroke="#151515" stroke-width="0.9" stroke-linejoin="round" stroke-linecap="butt"/>
<path d="M493.40,599.21 L493.65,600.05 L493.90,602.77 L494.15,600.97 L494.40,601.03 L494.65,602.08 L494.90,602.01 L495.15,599.24 L495.40,605.09 L495.65,603.27 L495.90,600.13 L496.15,601.00 L496.40,603.17 L496.65,598.96 L496.90,598.85 L497.15,603.34 L497.40,603.13 L497.65,600.83 L497.90,602.44 L498.15,601.27 L498.40,599.80 L498.65,596.89 L498.90,602.65 L499.15,595.90 L499.40,599.59 L499.65,598.42 L499.90,606.74 L500.15,606.32 L500.40,602.49 L500.65,600.82 L500.90,601.09 L501.15,600.54 L501.40,608.78 L501.65,600.11 L501.90,596.84 L502.15,601.11 L502.40,600.73 L502.65,599.98 L502.90,603.73 L503.15,605.78 L503.40,597.93 L503.65,605.54 L503.90,607.20 L504.15,598.91 L504.40,600.26" fill="none" stroke="#151515" stroke-width="0.9" stroke-linejoin="round" stroke-linecap="butt"/>
<path d="M504.40,574.11 L504.65,573.20 L504.91,569.49 L505.16,571.67 L505.42,569.93 L505.67,577.19 L505.93,570.05 L506.19,572.30 L506.44,572.30 L506.69,570.30 L506.95,571.05 L507.20,572.50 L507.46,572.59 L507.71,579.82 L507.97,569.97 L508.23,570.07 L508.48,570.41 L508.74,568.96 L508.99,569.82 L509.25,571.71 L509.50,572.34" fill="none" stroke="#151515" stroke-width="0.9" stroke-linejoin="round" stroke-linecap="butt"/>
<path d="M509.50,577.45 L509.76,578.70 L510.01,578.62 L510.27,580.44 L510.53,577.22 L510.79,576.13 L511.04,578.43 L511.30,575.96 L511.56,579.47 L511.81,578.13 L512.07,581.35 L512.33,576.14 L512.59,577.09 L512.84,581.16 L513.10,579.47" fill="none" stroke="#151515" stroke-width="0.9" stroke-linejoin="round" stroke-linecap="butt"/>
<path d="M513.10,580.39 L513.47,582.39 L513.84,584.34 L514.21,585.09 L514.58,590.96 L514.94,584.93 L515.31,589.14 L515.68,590.14 L516.05,588.26 L516.42,595.13 L516.79,593.25 L517.16,594.92 L517.52,597.08 L517.89,599.04 L518.26,598.12 L518.63,600.56 L519.00,597.59" fill="none" stroke="#151515" stroke-width="0.9" stroke-linejoin="round" stroke-linecap="butt"/>
<path d="M519.00,602.86 L519.26,603.46 L519.51,599.23 L519.77,601.30 L520.03,599.64 L520.29,605.93 L520.54,599.32 L520.80,595.61 L521.06,601.59 L521.31,598.86 L521.57,607.97 L521.83,598.39 L522.09,606.30 L522.34,604.16 L522.60,595.82" fill="none" stroke="#151515" stroke-width="0.9" stroke-linejoin="round" stroke-linecap="butt"/>
<path d="M522.60,572.87 L522.88,572.11 L523.15,572.38 L523.42,576.30 L523.70,575.92 L523.98,571.11 L524.25,575.06 L524.52,573.52 L524.80,572.21" fill="none" stroke="#151515" stroke-width="0.9" stroke-linejoin="round" stroke-linecap="butt"/>
<path d="M524.80,604.32 L525.05,603.49 L525.31,606.09 L525.56,601.57 L525.82,604.47 L526.07,597.63 L526.32,606.31 L526.58,599.44 L526.83,600.52 L527.08,603.59 L527.34,602.73 L527.59,603.85 L527.85,602.21 L528.10,604.41 L528.35,607.02 L528.61,603.07 L528.86,599.41 L529.12,598.89 L529.37,603.62 L529.62,601.46 L529.88,603.75 L530.13,603.24 L530.38,604.25 L530.64,609.24 L530.89,604.47 L531.15,605.29 L531.40,602.26" fill="none" stroke="#151515" stroke-width="0.9" stroke-linejoin="round" stroke-linecap="butt"/>
<path d="M531.40,570.41 L531.68,572.97 L531.96,572.52 L532.24,569.37 L532.52,574.29 L532.80,576.19" fill="none" stroke="#151515" stroke-width="0.9" stroke-linejoin="round" stroke-linecap="butt"/>
<path d="M532.80,603.72 L533.05,602.65 L533.30,601.22 L533.55,603.47 L533.80,601.43 L534.05,601.12 L534.30,602.35 L534.55,605.11 L534.80,600.60 L535.05,601.08 L535.30,599.08 L535.55,603.30 L535.80,596.79 L536.05,604.05 L536.30,598.73 L536.55,604.73 L536.80,606.29 L537.05,601.47 L537.30,599.11 L537.55,600.55 L537.80,602.60 L538.05,601.34 L538.30,601.68 L538.55,603.76 L538.80,606.93 L539.05,603.52 L539.30,602.05 L539.55,604.75 L539.80,603.55 L540.05,603.09 L540.30,601.84 L540.55,600.84 L540.80,599.41 L541.05,604.53 L541.30,606.38 L541.55,600.78 L541.80,604.50 L542.05,610.67 L542.30,604.39 L542.55,606.13 L542.80,601.68 L543.05,601.32 L543.30,605.73 L543.55,600.71 L543.80,602.65" fill="none" stroke="#151515" stroke-width="0.9" stroke-linejoin="round" stroke-linecap="butt"/>
<path d="M543.80,571.78 L544.05,573.94 L544.31,571.35 L544.56,570.23 L544.82,570.46 L545.07,572.21 L545.32,574.62 L545.58,569.92 L545.83,578.57 L546.08,571.58 L546.34,570.83 L546.59,569.89 L546.85,571.73 L547.10,572.93 L547.35,573.91 L547.61,575.35 L547.86,574.92 L548.12,567.83 L548.37,569.31 L548.62,569.74 L548.88,569.90 L549.13,575.68 L549.38,572.78 L549.64,570.71 L549.89,574.23 L550.15,570.31 L550.40,575.80" fill="none" stroke="#151515" stroke-width="0.9" stroke-linejoin="round" stroke-linecap="butt"/>
<path d="M550.40,605.82 L550.65,606.39 L550.91,610.06 L551.16,606.12 L551.41,606.97 L551.66,603.73 L551.92,604.11 L552.17,605.20 L552.42,608.03 L552.68,607.91 L552.93,606.71 L553.18,604.61 L553.44,610.30 L553.69,610.46 L553.94,606.94 L554.19,602.58 L554.45,605.95 L554.70,607.90" fill="none" stroke="#151515" stroke-width="0.9" stroke-linejoin="round" stroke-linecap="butt"/>
<path d="M554.70,572.10 L554.95,570.40 L555.20,570.25 L555.45,568.91 L555.70,571.98 L555.95,572.15 L556.20,568.57" fill="none" stroke="#151515" stroke-width="0.9" stroke-linejoin="round" stroke-linecap="butt"/>
<path d="M556.20,602.53 L556.45,598.63 L556.70,601.05 L556.95,605.57 L557.20,609.18 L557.45,601.85 L557.70,606.35 L557.95,604.39 L558.20,606.78 L558.45,601.61 L558.70,603.94 L558.95,607.98 L559.20,603.10 L559.45,601.23 L559.70,605.01 L559.95,603.15 L560.20,603.08 L560.45,604.59 L560.70,608.92 L560.95,604.46 L561.20,605.47 L561.45,606.18 L561.70,607.15 L561.95,603.53 L562.20,601.50 L562.45,600.22 L562.70,605.29 L562.95,603.88 L563.20,607.14 L563.45,605.03 L563.70,601.08 L563.95,600.13 L564.20,607.45" fill="none" stroke="#151515" stroke-width="0.9" stroke-linejoin="round" stroke-linecap="butt"/>
<path d="M564.20,576.81 L564.46,574.47 L564.71,576.97 L564.97,570.33 L565.22,575.46 L565.48,577.91 L565.73,568.73 L565.99,572.89 L566.24,572.40 L566.50,577.00 L566.75,569.59 L567.00,568.54 L567.26,572.79 L567.51,575.94 L567.77,576.47 L568.02,576.46 L568.28,578.04 L568.53,575.91 L568.79,574.91 L569.04,575.19 L569.30,576.57" fill="none" stroke="#151515" stroke-width="0.9" stroke-linejoin="round" stroke-linecap="butt"/>
<path d="M569.30,605.06 L569.55,606.07 L569.81,603.61 L570.06,606.12 L570.32,608.49 L570.57,607.69 L570.83,605.82 L571.08,610.45 L571.33,602.97 L571.59,605.14 L571.84,604.15 L572.10,605.31 L572.35,600.40 L572.61,604.47 L572.86,604.99 L573.12,600.98 L573.37,601.86 L573.62,604.76 L573.88,605.20 L574.13,607.08 L574.39,609.51 L574.64,606.13 L574.90,606.04 L575.15,604.59 L575.40,607.43 L575.66,604.99 L575.91,606.04 L576.17,602.37 L576.42,604.57 L576.68,604.60 L576.93,609.13 L577.18,601.48 L577.44,605.22 L577.69,602.71 L577.95,604.29 L578.20,601.55 L578.46,604.11 L578.71,607.05 L578.97,606.73 L579.22,609.28 L579.47,602.32 L579.73,611.50 L579.98,606.28 L580.24,602.03 L580.49,602.76 L580.75,605.24 L581.00,603.59" fill="none" stroke="#151515" stroke-width="0.9" stroke-linejoin="round" stroke-linecap="butt"/>
<path d="M581.00,580.95 L581.25,580.57 L581.51,577.36 L581.76,575.49 L582.02,577.71 L582.27,580.17 L582.52,580.36 L582.78,577.00 L583.03,579.67 L583.28,584.53 L583.54,579.42 L583.79,577.81 L584.05,579.22 L584.30,581.52 L584.55,576.02 L584.81,579.70 L585.06,577.26 L585.32,576.32 L585.57,576.71 L585.82,577.13 L586.08,578.52 L586.33,580.84 L586.58,573.62 L586.84,580.14 L587.09,581.19 L587.35,582.01 L587.60,577.84" fill="none" stroke="#151515" stroke-width="0.9" stroke-linejoin="round" stroke-linecap="butt"/>
<path d="M587.60,610.38 L587.88,609.78 L588.15,609.40 L588.42,610.45 L588.70,607.70 L588.98,611.66 L589.25,601.89 L589.52,607.44 L589.80,606.44" fill="none" stroke="#151515" stroke-width="0.9" stroke-linejoin="round" stroke-linecap="butt"/>
<path d="M589.80,572.74 L590.05,574.58 L590.30,574.00 L590.56,576.08 L590.81,575.75 L591.06,577.00 L591.31,572.11 L591.57,573.73 L591.82,573.96 L592.07,575.27 L592.32,575.86 L592.57,575.63 L592.83,576.49 L593.08,575.27 L593.33,573.87 L593.58,577.95 L593.83,573.52 L594.09,578.50 L594.34,578.99 L594.59,572.22 L594.84,574.74 L595.10,579.24 L595.35,569.29 L595.60,574.84" fill="none" stroke="#151515" stroke-width="0.9" stroke-linejoin="round" stroke-linecap="butt"/>
<path d="M595.60,596.84 L595.85,600.73 L596.10,599.76 L596.35,604.37 L596.60,596.36" fill="none" stroke="#151515" stroke-width="0.9" stroke-linejoin="round" stroke-linecap="butt"/>
<path d="M105.90,677.62 L106.25,682.77 L106.60,676.57 L106.95,684.32 L107.30,681.29 L107.65,682.49 L108.00,691.06 L108.31,683.89 L108.63,681.97 L108.94,683.35 L109.26,683.46 L109.57,678.28 L109.89,679.14 L110.20,672.59 L110.51,673.81 L110.83,672.72 L111.14,668.84 L111.46,667.40 L111.77,666.15 L112.09,670.03 L112.40,669.41 L112.71,670.80 L113.03,674.01 L113.34,671.12 L113.66,677.27 L113.97,680.24 L114.29,683.87 L114.60,680.32 L114.92,679.90 L115.24,672.46 L115.57,675.65 L115.89,667.95 L116.21,668.65 L116.53,675.28 L116.86,662.10 L117.18,670.36 L117.50,666.81 L117.81,666.51 L118.13,671.00 L118.44,673.11 L118.76,676.74 L119.07,674.27 L119.39,674.92 L119.70,676.74 L120.01,675.86 L120.33,679.48 L120.64,677.37 L120.96,684.09 L121.27,674.52 L121.59,677.57 L121.90,678.46 L122.21,672.50 L122.53,684.00 L122.84,667.25 L123.16,672.39 L123.47,669.49 L123.79,674.82 L124.10,660.35 L124.41,672.20 L124.73,667.53 L125.04,670.94 L125.36,670.65 L125.67,676.56 L125.99,671.97 L126.30,677.03 L126.62,677.69 L126.94,681.93 L127.27,666.69 L127.59,679.24 L127.91,676.47 L128.23,670.79 L128.56,672.66 L128.88,669.23 L129.20,675.60 L129.51,671.56 L129.83,670.95 L130.14,671.75 L130.46,672.69 L130.77,673.61 L131.09,672.07 L131.40,682.90 L131.73,660.14 L132.07,645.11 L132.40,647.68 L132.80,655.40 L133.20,664.97 L133.60,670.80 L133.95,673.55 L134.30,677.73 L134.65,682.44 L135.00,680.18 L135.30,679.99 L135.60,687.42 L135.90,682.18 L136.20,676.59 L136.50,687.40 L136.80,681.70 L137.10,676.62 L137.40,674.19 L137.70,678.75 L138.00,674.47 L138.32,674.36 L138.64,674.20 L138.97,677.55 L139.29,683.69 L139.61,679.10 L139.93,676.31 L140.26,684.16 L140.58,682.77 L140.90,686.07 L141.22,688.10 L141.54,684.25 L141.87,685.14 L142.19,686.29 L142.51,683.40 L142.83,690.34 L143.16,693.54 L143.48,690.28 L143.80,689.69 L144.12,689.94 L144.44,688.49 L144.77,688.73 L145.09,690.43 L145.41,689.25 L145.73,690.95 L146.06,687.39 L146.38,694.27 L146.70,693.57 L147.02,689.16 L147.34,684.94 L147.67,692.41 L147.99,695.86 L148.31,689.29 L148.63,689.82 L148.96,689.21 L149.28,693.04 L149.60,687.39 L149.91,693.44 L150.23,688.64 L150.54,692.40 L150.86,688.95 L151.17,687.64 L151.49,682.99 L151.80,685.26 L152.10,687.59 L152.40,691.60 L152.70,691.07 L153.00,688.75 L153.30,693.39 L153.65,697.16 L154.00,695.09 L154.35,695.91 L154.70,697.86 L155.00,698.46 L155.30,694.03 L155.60,685.54 L155.90,686.47 L156.20,680.07 L156.50,672.43 L156.80,672.47 L157.10,664.33 L157.40,652.36 L157.70,648.37 L158.05,651.28 L158.40,648.88 L158.75,652.12 L159.10,656.27 L159.40,651.72 L159.70,662.71 L160.00,667.91 L160.30,670.91 L160.60,668.44 L160.95,668.23 L161.30,658.36 L161.65,657.39 L162.00,651.66 L162.30,651.80 L162.60,649.92 L162.90,651.97 L163.20,658.34 L163.50,653.84 L163.81,659.63 L164.13,660.72 L164.44,659.08 L164.76,669.21 L165.07,662.35 L165.39,670.46 L165.70,657.34 L166.00,661.83 L166.30,678.06 L166.60,682.14 L166.90,684.18 L167.20,690.32 L167.55,673.80 L167.90,667.91 L168.25,656.31 L168.60,648.85 L168.91,654.28 L169.23,653.12 L169.54,655.88 L169.86,653.91 L170.17,656.48 L170.49,660.01 L170.80,660.34 L171.11,663.93 L171.43,654.98 L171.74,662.72 L172.06,651.28 L172.37,656.55 L172.69,648.64 L173.00,655.20 L173.31,653.19 L173.63,657.21 L173.94,661.52 L174.26,659.96 L174.57,661.70 L174.89,661.48 L175.20,675.65 L175.51,668.09 L175.83,667.40 L176.14,668.27 L176.46,674.09 L176.77,660.41 L177.09,666.09 L177.40,662.85 L177.71,664.34 L178.03,654.74 L178.34,657.83 L178.66,660.37 L178.97,661.14 L179.29,659.60 L179.60,649.59 L179.91,654.77 L180.23,656.30 L180.54,654.08 L180.86,655.95 L181.17,665.50 L181.49,665.85 L181.80,666.62 L182.15,668.80 L182.50,658.83 L182.85,661.59 L183.20,657.40 L183.55,654.73 L183.90,654.17 L184.21,652.68 L184.53,652.58 L184.84,652.16 L185.16,657.43 L185.47,649.37 L185.79,653.46 L186.10,651.67 L186.40,649.43 L186.70,654.35 L187.00,649.74 L187.30,657.63 L187.60,651.95 L187.90,654.05 L188.20,657.84 L188.50,660.59 L188.80,661.87 L189.10,662.84 L189.42,657.80 L189.74,653.95 L190.07,657.77 L190.39,655.63 L190.71,650.06 L191.03,655.31 L191.36,651.38 L191.68,646.14 L192.00,649.60 L192.32,644.41 L192.64,646.74 L192.97,651.90 L193.29,646.05 L193.61,652.28 L193.93,648.37 L194.26,656.28 L194.58,652.12 L194.90,656.02 L195.20,656.13 L195.50,665.91 L195.80,676.14 L196.10,680.31 L196.40,678.35 L196.75,680.82 L197.10,673.78 L197.45,662.55 L197.80,661.72 L198.11,654.03 L198.43,658.07 L198.74,662.87 L199.06,664.27 L199.37,664.90 L199.69,657.55 L200.00,655.95 L200.31,663.08 L200.62,656.63 L200.94,660.80 L201.25,656.64 L201.56,664.36 L201.88,663.23 L202.19,662.14 L202.50,660.06 L202.81,659.91 L203.12,658.49 L203.44,660.55 L203.75,659.85 L204.06,660.31 L204.38,657.04 L204.69,664.71 L205.00,658.96 L205.31,662.93 L205.62,662.90 L205.94,655.57 L206.25,653.01 L206.56,663.21 L206.88,657.81 L207.19,659.59 L207.50,658.62 L207.81,660.13 L208.12,655.83 L208.44,659.71 L208.75,658.67 L209.06,660.39 L209.38,652.69 L209.69,663.60 L210.00,662.13 L210.31,654.82 L210.62,657.88 L210.94,660.17 L211.25,661.89 L211.56,659.44 L211.88,663.83 L212.19,658.89 L212.50,655.10 L212.81,655.89 L213.12,660.40 L213.44,655.48 L213.75,660.11 L214.06,660.41 L214.38,658.63 L214.69,659.77 L215.00,655.41 L215.33,657.97 L215.67,657.99 L216.00,659.93 L216.33,658.68 L216.67,664.11 L217.00,664.36 L217.30,662.35 L217.60,666.90 L217.90,667.15 L218.20,663.64 L218.50,668.65 L218.80,666.40 L219.10,665.95 L219.40,659.55 L219.70,655.73 L220.00,661.90 L220.31,660.86 L220.62,662.09 L220.94,660.85 L221.25,663.53 L221.56,658.08 L221.88,661.14 L222.19,655.64 L222.50,650.65 L222.81,656.80 L223.12,663.22 L223.44,652.24 L223.75,661.21 L224.06,655.25 L224.38,656.02 L224.69,657.34 L225.00,657.72 L225.33,656.69 L225.67,663.43 L226.00,667.51 L226.33,671.84 L226.67,669.43 L227.00,680.27 L227.33,686.15 L227.67,692.54 L228.00,684.44 L228.30,686.99 L228.60,677.48 L228.90,682.49 L229.20,680.49 L229.50,672.09 L229.83,665.27 L230.17,665.97 L230.50,662.14 L230.80,656.77 L231.10,658.04 L231.40,649.81 L231.70,655.46 L232.00,657.83 L232.30,657.32 L232.60,661.65 L232.90,651.85 L233.20,647.54 L233.50,656.20 L233.80,652.12 L234.10,654.57 L234.40,655.51 L234.70,654.58 L235.00,656.90 L235.31,656.79 L235.62,646.72 L235.94,652.35 L236.25,659.55 L236.56,651.55 L236.88,656.41 L237.19,653.12 L237.50,652.07 L237.81,659.07 L238.12,657.42 L238.44,653.23 L238.75,657.33 L239.06,649.97 L239.38,652.16 L239.69,657.88 L240.00,655.13 L240.31,651.08 L240.62,655.90 L240.94,655.18 L241.25,658.12 L241.56,656.69 L241.88,652.19 L242.19,651.17 L242.50,652.03 L242.81,651.41 L243.12,656.85 L243.44,656.96 L243.75,655.86 L244.06,652.23 L244.38,649.79 L244.69,653.38 L245.00,648.81 L245.31,651.18 L245.62,645.08 L245.94,649.68 L246.25,656.40 L246.56,648.38 L246.88,647.18 L247.19,652.07 L247.50,658.67 L247.81,658.31 L248.12,652.53 L248.44,652.50 L248.75,654.12 L249.06,651.71 L249.38,655.37 L249.69,654.60 L250.00,650.98 L250.31,653.59 L250.62,654.25 L250.94,651.76 L251.25,650.44 L251.56,656.89 L251.88,659.82 L252.19,651.96 L252.50,651.06 L252.81,653.77 L253.12,650.85 L253.44,648.53 L253.75,655.48 L254.06,646.77 L254.38,647.39 L254.69,647.18 L255.00,645.99 L255.33,654.52 L255.67,663.62 L256.00,672.90 L256.50,679.25 L256.83,671.45 L257.17,661.41 L257.50,659.79 L257.81,655.67 L258.12,657.42 L258.44,659.95 L258.75,656.19 L259.06,653.66 L259.38,650.69 L259.69,652.05 L260.00,651.38 L260.31,648.00 L260.62,649.59 L260.92,654.46 L261.23,645.97 L261.54,650.26 L261.85,647.96 L262.15,657.33 L262.46,654.29 L262.77,654.13 L263.08,653.89 L263.38,653.67 L263.69,653.84 L264.00,647.61 L264.33,655.38 L264.67,658.02 L265.00,652.64 L265.33,661.80 L265.67,662.77 L266.00,656.82 L266.33,661.23 L266.67,662.62 L267.00,662.71 L267.33,666.66 L267.67,661.83 L268.00,666.24 L268.31,667.46 L268.62,668.85 L268.92,666.24 L269.23,664.95 L269.54,667.81 L269.85,658.39 L270.15,668.02 L270.46,663.49 L270.77,659.98 L271.08,662.46 L271.38,657.38 L271.69,656.36 L272.00,661.89 L272.30,660.56 L272.60,665.89 L272.90,660.59 L273.20,659.40 L273.50,660.74 L273.80,670.03 L274.10,664.49 L274.40,662.52 L274.70,661.43 L275.00,661.26 L275.30,664.14 L275.60,665.85 L275.90,668.01 L276.20,667.70 L276.50,664.42 L276.80,660.96 L277.10,659.97 L277.40,654.73 L277.70,658.84 L278.00,663.43 L278.33,658.85 L278.67,659.25 L279.00,651.42 L279.33,657.05 L279.67,653.00 L280.00,650.14 L280.33,650.86 L280.67,641.40 L281.00,646.60 L281.33,644.95 L281.67,653.66 L282.00,646.63 L282.30,645.39 L282.60,647.51 L282.90,643.09 L283.20,647.44 L283.50,642.59 L283.80,643.28 L284.10,640.97 L284.40,643.82 L284.70,637.26 L285.00,642.38 L285.33,640.53 L285.67,643.43 L286.00,642.20 L286.33,646.12 L286.67,647.21 L287.00,649.18 L287.31,648.57 L287.62,649.12 L287.94,649.80 L288.25,646.97 L288.56,645.33 L288.88,645.07 L289.19,648.92 L289.50,646.75 L289.81,649.54 L290.12,647.47 L290.44,645.29 L290.75,649.06 L291.06,651.07 L291.38,646.76 L291.69,645.18 L292.00,645.31 L292.31,648.93 L292.62,646.14 L292.92,646.65 L293.23,648.98 L293.54,647.79 L293.85,648.15 L294.15,646.99 L294.46,646.95 L294.77,648.71 L295.08,648.85 L295.38,649.88 L295.69,647.85 L296.00,649.69 L296.31,649.80 L296.62,648.86 L296.92,649.68 L297.23,650.41 L297.54,648.63 L297.85,648.23 L298.15,645.98 L298.46,648.43 L298.77,647.43 L299.08,646.84 L299.38,645.66 L299.69,648.30 L300.00,651.45 L300.25,645.93 L300.50,646.34 L300.75,645.05 L301.00,645.40 L301.25,645.40 L301.50,645.49 L301.75,647.63 L302.00,644.80 L302.25,646.84 L302.50,645.45 L302.75,645.76 L303.00,647.26 L303.25,644.92 L303.50,645.64 L303.75,645.00 L304.00,646.94 L304.25,651.48 L304.50,653.07 L304.75,647.86 L305.00,645.85 L305.25,645.17 L305.50,646.74 L305.75,646.51 L306.00,646.25 L306.25,645.50 L306.50,646.49 L306.75,647.63 L307.00,646.41 L307.25,645.76 L307.50,644.99 L307.75,646.37 L308.00,645.43 L308.25,647.29 L308.50,644.94 L308.75,645.34 L309.00,645.32 L309.25,645.85 L309.50,648.14 L309.75,648.96 L310.00,648.17 L310.25,647.35 L310.50,647.16 L310.75,645.95 L311.00,645.94 L311.25,645.33 L311.50,644.85 L311.75,645.62 L312.00,645.14 L312.25,645.00 L312.50,645.42 L312.75,648.08 L313.00,648.43 L313.25,647.59 L313.50,645.26 L313.75,645.75 L314.00,651.50 L314.25,645.82 L314.50,647.30 L314.75,646.29 L315.00,647.59 L315.25,647.27 L315.50,646.81 L315.75,647.71 L316.00,646.59 L316.25,647.80 L316.50,647.62 L316.75,645.51 L317.00,646.50 L317.25,647.26 L317.50,645.05 L317.75,647.51 L318.00,645.34 L318.25,647.15 L318.50,645.79 L318.75,645.26 L319.00,648.60 L319.25,646.56 L319.50,649.38 L319.75,648.70 L320.00,650.12 L320.25,646.60 L320.50,645.19 L320.75,647.43 L321.00,646.38 L321.25,650.65 L321.50,645.18 L321.75,646.94 L322.00,648.96 L322.25,645.88 L322.50,647.20 L322.75,648.34 L323.00,646.55 L323.25,646.13 L323.50,647.32 L323.75,648.42 L324.00,650.07 L324.25,645.48 L324.50,645.90 L324.75,647.48 L325.00,648.04 L325.25,648.73 L325.50,648.37 L325.75,647.88 L326.00,644.93 L326.25,645.15 L326.50,646.33 L326.75,645.15 L327.00,645.16 L327.25,647.69 L327.50,645.49 L327.75,648.19 L328.00,645.24 L328.25,645.52 L328.50,645.54 L328.75,646.61 L329.00,644.85 L329.25,645.58 L329.50,647.40 L329.75,649.92 L330.00,647.68 L330.25,648.10 L330.50,646.41 L330.75,647.68 L331.00,648.51 L331.25,645.20 L331.50,648.57 L331.75,645.58 L332.00,646.95 L332.25,646.42 L332.50,646.41 L332.75,648.40 L333.00,646.83 L333.25,646.12 L333.50,651.09 L333.75,646.73 L334.00,647.45 L334.25,645.17 L334.50,651.78 L334.75,646.30 L335.00,646.90 L335.25,644.96 L335.50,647.89 L335.75,647.12 L336.00,650.04 L336.25,648.83 L336.50,646.24 L336.75,645.59 L337.00,645.64 L337.25,646.69 L337.50,645.87 L337.75,647.17 L338.00,644.81 L338.25,652.08 L338.50,645.13 L338.75,645.81 L339.00,646.73 L339.25,650.77 L339.50,645.76 L339.75,645.04 L340.00,645.17 L340.25,648.05 L340.50,646.20 L340.75,645.18 L341.00,648.69 L341.25,644.98 L341.50,648.93 L341.75,646.28 L342.00,647.14 L342.25,649.56 L342.50,647.29 L342.75,645.35 L343.00,646.90 L343.25,644.97 L343.50,646.49 L343.75,646.53 L344.00,646.99 L344.25,650.55 L344.50,644.86 L344.75,647.23 L345.00,648.49 L345.25,646.96 L345.50,645.47 L345.75,648.11 L346.00,647.81 L346.25,645.94 L346.50,649.81 L346.75,648.17 L347.00,649.65 L347.25,645.93 L347.50,645.05 L347.75,645.62 L348.00,650.30 L348.25,645.72 L348.50,648.75 L348.75,645.01 L349.00,647.51 L349.25,646.58 L349.50,646.66 L349.75,646.15 L350.00,645.82 L350.25,647.03 L350.50,649.57 L350.75,646.82 L351.00,646.84 L351.25,645.10 L351.50,645.06 L351.75,647.16 L352.00,647.59 L352.25,645.39 L352.50,650.19 L352.75,650.20 L353.00,645.53 L353.25,645.46 L353.50,644.96 L353.75,645.70 L354.00,647.27 L354.25,645.09 L354.50,646.86 L354.75,646.64 L355.00,646.22 L355.25,646.48 L355.50,647.43 L355.75,647.51 L356.00,645.91 L356.25,646.26 L356.50,645.49 L356.75,645.62 L357.00,647.98 L357.25,645.40 L357.50,645.19 L357.75,649.67 L358.00,648.47 L358.25,646.22 L358.50,646.93 L358.75,646.85 L359.00,646.59 L359.25,649.30 L359.50,651.68 L359.75,645.22 L360.00,645.19 L360.25,647.35 L360.50,647.44 L360.75,647.56 L361.00,648.75 L361.25,645.32 L361.50,644.98 L361.75,656.29 L362.00,649.67 L362.25,647.39 L362.50,647.80 L362.75,646.48 L363.00,645.67 L363.25,650.31 L363.50,648.16 L363.75,645.30 L364.00,649.83 L364.25,645.80 L364.50,648.60 L364.75,645.23 L365.00,646.48 L365.25,650.12 L365.50,646.57 L365.75,646.47 L366.00,647.46 L366.25,648.12 L366.50,646.85 L366.75,645.72 L367.00,645.82 L367.25,649.53 L367.50,647.04 L367.75,646.15 L368.00,647.77 L368.25,645.52 L368.50,645.24 L368.75,645.57 L369.00,645.67 L369.25,646.57 L369.50,645.48 L369.75,645.86 L370.00,646.59 L370.25,645.57 L370.50,646.50 L370.75,647.93 L371.00,647.35 L371.25,646.80 L371.50,645.63 L371.75,645.11 L372.00,648.21 L372.25,645.01 L372.50,645.52 L372.75,646.49 L373.00,649.65 L373.25,651.84 L373.50,645.29 L373.75,647.11 L374.00,647.28 L374.25,646.79 L374.50,649.83 L374.75,646.07 L375.00,649.00 L375.25,647.21 L375.50,645.03 L375.75,648.09 L376.00,647.23 L376.25,646.95 L376.50,648.86 L376.75,646.96 L377.00,646.55 L377.25,647.19 L377.50,645.88 L377.75,647.96 L378.00,646.95 L378.25,645.56 L378.50,646.15 L378.75,645.86 L379.00,645.48 L379.25,645.34 L379.50,646.37 L379.75,644.85 L380.00,649.44 L380.25,647.23 L380.50,646.71 L380.75,645.64 L381.00,649.48 L381.25,649.05 L381.50,645.31 L381.75,651.44 L382.00,646.53 L382.25,644.92 L382.50,645.87 L382.75,648.89 L383.00,646.05 L383.25,648.95 L383.50,647.08 L383.75,645.17 L384.00,645.82 L384.25,646.59 L384.50,647.75 L384.75,647.93 L385.00,649.02 L385.25,646.86 L385.50,647.01 L385.75,646.12 L386.00,645.94 L386.25,646.18 L386.50,649.63 L386.75,646.26 L387.00,647.99 L387.25,645.70 L387.50,645.25 L387.75,646.26 L388.00,649.04 L388.25,645.21 L388.50,646.53 L388.75,647.89 L389.00,648.62 L389.25,650.86 L389.50,645.37 L389.75,647.33 L390.00,646.36 L390.25,648.95 L390.50,648.86 L390.75,646.31 L391.00,645.98 L391.25,645.02 L391.50,645.76 L391.75,647.45 L392.00,645.25 L392.25,647.62 L392.50,645.14 L392.75,647.47 L393.00,647.73 L393.25,646.24 L393.50,645.40 L393.75,644.89 L394.00,646.65 L394.25,645.66 L394.50,647.02 L394.75,648.41 L395.00,645.14 L395.25,645.67 L395.50,649.61 L395.75,648.28 L396.00,646.05 L396.25,645.31 L396.50,651.44 L396.75,652.21 L397.00,646.75 L397.25,645.05 L397.50,651.86 L397.75,645.01 L398.00,645.48 L398.25,645.26 L398.50,646.97 L398.75,645.18 L399.00,645.59 L399.25,645.60 L399.50,646.45 L399.75,645.18 L400.00,649.17 L400.25,645.66 L400.50,648.18 L400.75,646.73 L401.00,645.78 L401.25,644.84 L401.50,648.41 L401.75,646.73 L402.00,651.16 L402.25,645.56 L402.50,644.95 L402.75,647.74 L403.00,647.31 L403.25,648.28 L403.50,645.49 L403.75,647.05 L404.00,647.88 L404.25,646.61 L404.50,646.13 L404.75,645.74 L405.00,647.30 L405.25,647.04 L405.50,648.89 L405.75,645.85 L406.00,645.12 L406.25,646.85 L406.50,645.97 L406.75,648.15 L407.00,648.32 L407.25,647.49 L407.50,647.57 L407.75,644.85 L408.00,647.30 L408.25,648.07 L408.50,648.41 L408.75,647.75 L409.00,647.72 L409.25,648.23 L409.50,650.02 L409.75,648.33 L410.00,647.11 L410.25,646.34 L410.50,646.11 L410.75,647.19 L411.00,651.44 L411.25,645.67 L411.50,650.14 L411.75,649.48 L412.00,646.28 L412.25,646.06 L412.50,645.52 L412.75,650.35 L413.00,645.49 L413.25,647.98 L413.50,646.99 L413.75,644.90 L414.00,644.89 L414.25,649.61 L414.50,645.23 L414.75,646.24 L415.00,647.65 L415.25,646.51 L415.50,650.09 L415.75,646.75 L416.00,646.44 L416.25,645.38 L416.50,645.43 L416.75,645.86 L417.00,646.93 L417.25,647.93 L417.50,651.83 L417.75,647.19 L418.00,645.92 L418.25,646.83 L418.50,647.36 L418.75,645.51 L419.00,649.30 L419.25,645.18 L419.50,646.11 L419.75,644.94 L420.00,647.33 L420.25,645.13 L420.50,646.55 L420.75,650.17 L421.00,647.82 L421.25,645.20 L421.50,645.16 L421.75,646.43 L422.00,645.88 L422.25,646.00 L422.50,647.66 L422.75,646.33 L423.00,650.00 L423.25,649.87 L423.50,648.21 L423.75,647.51 L424.00,647.54 L424.25,654.06 L424.50,645.82 L424.75,645.12 L425.00,649.00 L425.25,647.31 L425.50,646.56 L425.75,648.65 L426.00,646.47 L426.25,645.49 L426.50,648.03 L426.75,650.41 L427.00,651.50 L427.25,646.36 L427.50,648.29 L427.75,648.44 L428.00,645.48 L428.25,646.03 L428.50,646.14 L428.75,646.43 L429.00,647.05 L429.25,646.45 L429.50,645.52 L429.75,646.96 L430.00,645.16 L430.25,646.95 L430.50,645.24 L430.75,648.26 L431.00,646.45 L431.25,645.57 L431.50,646.80 L431.75,646.26 L432.00,648.49 L432.25,645.79 L432.50,647.96 L432.75,644.90 L433.00,646.43 L433.25,649.06 L433.50,647.49 L433.75,646.12 L434.00,645.40 L434.25,646.74 L434.50,644.87 L434.75,644.84 L435.00,647.56 L435.25,645.56 L435.50,647.36 L435.75,652.13 L436.00,645.58 L436.25,644.86 L436.50,645.78 L436.75,648.31 L437.00,646.79 L437.25,647.23 L437.50,647.14 L437.75,645.61 L438.00,645.52 L438.25,644.83 L438.50,646.84 L438.75,647.56 L439.00,645.42 L439.25,645.50 L439.50,646.24 L439.75,644.82 L440.00,647.91 L440.25,648.46 L440.50,648.45 L440.75,646.55 L441.00,648.07 L441.25,649.86 L441.50,646.82 L441.75,645.12 L442.00,646.77 L442.25,649.02 L442.50,649.04 L442.75,648.03 L443.00,645.23 L443.25,645.43 L443.50,648.30 L443.75,646.46 L444.00,648.42 L444.25,646.54 L444.50,644.84 L444.75,649.58 L445.00,646.21 L445.25,649.98 L445.50,646.51 L445.75,644.95 L446.00,650.05 L446.25,646.07 L446.50,645.96 L446.75,645.84 L447.00,649.18 L447.25,645.05 L447.50,645.83 L447.75,646.27 L448.00,645.92 L448.25,646.97 L448.50,646.12 L448.75,646.96 L449.00,646.75 L449.25,647.25 L449.50,648.09 L449.75,647.69 L450.00,645.37 L450.25,649.60 L450.50,645.39 L450.75,647.91 L451.00,648.37 L451.25,645.99 L451.50,647.39 L451.75,646.98 L452.00,653.64 L452.25,647.24 L452.50,646.74 L452.75,645.93 L453.00,646.78 L453.25,645.12 L453.50,649.10 L453.75,645.54 L454.00,647.51 L454.25,649.16 L454.50,652.66 L454.75,647.20 L455.00,647.33 L455.25,645.79 L455.50,646.68 L455.75,649.19 L456.00,645.65 L456.25,645.41 L456.50,644.89 L456.75,649.26 L457.00,647.00 L457.25,647.49 L457.50,646.36 L457.75,647.84 L458.00,651.54 L458.25,651.82 L458.50,645.51 L458.75,649.36 L459.00,644.96 L459.25,646.37 L459.50,648.67 L459.75,647.66 L460.00,646.39 L460.25,645.74 L460.50,646.85 L460.75,645.63 L461.00,645.84 L461.25,645.18 L461.50,646.30 L461.75,644.80 L462.00,645.74 L462.25,650.15 L462.50,648.28 L462.75,648.15 L463.00,648.85 L463.25,648.02 L463.50,648.49 L463.75,648.35 L464.00,647.65 L464.25,647.64 L464.50,645.91 L464.75,644.97 L465.00,649.80 L465.25,649.56 L465.50,646.25 L465.75,645.96 L466.00,644.95 L466.25,646.14 L466.50,645.60 L466.75,647.34 L467.00,645.06 L467.25,647.50 L467.50,645.38 L467.75,645.08 L468.00,646.81 L468.25,649.16 L468.50,645.48 L468.75,646.85 L469.00,647.39 L469.25,647.12 L469.50,645.19 L469.75,648.54 L470.00,646.74 L470.25,652.33 L470.50,646.61 L470.75,648.50 L471.00,646.62 L471.25,647.52 L471.50,646.27 L471.75,647.89 L472.00,645.92 L472.25,646.46 L472.50,647.99 L472.75,650.73 L473.00,649.51 L473.25,648.91 L473.50,645.50 L473.75,646.36 L474.00,648.52 L474.25,645.66 L474.50,645.35 L474.75,646.14 L475.00,644.97 L475.25,644.87 L475.50,647.63 L475.75,647.72 L476.00,647.90 L476.25,646.06 L476.50,645.35 L476.75,646.94 L477.00,645.02 L477.25,650.14 L477.50,646.35 L477.75,646.09 L478.00,645.39 L478.25,649.72 L478.50,645.45 L478.75,645.86 L479.00,645.33 L479.25,646.92 L479.50,645.90 L479.75,649.24 L480.00,645.09 L480.25,645.51 L480.50,646.72 L480.75,646.44 L481.00,644.94 L481.25,645.01 L481.50,646.09 L481.75,645.80 L482.00,647.53 L482.25,647.60 L482.50,649.17 L482.75,646.27 L483.00,646.16 L483.25,648.26 L483.50,649.13 L483.75,645.05 L484.00,645.50 L484.25,644.89 L484.50,648.97 L484.75,647.18 L485.00,645.02 L485.25,645.03 L485.50,649.73 L485.75,647.35 L486.00,647.32 L486.25,648.38 L486.50,648.63 L486.75,648.23 L487.00,647.91 L487.25,645.89 L487.50,646.39 L487.75,647.29 L488.00,647.07 L488.25,649.19 L488.50,645.90 L488.75,647.06 L489.00,646.77 L489.25,646.81 L489.50,645.60 L489.75,650.03 L490.00,647.03 L490.25,647.02 L490.50,646.53 L490.75,649.30 L491.00,644.86 L491.25,650.54 L491.50,648.25 L491.75,648.29 L492.00,646.30 L492.25,645.00 L492.50,645.94 L492.75,649.01 L493.00,645.11 L493.25,645.02 L493.50,647.53 L493.75,645.64 L494.00,646.28 L494.25,649.07 L494.50,647.98 L494.75,648.84 L495.00,646.12 L495.25,647.95 L495.50,645.39 L495.75,646.42 L496.00,650.40 L496.25,649.19 L496.50,645.58 L496.75,646.05 L497.00,645.66 L497.25,650.47 L497.50,646.01 L497.75,647.34 L498.00,647.25 L498.25,645.15 L498.50,645.65 L498.75,646.93 L499.00,649.21 L499.25,647.36 L499.50,646.05 L499.75,648.14 L500.00,646.14 L500.25,646.44 L500.50,645.23 L500.75,645.03 L501.00,646.23 L501.25,645.05 L501.50,646.79 L501.75,645.40 L502.00,646.60 L502.25,645.47 L502.50,645.36 L502.75,648.57 L503.00,645.90 L503.25,646.28 L503.50,645.96 L503.75,650.06 L504.00,651.36 L504.25,646.50 L504.50,646.24 L504.75,647.53 L505.00,645.25 L505.25,646.68 L505.50,647.57 L505.75,645.79 L506.00,649.75 L506.25,645.52 L506.50,649.02 L506.75,649.24 L507.00,647.14 L507.25,645.73 L507.50,644.93 L507.75,649.20 L508.00,646.10 L508.25,647.32 L508.50,647.41 L508.75,645.70 L509.00,645.67 L509.25,646.03 L509.50,650.85 L509.75,647.46 L510.00,647.37 L510.25,648.93 L510.50,645.19 L510.75,647.63 L511.00,647.86 L511.25,645.07 L511.50,645.88 L511.75,646.95 L512.00,647.40 L512.25,645.15 L512.50,645.44 L512.75,647.81 L513.00,646.68 L513.25,646.00 L513.50,647.52 L513.75,647.75 L514.00,648.84 L514.25,648.80 L514.50,648.08 L514.75,645.26 L515.00,648.04 L515.25,648.76 L515.50,648.13 L515.75,645.79 L516.00,647.10 L516.25,648.02 L516.50,646.39 L516.75,649.24 L517.00,646.28 L517.25,646.29 L517.50,648.71 L517.75,645.70 L518.00,647.33 L518.25,646.01 L518.50,646.84 L518.75,648.30 L519.00,645.40 L519.25,645.97 L519.50,647.04 L519.75,647.08 L520.00,651.21 L520.25,648.85 L520.50,646.36 L520.75,646.37 L521.00,646.63 L521.25,646.17 L521.50,646.12 L521.75,648.97 L522.00,647.00 L522.25,650.40 L522.50,645.76 L522.75,650.72 L523.00,646.14 L523.25,649.17 L523.50,647.48 L523.75,647.47 L524.00,645.89 L524.25,645.12 L524.50,645.01 L524.75,650.33 L525.00,649.60 L525.25,648.98 L525.50,646.54 L525.75,648.51 L526.00,645.41 L526.25,647.91 L526.50,646.56 L526.75,645.92 L527.00,646.77 L527.25,647.24 L527.50,646.60 L527.75,645.65 L528.00,647.37 L528.25,652.31 L528.50,646.61 L528.75,647.98 L529.00,645.47 L529.25,646.79 L529.50,646.25 L529.75,645.21 L530.00,647.22 L530.25,647.30 L530.50,645.50 L530.75,646.90 L531.00,645.35 L531.25,644.90 L531.50,647.61 L531.75,647.89 L532.00,647.42 L532.25,647.13 L532.50,648.70 L532.75,648.04 L533.00,645.13 L533.25,649.01 L533.50,648.29 L533.75,647.31 L534.00,644.89 L534.25,651.54 L534.50,644.81 L534.75,645.57 L535.00,645.89 L535.25,648.87 L535.50,647.09 L535.75,645.56 L536.00,648.64 L536.25,645.09 L536.50,648.95 L536.75,646.07 L537.00,646.41 L537.25,646.26 L537.50,645.76 L537.75,645.50 L538.00,649.25 L538.25,644.85 L538.50,650.34 L538.75,649.48 L539.00,649.17 L539.25,646.02 L539.50,645.97 L539.75,649.53 L540.00,646.48 L540.25,644.90 L540.50,648.04 L540.75,646.64 L541.00,648.84 L541.25,645.43 L541.50,645.07 L541.75,647.86 L542.00,646.29 L542.25,645.51 L542.50,646.08 L542.75,653.57 L543.00,646.01 L543.25,648.67 L543.50,648.74 L543.75,648.22 L544.00,646.12 L544.25,650.69 L544.50,647.56 L544.75,647.63 L545.00,645.84 L545.25,644.85 L545.50,647.89 L545.75,645.54 L546.00,650.29 L546.25,646.33 L546.50,647.09 L546.75,645.70 L547.00,647.12 L547.25,649.20 L547.50,650.13 L547.75,651.19 L548.00,650.97 L548.25,646.55 L548.50,646.22 L548.75,646.29 L549.00,646.39 L549.25,646.08 L549.50,644.95 L549.75,647.94 L550.00,648.38 L550.25,645.53 L550.50,646.22 L550.75,647.54 L551.00,646.29 L551.25,645.71 L551.50,645.72 L551.75,647.51 L552.00,645.91 L552.25,652.34 L552.50,649.21 L552.75,649.38 L553.00,650.86 L553.25,647.41 L553.50,649.20 L553.75,647.93 L554.00,647.67 L554.25,646.56 L554.50,645.29 L554.75,646.20 L555.00,650.17 L555.25,646.20 L555.50,646.50 L555.75,647.08 L556.00,645.83 L556.25,647.74 L556.50,644.92 L556.75,644.97 L557.00,646.46 L557.25,648.05 L557.50,645.66 L557.75,645.65 L558.00,648.13 L558.25,647.62 L558.50,645.10 L558.75,649.16 L559.00,648.69 L559.25,646.56 L559.50,647.21 L559.75,648.11 L560.00,646.10 L560.25,647.83 L560.50,646.36 L560.75,648.34 L561.00,648.62 L561.25,646.01 L561.50,645.53 L561.75,650.46 L562.00,649.78 L562.25,646.11 L562.50,645.45 L562.75,646.59 L563.00,647.20 L563.25,645.30 L563.50,647.09 L563.75,645.85 L564.00,645.22 L564.25,647.39 L564.50,646.14 L564.75,646.81 L565.00,645.97 L565.25,650.24 L565.50,646.44 L565.75,649.03 L566.00,648.32 L566.25,646.49 L566.50,648.77 L566.75,647.20 L567.00,647.97 L567.25,649.33 L567.50,646.06 L567.75,647.30 L568.00,646.49 L568.25,648.08 L568.50,648.90 L568.75,644.82 L569.00,648.29 L569.25,647.44 L569.50,646.01 L569.75,646.84 L570.00,645.66 L570.25,649.05 L570.50,647.93 L570.75,646.39 L571.00,645.35 L571.25,645.46 L571.50,652.16 L571.75,646.50 L572.00,648.29 L572.25,649.32 L572.50,645.66 L572.75,647.10 L573.00,646.11 L573.25,647.20 L573.50,647.93 L573.75,646.04 L574.00,647.71 L574.25,646.39 L574.50,649.31 L574.75,645.82 L575.00,647.80 L575.25,646.97 L575.50,645.29 L575.75,646.58 L576.00,645.67 L576.25,645.40 L576.50,644.85 L576.75,646.28 L577.00,647.72 L577.25,646.88 L577.50,646.80 L577.75,644.94 L578.00,645.01 L578.25,645.85 L578.50,649.89 L578.75,647.64 L579.00,645.59 L579.25,648.52 L579.50,644.81 L579.75,647.90 L580.00,645.62 L580.25,646.04 L580.50,647.14 L580.75,646.26 L581.00,645.07 L581.25,646.68 L581.50,645.16 L581.75,648.26 L582.00,645.66 L582.25,646.55 L582.50,645.44 L582.75,647.81 L583.00,648.75 L583.25,646.11 L583.50,645.83 L583.75,646.44 L584.00,645.58 L584.25,649.23 L584.50,646.59 L584.75,651.34 L585.00,646.06 L585.25,648.60 L585.50,644.91 L585.75,645.09 L586.00,648.47 L586.25,648.75 L586.50,648.28 L586.75,647.83 L587.00,646.36 L587.25,645.30 L587.50,649.93 L587.75,645.73 L588.00,644.98 L588.25,646.93 L588.50,646.47 L588.75,648.36 L589.00,646.44 L589.25,649.43 L589.50,652.16 L589.75,647.08 L590.00,645.81 L590.25,644.84 L590.50,646.14 L590.75,645.63 L591.00,645.04 L591.25,646.83 L591.50,645.74 L591.75,644.84 L592.00,645.14 L592.25,645.11 L592.50,644.97 L592.75,646.66 L593.00,645.02 L593.25,645.26 L593.50,645.55 L593.75,648.59 L594.00,646.56 L594.25,645.67 L594.50,648.03 L594.75,646.79 L595.00,648.28 L595.25,645.04 L595.50,645.05 L595.75,649.13 L596.00,648.92 L596.25,645.11 L596.50,647.55 L596.75,645.39 L597.00,645.62 L597.25,646.19 L597.50,648.76 L597.75,648.49 L598.00,646.87 L598.25,647.04" fill="none" stroke="#151515" stroke-width="0.65" stroke-linejoin="round" stroke-linecap="butt"/>
<line x1="321.90" y1="646.00" x2="321.90" y2="662.70" stroke="#444" stroke-width="0.8"/>
<line x1="495.00" y1="646.00" x2="495.00" y2="670.90" stroke="#555" stroke-width="0.8"/>
</svg>
</body></html>
